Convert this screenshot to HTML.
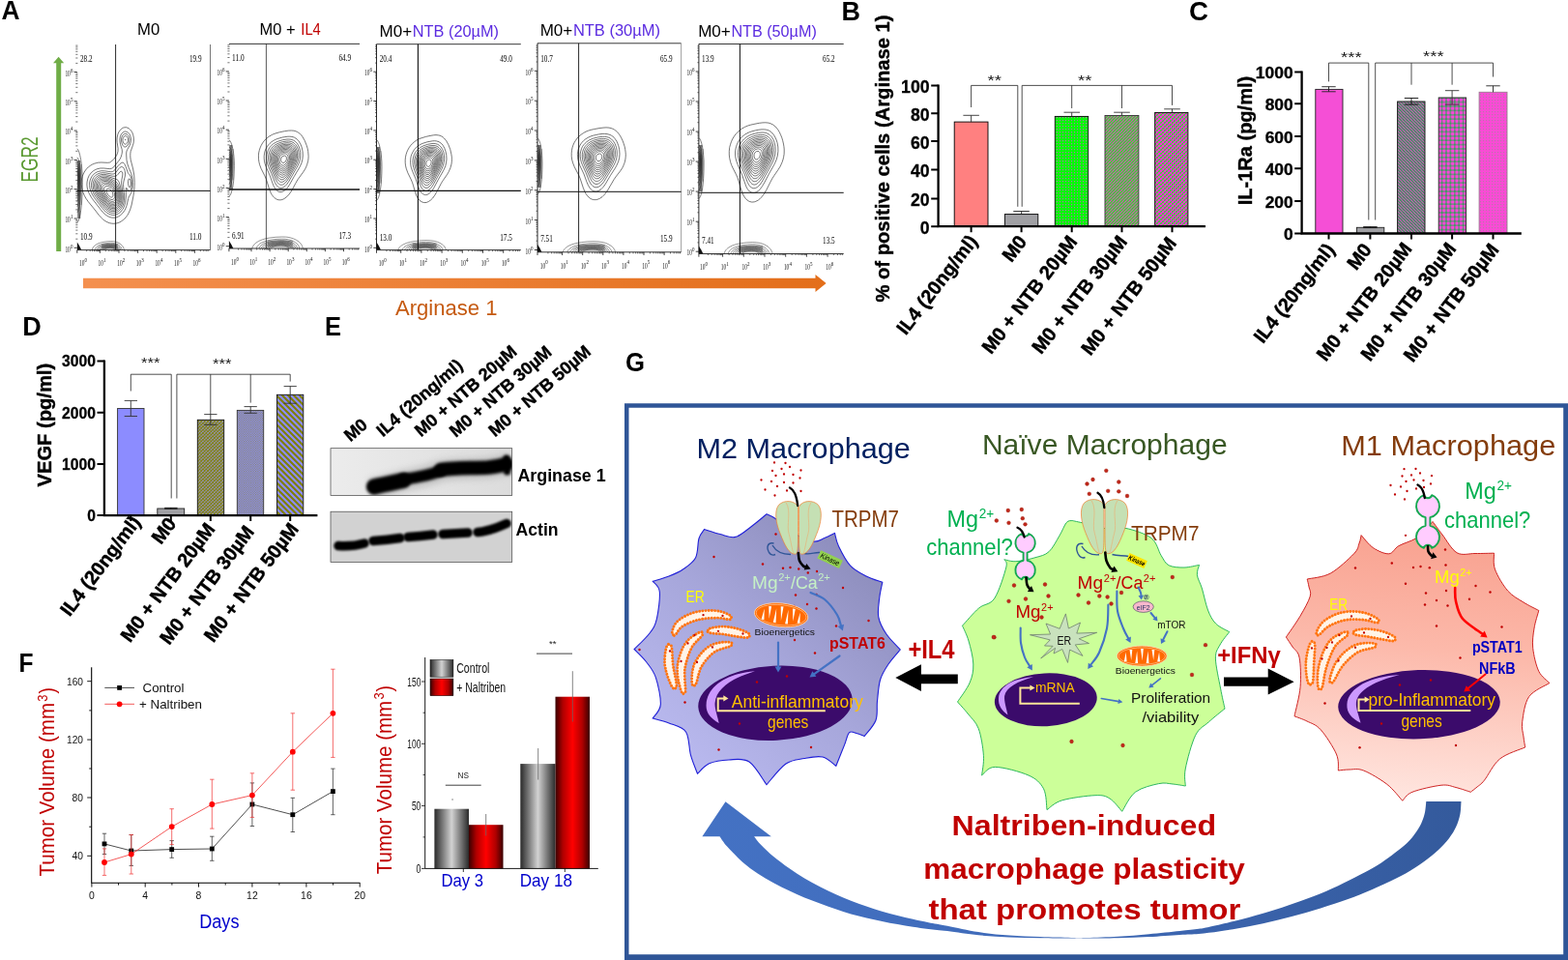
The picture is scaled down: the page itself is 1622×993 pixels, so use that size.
<!DOCTYPE html>
<html lang="en"><head><meta charset="utf-8"><title>Figure</title>
<style>
html,body{margin:0;padding:0;background:#fff;}
body{width:1622px;height:993px;overflow:hidden;font-family:"Liberation Sans",Arial,sans-serif;}
svg{display:block;}
text.s{font-family:"Liberation Sans",Arial,sans-serif;}
text.r{font-family:"Liberation Serif","Times New Roman",serif;}
</style></head><body>
<svg width="1622" height="993" viewBox="0 0 1622 993">
<defs><linearGradient id="gOr" x1="0" x2="1" y1="0" y2="0"><stop offset="0" stop-color="#F4904F"/><stop offset="1" stop-color="#E36E1A"/></linearGradient>
<pattern id="pB3" width="3" height="3" patternUnits="userSpaceOnUse"><rect width="3" height="3" fill="#00FF00"/><rect x="1" y="1" width="1.1" height="1.3" fill="#B06CB0"/></pattern><pattern id="pB4" width="3.2" height="3.2" patternUnits="userSpaceOnUse"><rect width="3.2" height="3.2" fill="#00FF00"/><path d="M-1 1L1 -1M-1 4.2L4.2 -1M2.2 4.2L4.2 2.2" stroke="#FF33DD" stroke-width="1.1"/></pattern><pattern id="pB5" width="4" height="4" patternUnits="userSpaceOnUse"><rect width="4" height="4" fill="#FF33DD"/><path d="M0.35 3.65L1.65 2.35M2.35 1.65L3.65 0.35" stroke="#00FF00" stroke-width="1.35"/></pattern><pattern id="pC3" width="3.2" height="3.2" patternUnits="userSpaceOnUse"><rect width="3.2" height="3.2" fill="#F050D0"/><path d="M-1 2.2L1 4.2M-1 -1L4.2 4.2M2.2 -1L4.2 1" stroke="#10A040" stroke-width="1.15"/></pattern><pattern id="pC4" width="4.4" height="4.4" patternUnits="userSpaceOnUse"><rect width="4.4" height="4.4" fill="#20A84C"/><rect x="0.5" y="0.5" width="3.4" height="3.4" rx="0.5" fill="#FF44DD"/></pattern><pattern id="pC5" width="3" height="3" patternUnits="userSpaceOnUse"><rect width="3" height="3" fill="#FA4BD6"/><rect x="1" y="1" width="1.1" height="1.2" fill="#B878A8"/></pattern><pattern id="pD3" width="3.4" height="3.4" patternUnits="userSpaceOnUse"><rect width="3.4" height="3.4" fill="#808000"/><path d="M0.3 3.1L1.4 2M2 1.4L3.1 0.3" stroke="#9A9AFF" stroke-width="1.2"/></pattern><pattern id="pD4" width="2.4" height="2.4" patternUnits="userSpaceOnUse"><rect width="2.4" height="2.4" fill="#8C8CFF"/><rect x="0" y="0" width="1.1" height="1.1" fill="#8A8A50"/><rect x="1.2" y="1.2" width="1.1" height="1.1" fill="#8A8A50"/></pattern><pattern id="pD5" width="6" height="6" patternUnits="userSpaceOnUse"><rect width="6" height="6" fill="#808000"/><path d="M-1 5L1 7M-1 -1L7 7M5 -1L7 1" stroke="#8C8CFF" stroke-width="2.1"/></pattern>

<filter id="bl1" filterUnits="userSpaceOnUse" x="330" y="450" width="220" height="150"><feGaussianBlur stdDeviation="1.6"/></filter>
<filter id="bl2" filterUnits="userSpaceOnUse" x="330" y="450" width="220" height="150"><feGaussianBlur stdDeviation="1.3"/></filter>
<filter id="bl3" filterUnits="userSpaceOnUse" x="330" y="450" width="220" height="150"><feGaussianBlur stdDeviation="3"/></filter>
<clipPath id="cE1"><rect x="342" y="463.7" width="187.7" height="48.9"/></clipPath>
<clipPath id="cE2"><rect x="342" y="529.2" width="187.7" height="52.2"/></clipPath>
<linearGradient id="gE1" x1="0" x2="1"><stop offset="0" stop-color="#ECECEC"/><stop offset="1" stop-color="#DCDCDC"/></linearGradient>
<linearGradient id="gGray" x1="0" x2="1"><stop offset="0" stop-color="#2a2a2a"/><stop offset="0.5" stop-color="#d2d2d2"/><stop offset="1" stop-color="#2a2a2a"/></linearGradient>
<linearGradient id="gRed" x1="0" x2="1"><stop offset="0" stop-color="#3a0000"/><stop offset="0.22" stop-color="#b00000"/><stop offset="0.5" stop-color="#ff0000"/><stop offset="0.78" stop-color="#b00000"/><stop offset="1" stop-color="#3a0000"/></linearGradient>


<linearGradient id="gM2" x1="0.1" y1="0.95" x2="0.9" y2="0.05"><stop offset="0" stop-color="#BCBCF2"/><stop offset="0.5" stop-color="#A6A6DA"/><stop offset="1" stop-color="#8888B6"/></linearGradient>
<linearGradient id="gM1" x1="0.55" y1="0" x2="0.45" y2="1"><stop offset="0" stop-color="#F89F8D"/><stop offset="0.45" stop-color="#FCB9AA"/><stop offset="1" stop-color="#FFE6E0"/></linearGradient>
<linearGradient id="gBig" gradientUnits="userSpaceOnUse" x1="726" y1="0" x2="1511" y2="0"><stop offset="0" stop-color="#4472C4"/><stop offset="0.45" stop-color="#3F6AB8"/><stop offset="1" stop-color="#345A9C"/></linearGradient>

</defs>
<rect width="1622" height="993" fill="#fff"/>
<g id="pa"><text x="1.5" y="20.3" class="s" font-size="27.5" font-weight="bold" fill="#000" textLength="19" lengthAdjust="spacingAndGlyphs" >A</text><path d="M58.2 260 L58.2 65.2 L55 65.2 L60.6 58.8 L66.2 65.2 L63.2 65.2 L63.2 260 Z" fill="#70AD47" stroke="none" stroke-width="1" /><text class="s" font-size="23.2" fill="#5B9A32" textLength="47" lengthAdjust="spacingAndGlyphs" transform="translate(39 188.5) rotate(-90)" >EGR2</text><path d="M86 287.8 L843.5 287.8 L843.5 284 L854.6 293 L843.5 302 L843.5 298.2 L86 298.2 Z" fill="url(#gOr)" stroke="none" stroke-width="1" /><text x="409" y="326.2" class="s" font-size="22.6" fill="#C55A11" textLength="105.5" lengthAdjust="spacingAndGlyphs" >Arginase 1</text><text x="142" y="36" class="s" font-size="16.6" fill="#000" textLength="23.2" lengthAdjust="spacingAndGlyphs" >M0</text><text x="268.6" y="35.9" class="s" font-size="16.6" fill="#000" textLength="37" lengthAdjust="spacingAndGlyphs" >M0 +</text><text x="311.3" y="35.9" class="s" font-size="16.6" fill="#C00000" textLength="20.5" lengthAdjust="spacingAndGlyphs" >IL4</text><text x="392.6" y="38" class="s" font-size="16.6" fill="#000" textLength="33.6" lengthAdjust="spacingAndGlyphs" >M0+</text><text x="426.8" y="38" class="s" font-size="16.6" fill="#5B2BE0" textLength="89.2" lengthAdjust="spacingAndGlyphs" >NTB (20µM)</text><text x="558.7" y="37" class="s" font-size="16.6" fill="#000" textLength="33.6" lengthAdjust="spacingAndGlyphs" >M0+</text><text x="592.9" y="37" class="s" font-size="16.6" fill="#5B2BE0" textLength="90.1" lengthAdjust="spacingAndGlyphs" >NTB (30µM)</text><text x="722.2" y="38" class="s" font-size="16.6" fill="#000" textLength="33.6" lengthAdjust="spacingAndGlyphs" >M0+</text><text x="756.4" y="38" class="s" font-size="16.6" fill="#5B2BE0" textLength="88.4" lengthAdjust="spacingAndGlyphs" >NTB (50µM)</text><path d="M120.3 231.0L117.8 231.3L115.3 231.1L113.3 230.7L110.8 229.7L108.3 228.3L106.3 226.7L104.3 224.8L102.3 222.5L97.3 216.0L91.2 208.5L89.1 205.5L87.4 202.5L85.7 198.5L84.7 194.5L84.2 190.5L84.3 187.0L84.6 185.0L85.2 182.5L86.2 180.0L87.2 178.0L88.5 176.0L89.8 174.4L91.3 172.9L93.3 171.4L95.3 170.2L97.3 169.3L99.3 168.7L101.3 168.2L104.8 168.0L111.3 168.3L113.3 168.1L114.3 167.7L115.3 167.0L117.8 164.5L119.7 162.0L120.8 160.3L121.5 158.5L122.0 156.5L122.1 153.5L121.2 147.5L121.0 145.0L121.2 142.0L122.0 138.5L122.7 137.0L123.5 135.5L125.3 133.5L126.3 132.7L127.8 132.0L128.8 131.8L130.3 131.7L131.8 132.1L133.3 132.9L134.3 133.7L135.5 135.0L136.5 136.5L137.2 138.0L137.7 139.5L138.2 142.0L138.4 145.0L138.1 148.0L137.4 150.5L135.2 156.5L134.9 158.5L134.8 160.5L134.9 163.0L135.3 165.7L137.7 175.0L138.7 181.0L139.0 185.0L139.2 188.5L139.1 192.5L138.9 196.0L138.0 202.5L136.1 212.0L134.6 217.0L133.0 220.5L131.9 222.5L130.4 224.5L128.8 226.3L127.3 227.6L125.8 228.7L123.8 229.9L121.8 230.6L120.3 231.0M119.3 225.1L117.8 225.2L115.8 225.1L113.8 224.7L111.8 223.8L109.8 222.6L108.3 221.4L106.3 219.4L104.3 217.0L95.4 205.5L93.8 203.0L92.4 200.5L91.1 197.5L90.2 194.0L89.9 191.0L90.1 188.0L90.9 184.5L92.2 181.5L94.3 178.7L96.8 176.6L98.3 175.7L100.3 174.8L103.8 174.0L107.3 174.0L113.3 174.6L115.3 174.3L116.8 173.5L117.8 172.6L122.7 166.5L124.1 164.5L125.1 162.5L126.0 159.5L126.4 157.0L126.2 154.5L124.6 149.5L124.1 147.0L123.9 144.0L124.3 141.5L125.3 139.0L126.8 137.2L128.3 136.3L129.3 136.0L130.3 136.1L131.3 136.4L132.3 136.9L133.8 138.5L134.8 140.5L135.4 143.0L135.4 145.5L135.0 148.0L134.1 150.5L131.8 154.5L131.1 156.0L130.7 158.0L130.7 160.0L131.0 165.5L131.7 169.0L133.2 173.5L135.8 179.6L136.7 183.0L137.1 185.5L137.3 188.5L137.3 191.5L137.1 194.0L136.6 196.5L136.1 198.5L135.3 200.3L133.1 204.0L132.7 205.5L131.1 212.5L130.2 215.0L129.0 217.5L126.9 220.5L124.8 222.5L122.3 224.1L120.8 224.7L119.3 225.1M129.8 152.0L128.8 152.0L128.3 151.8L127.5 151.0L126.8 150.0L125.8 147.5L125.5 145.0L125.7 142.5L126.3 141.0L126.8 140.1L127.3 139.5L128.3 138.7L129.8 138.4L131.3 138.8L132.1 139.5L132.8 140.4L133.6 142.5L133.9 144.5L133.6 147.0L132.8 149.0L131.3 151.1L129.8 152.0M119.8 222.1L118.3 222.4L116.3 222.4L114.8 222.1L112.8 221.4L110.8 220.2L109.3 219.0L107.7 217.5L106.0 215.5L97.6 204.5L96.0 202.0L94.9 200.0L93.6 197.0L92.9 194.5L92.6 191.5L92.6 189.0L93.3 186.0L94.7 183.0L96.6 180.5L98.8 178.8L100.3 177.9L101.8 177.4L104.8 176.7L108.3 176.8L114.3 177.7L115.8 177.6L116.8 177.3L117.8 176.7L118.8 175.8L121.8 171.9L123.8 169.8L125.3 168.6L126.8 168.1L127.8 168.4L128.8 169.6L130.2 172.5L132.3 178.6L132.9 179.5L134.3 181.1L135.3 183.0L135.9 185.0L136.3 187.5L136.3 190.0L136.2 192.5L135.8 194.6L135.3 196.0L134.8 196.9L134.3 197.4L133.8 197.6L133.3 197.6L132.4 197.0L130.8 194.3L130.3 194.8L130.3 203.0L130.1 206.0L129.6 209.5L128.6 213.0L127.8 215.0L126.9 216.5L124.9 219.0L123.8 220.0L122.3 221.0L119.8 222.1M130.3 149.0L129.3 149.2L128.3 148.6L127.8 148.0L127.3 147.0L127.0 145.5L127.0 144.0L127.3 142.5L128.3 141.1L129.3 140.6L130.3 140.6L131.3 141.3L132.0 142.5L132.4 144.0L132.4 145.5L132.0 147.0L131.3 148.2L130.3 149.0M119.3 220.1L117.8 220.3L116.3 220.3L114.3 219.9L112.8 219.2L111.3 218.3L109.7 217.0L108.2 215.5L106.3 213.3L99.0 203.5L97.4 201.0L96.4 199.0L95.4 196.5L94.7 194.0L94.5 191.5L94.7 189.0L95.5 186.0L96.8 183.6L98.7 181.5L100.8 180.1L103.3 179.1L106.3 178.7L109.3 178.9L115.3 180.0L116.8 180.0L117.8 179.8L118.8 179.3L119.8 178.5L122.8 174.5L123.8 173.5L125.3 172.6L126.3 172.6L127.3 173.1L128.4 174.5L129.1 176.5L129.5 179.0L129.4 182.0L127.9 188.0L127.6 190.5L127.7 193.5L128.6 202.0L128.6 205.0L128.4 207.5L127.9 210.0L127.3 212.0L126.4 214.0L125.3 215.7L123.8 217.5L122.6 218.5L120.8 219.6L119.3 220.1M134.3 193.7L133.8 193.7L133.2 193.0L132.8 191.5L132.5 189.5L132.5 187.5L132.8 186.0L133.3 185.0L133.8 184.9L134.3 185.2L134.8 186.1L135.3 189.0L135.3 190.6L135.1 192.0L134.8 193.0L134.3 193.7M129.8 145.1L129.6 145.0L129.5 144.5L129.8 144.3L129.9 144.5L129.8 145.1M118.3 218.5L116.8 218.6L115.3 218.4L113.8 217.9L112.3 217.1L110.8 216.0L109.3 214.7L105.8 210.5L100.4 203.0L98.8 200.5L97.8 198.5L97.0 196.5L96.4 194.0L96.1 191.5L96.3 189.5L97.0 187.0L98.4 184.5L100.3 182.6L102.3 181.4L104.8 180.6L107.8 180.4L110.3 180.8L116.3 182.2L118.8 182.3L119.8 182.1L120.9 181.5L121.9 180.5L123.8 178.1L124.8 177.3L125.3 177.2L125.8 177.3L126.4 178.0L126.8 179.0L126.9 180.0L126.7 182.0L125.8 186.5L125.6 189.0L125.9 192.0L127.2 201.5L127.3 205.0L127.0 208.0L126.5 210.0L125.8 212.0L124.8 213.9L123.8 215.2L122.6 216.5L121.3 217.4L119.8 218.1L118.3 218.5M117.8 217.0L115.8 217.0L113.8 216.3L111.8 215.1L109.8 213.4L106.9 210.0L102.5 204.0L100.6 201.0L99.0 198.0L98.1 195.5L97.7 193.5L97.6 191.0L98.0 189.0L98.7 187.0L99.8 185.3L101.3 183.8L103.3 182.7L105.3 182.1L107.3 181.9L109.3 182.1L111.8 182.6L120.8 185.6L122.1 186.5L123.0 188.0L124.5 193.0L125.9 199.5L126.2 203.5L125.9 207.5L125.4 209.5L124.9 211.0L124.1 212.5L123.1 214.0L122.1 215.0L120.8 216.0L119.3 216.7L117.8 217.0M117.8 215.6L115.8 215.5L114.1 215.0L112.3 214.0L110.3 212.3L107.8 209.4L104.2 204.5L101.9 201.0L100.3 198.0L99.4 195.5L99.1 193.5L99.0 191.5L99.3 189.5L99.9 188.0L100.8 186.5L102.3 185.0L103.8 184.1L105.8 183.5L108.3 183.4L111.3 183.9L114.3 184.9L117.7 186.5L119.8 187.8L121.3 189.4L122.5 191.5L123.9 195.5L124.9 200.0L125.2 204.0L124.8 207.5L123.8 210.5L122.3 213.0L121.3 214.0L120.3 214.7L119.3 215.2L117.8 215.6M118.3 214.1L116.8 214.3L114.8 213.9L112.8 212.9L111.1 211.5L108.8 209.0L106.2 205.5L103.5 201.5L101.8 198.5L101.0 196.5L100.5 194.5L100.3 192.5L100.4 191.0L101.0 189.0L101.8 187.6L102.8 186.5L104.3 185.5L106.3 184.9L108.8 184.8L111.3 185.2L113.8 186.1L116.5 187.5L118.8 189.1L120.3 190.8L121.7 193.0L123.0 196.5L123.9 200.0L124.2 203.5L123.9 206.5L123.3 209.0L121.9 211.5L120.3 213.1L119.3 213.7L118.3 214.1M118.3 212.6L116.8 212.9L115.3 212.7L113.6 212.0L111.8 210.7L110.1 209.0L108.1 206.5L105.4 202.5L103.6 199.5L102.6 197.5L101.9 195.5L101.6 193.5L101.7 192.0L102.0 190.5L102.6 189.0L103.4 188.0L104.8 186.9L106.8 186.2L108.8 186.1L110.8 186.4L113.3 187.3L115.8 188.6L117.8 190.1L119.6 192.0L120.8 194.0L122.1 197.0L122.9 200.0L123.2 203.0L123.1 205.5L122.5 208.0L121.5 210.0L120.3 211.5L119.3 212.2L118.3 212.6M116.8 211.5L115.8 211.4L114.3 211.0L112.8 210.1L111.3 208.7L109.8 207.0L107.6 204.0L105.6 201.0L104.3 198.5L103.5 196.5L103.1 195.0L102.9 193.5L103.1 192.0L103.5 190.5L104.2 189.5L105.2 188.5L106.1 188.0L107.8 187.5L109.8 187.5L111.8 188.0L114.3 189.1L116.3 190.5L118.0 192.0L119.3 193.7L120.6 196.0L121.5 198.5L122.1 201.5L122.2 204.0L121.8 206.5L121.0 208.5L119.8 210.2L118.3 211.2L116.8 211.5M116.8 210.0L115.8 210.0L114.3 209.5L113.3 209.0L111.8 207.7L110.3 206.0L108.8 204.0L107.1 201.5L105.8 199.0L104.6 196.0L104.4 194.5L104.4 193.0L104.6 192.0L105.1 191.0L105.8 190.2L106.8 189.5L108.3 189.0L109.8 189.0L111.8 189.4L113.8 190.3L115.6 191.5L117.2 193.0L118.4 194.5L119.6 196.5L120.4 198.5L121.0 201.0L121.2 203.5L120.9 205.5L120.3 207.3L119.3 208.8L118.3 209.6L116.8 210.0M117.8 208.0L116.8 208.4L115.8 208.5L114.3 208.0L113.3 207.4L112.2 206.5L110.8 204.9L108.1 201.0L106.5 197.5L105.9 195.0L106.0 193.5L106.4 192.5L107.1 191.5L107.8 191.0L108.8 190.7L110.3 190.6L111.8 190.9L113.3 191.5L114.8 192.5L116.0 193.5L117.3 194.9L118.3 196.5L119.6 199.5L120.0 201.5L120.1 203.0L119.9 204.5L119.5 206.0L118.8 207.1L117.8 208.0M116.3 206.6L114.8 206.4L113.8 205.9L112.8 205.2L110.8 202.9L109.0 200.0L108.0 197.5L107.7 195.5L107.8 194.5L108.3 193.5L109.3 192.7L110.3 192.5L111.3 192.6L112.7 193.0L113.8 193.6L115.0 194.5L116.0 195.5L116.8 196.5L117.7 198.0L118.3 199.5L118.6 201.0L118.7 203.5L118.3 204.8L117.8 205.6L117.3 206.1L116.3 206.6M115.3 204.1L114.3 203.9L113.1 203.0L111.8 201.5L110.9 200.0L110.3 198.5L110.1 197.0L110.3 196.0L110.8 195.4L111.3 195.2L112.3 195.2L113.8 195.9L115.3 197.3L116.3 198.9L116.8 200.5L116.9 202.5L116.3 203.6L115.8 204.0L115.3 204.1" fill="none" stroke="#1a1a1a" stroke-width="0.6" /><path d="M79.8 153.8L80.3 154.3L80.8 155.0L81.8 157.3L82.7 160.5L83.7 165.5L84.5 171.5L84.9 177.0L85.2 182.0L85.3 188.5L85.2 196.5L84.9 203.5L84.5 210.0L83.7 217.5L82.9 222.0L82.0 226.0L81.3 227.9L80.8 228.9L80.3 229.6L79.8 230.1M79.8 162.9L80.3 163.3L80.7 164.0L81.3 165.2L82.0 167.5L82.7 170.5L83.1 173.5L83.6 177.5L83.9 186.0L83.5 199.0L83.1 205.0L82.7 209.5L82.0 213.5L81.3 216.8L80.7 218.5L80.3 219.2L79.8 219.8M79.8 167.0L80.3 167.5L81.1 169.0L81.7 171.0L82.2 173.0L82.6 176.0L82.9 179.0L83.1 185.5L83.0 190.5L82.7 196.5L82.0 205.0L81.5 208.5L81.0 211.0L80.3 212.9L79.8 213.7M79.8 169.7L80.3 170.3L80.8 171.3L81.3 172.8L81.8 175.0L82.4 180.0L82.6 185.0L82.2 193.0L81.6 201.0L80.8 205.8L80.3 207.6L79.8 208.6M79.8 172.0L80.3 172.6L80.8 173.8L81.5 176.5L81.9 180.5L82.1 184.5L81.9 190.0L81.3 196.4L80.6 201.0L80.3 202.3L79.8 203.6M79.8 174.0L80.3 174.8L80.6 175.5L81.2 178.0L81.5 181.0L81.6 184.5L81.5 188.5L81.0 193.0L80.3 197.2L79.8 198.7M79.8 176.1L80.3 177.0L80.8 179.2L81.1 181.5L81.2 184.5L81.1 187.0L80.8 190.0L80.3 192.9L79.8 194.4M79.8 178.3L80.4 180.5L80.6 184.0L80.4 188.0L79.8 190.7" fill="none" stroke="#1c1c1c" stroke-width="0.55" /><rect x="80.2" y="166" width="3" height="60" fill="#222" stroke="none" stroke-width="0" opacity="0.62"/><rect x="83.2" y="170" width="1.6" height="42" fill="#444" stroke="none" stroke-width="0" opacity="0.35"/><path d="M95.1 259.0L95.3 258.0L95.7 257.0L96.2 256.0L97.0 255.0L98.7 253.5L101.0 252.1L103.5 251.2L107.0 250.3L111.0 249.8L114.5 249.6L117.5 249.7L120.0 250.2L122.0 250.9L124.0 252.0L125.9 253.5L127.1 255.0L128.1 257.0L128.5 259.0M97.9 259.0L98.3 257.5L99.3 256.0L101.0 254.5L103.0 253.4L105.5 252.5L108.5 251.8L112.0 251.4L114.5 251.2L117.0 251.4L119.0 251.8L121.0 252.4L122.5 253.2L124.1 254.5L125.3 256.0L126.0 257.5L126.3 259.0M99.7 259.0L100.2 257.5L100.9 256.5L102.0 255.5L104.0 254.3L106.5 253.4L109.0 252.8L112.0 252.4L114.5 252.3L116.5 252.4L118.5 252.8L120.0 253.3L121.5 254.0L122.8 255.0L123.7 256.0L124.5 257.5L124.9 259.0M101.1 259.0L101.7 257.5L102.5 256.6L103.5 255.8L105.0 254.9L107.0 254.2L109.5 253.6L112.0 253.2L114.5 253.1L116.5 253.3L118.0 253.5L119.5 254.0L121.0 254.8L122.0 255.7L122.7 256.5L123.3 257.5L123.8 259.0M102.4 259.0L102.8 258.0L103.6 257.0L104.5 256.2L106.0 255.4L108.0 254.7L110.0 254.3L112.5 253.9L114.5 253.8L116.0 253.9L117.5 254.2L119.0 254.7L120.0 255.2L121.1 256.0L122.0 257.0L122.5 258.0L122.8 259.0M103.6 259.0L104.1 258.0L104.5 257.5L105.7 256.5L107.0 255.8L108.5 255.3L110.5 254.8L114.0 254.5L115.5 254.5L117.0 254.8L118.5 255.2L119.5 255.7L120.5 256.5L121.0 257.0L121.6 258.0L121.9 259.0M104.8 259.0L105.3 258.0L105.8 257.5L107.5 256.4L109.0 255.9L110.5 255.5L112.5 255.2L114.0 255.1L116.5 255.3L118.5 256.0L119.5 256.6L120.4 257.5L120.7 258.0L121.0 259.0M106.0 259.0L106.7 258.0L107.3 257.5L108.5 256.8L111.0 256.0L114.0 255.7L116.0 255.9L117.0 256.1L118.0 256.5L119.3 257.5L119.7 258.0L120.2 259.0M107.4 259.0L107.7 258.5L108.2 258.0L108.9 257.5L110.0 257.0L112.0 256.5L114.0 256.3L116.0 256.5L117.4 257.0L118.2 257.5L118.7 258.0L119.2 259.0" fill="none" stroke="#2a2a2a" stroke-width="0.5" /><rect x="105.15" y="252.23" width="16.625" height="5.46" fill="#333" stroke="none" stroke-width="0" opacity="0.4"/><path d="M79.8 250.6 L82.0 254.1 L84.3 258.6 L79.8 258.6 Z" fill="#111" stroke="none" stroke-width="1" /><line x1="217.5" y1="46" x2="217.5" y2="258.6" stroke="#555" stroke-width="0.8" /><line x1="79.8" y1="258.6" x2="217.5" y2="258.6" stroke="#222" stroke-width="0.9" /><line x1="119.6" y1="46" x2="119.6" y2="258.6" stroke="#111" stroke-width="0.9" /><line x1="79.8" y1="197.4" x2="217.5" y2="197.4" stroke="#111" stroke-width="1" /><text x="67.4" y="260.5" class="r" font-size="8.8" fill="#111" textLength="5.4" lengthAdjust="spacingAndGlyphs" >10</text><text x="72.9" y="256.5" class="r" font-size="6" fill="#111" textLength="2.5" lengthAdjust="spacingAndGlyphs" >0</text><text x="67.4" y="230.2" class="r" font-size="8.8" fill="#111" textLength="5.4" lengthAdjust="spacingAndGlyphs" >10</text><text x="72.9" y="226.2" class="r" font-size="6" fill="#111" textLength="2.5" lengthAdjust="spacingAndGlyphs" >1</text><text x="67.4" y="199.9" class="r" font-size="8.8" fill="#111" textLength="5.4" lengthAdjust="spacingAndGlyphs" >10</text><text x="72.9" y="195.9" class="r" font-size="6" fill="#111" textLength="2.5" lengthAdjust="spacingAndGlyphs" >2</text><text x="67.4" y="169.6" class="r" font-size="8.8" fill="#111" textLength="5.4" lengthAdjust="spacingAndGlyphs" >10</text><text x="72.9" y="165.6" class="r" font-size="6" fill="#111" textLength="2.5" lengthAdjust="spacingAndGlyphs" >3</text><text x="67.4" y="139.3" class="r" font-size="8.8" fill="#111" textLength="5.4" lengthAdjust="spacingAndGlyphs" >10</text><text x="72.9" y="135.3" class="r" font-size="6" fill="#111" textLength="2.5" lengthAdjust="spacingAndGlyphs" >4</text><text x="67.4" y="109" class="r" font-size="8.8" fill="#111" textLength="5.4" lengthAdjust="spacingAndGlyphs" >10</text><text x="72.9" y="105" class="r" font-size="6" fill="#111" textLength="2.5" lengthAdjust="spacingAndGlyphs" >5</text><text x="67.4" y="78.7" class="r" font-size="8.8" fill="#111" textLength="5.4" lengthAdjust="spacingAndGlyphs" >10</text><text x="72.9" y="74.7" class="r" font-size="6" fill="#111" textLength="2.5" lengthAdjust="spacingAndGlyphs" >6</text><text x="82" y="275.4" class="r" font-size="8.8" fill="#111" textLength="5.4" lengthAdjust="spacingAndGlyphs" >10</text><text x="87.5" y="271.2" class="r" font-size="6" fill="#111" textLength="2.5" lengthAdjust="spacingAndGlyphs" >0</text><text x="101.6" y="275.4" class="r" font-size="8.8" fill="#111" textLength="5.4" lengthAdjust="spacingAndGlyphs" >10</text><text x="107.1" y="271.2" class="r" font-size="6" fill="#111" textLength="2.5" lengthAdjust="spacingAndGlyphs" >1</text><text x="121.2" y="275.4" class="r" font-size="8.8" fill="#111" textLength="5.4" lengthAdjust="spacingAndGlyphs" >10</text><text x="126.7" y="271.2" class="r" font-size="6" fill="#111" textLength="2.5" lengthAdjust="spacingAndGlyphs" >2</text><text x="140.8" y="275.4" class="r" font-size="8.8" fill="#111" textLength="5.4" lengthAdjust="spacingAndGlyphs" >10</text><text x="146.3" y="271.2" class="r" font-size="6" fill="#111" textLength="2.5" lengthAdjust="spacingAndGlyphs" >3</text><text x="160.4" y="275.4" class="r" font-size="8.8" fill="#111" textLength="5.4" lengthAdjust="spacingAndGlyphs" >10</text><text x="165.9" y="271.2" class="r" font-size="6" fill="#111" textLength="2.5" lengthAdjust="spacingAndGlyphs" >4</text><text x="180" y="275.4" class="r" font-size="8.8" fill="#111" textLength="5.4" lengthAdjust="spacingAndGlyphs" >10</text><text x="185.5" y="271.2" class="r" font-size="6" fill="#111" textLength="2.5" lengthAdjust="spacingAndGlyphs" >5</text><text x="199.6" y="275.4" class="r" font-size="8.8" fill="#111" textLength="5.4" lengthAdjust="spacingAndGlyphs" >10</text><text x="205.1" y="271.2" class="r" font-size="6" fill="#111" textLength="2.5" lengthAdjust="spacingAndGlyphs" >6</text><path d="M76.6 256.3H79.8M76.6 226.0H79.8M76.6 195.7H79.8M76.6 165.4H79.8M76.6 135.1H79.8M76.6 104.8H79.8M76.6 74.5H79.8M103.4 258.6V261.8M123.0 258.6V261.8M142.6 258.6V261.8M162.2 258.6V261.8M181.8 258.6V261.8M201.4 258.6V261.8M79.8 258.6V261.8" fill="none" stroke="#111" stroke-width="0.8" /><path d="M78.3 247.2H80.4M78.3 241.8H80.4M78.3 238.1H80.4M78.3 235.1H80.4M78.3 232.7H80.4M78.3 230.7H80.4M78.3 228.9H80.4M78.3 227.4H80.4M78.3 216.9H80.4M78.3 211.5H80.4M78.3 207.8H80.4M78.3 204.8H80.4M78.3 202.4H80.4M78.3 200.4H80.4M78.3 198.6H80.4M78.3 197.1H80.4M78.3 186.6H80.4M78.3 181.2H80.4M78.3 177.5H80.4M78.3 174.5H80.4M78.3 172.1H80.4M78.3 170.1H80.4M78.3 168.3H80.4M78.3 166.8H80.4M78.3 156.3H80.4M78.3 150.9H80.4M78.3 147.2H80.4M78.3 144.2H80.4M78.3 141.8H80.4M78.3 139.8H80.4M78.3 138.0H80.4M78.3 136.5H80.4M78.3 126.0H80.4M78.3 120.6H80.4M78.3 116.9H80.4M78.3 113.9H80.4M78.3 111.5H80.4M78.3 109.5H80.4M78.3 107.7H80.4M78.3 106.2H80.4M78.3 95.7H80.4M78.3 90.3H80.4M78.3 86.6H80.4M78.3 83.6H80.4M78.3 81.2H80.4M78.3 79.2H80.4M78.3 77.4H80.4M78.3 75.9H80.4M78.3 65.4H80.4M78.3 60.0H80.4M78.3 56.3H80.4M78.3 53.3H80.4M78.3 50.9H80.4M78.3 48.9H80.4M78.3 47.1H80.4M89.7 258.6V260.2M93.2 258.6V260.2M95.6 258.6V260.2M97.5 258.6V260.2M99.1 258.6V260.2M100.4 258.6V260.2M101.5 258.6V260.2M102.5 258.6V260.2M109.3 258.6V260.2M112.8 258.6V260.2M115.2 258.6V260.2M117.1 258.6V260.2M118.7 258.6V260.2M120.0 258.6V260.2M121.1 258.6V260.2M122.1 258.6V260.2M128.9 258.6V260.2M132.4 258.6V260.2M134.8 258.6V260.2M136.7 258.6V260.2M138.3 258.6V260.2M139.6 258.6V260.2M140.7 258.6V260.2M141.7 258.6V260.2M148.5 258.6V260.2M152.0 258.6V260.2M154.4 258.6V260.2M156.3 258.6V260.2M157.9 258.6V260.2M159.2 258.6V260.2M160.3 258.6V260.2M161.3 258.6V260.2M168.1 258.6V260.2M171.6 258.6V260.2M174.0 258.6V260.2M175.9 258.6V260.2M177.5 258.6V260.2M178.8 258.6V260.2M179.9 258.6V260.2M180.9 258.6V260.2M187.7 258.6V260.2M191.2 258.6V260.2M193.6 258.6V260.2M195.5 258.6V260.2M197.1 258.6V260.2M198.4 258.6V260.2M199.5 258.6V260.2M200.5 258.6V260.2M207.3 258.6V260.2M210.8 258.6V260.2M213.2 258.6V260.2M215.1 258.6V260.2" fill="none" stroke="#111" stroke-width="0.6" /><text x="83" y="64.2" class="r" font-size="10.8" fill="#000" textLength="12.6" lengthAdjust="spacingAndGlyphs" >28.2</text><text x="195.9" y="64.2" class="r" font-size="10.8" fill="#000" textLength="12.6" lengthAdjust="spacingAndGlyphs" >19.9</text><text x="83" y="248.2" class="r" font-size="10.8" fill="#000" textLength="12.6" lengthAdjust="spacingAndGlyphs" >10.9</text><text x="195.9" y="248.2" class="r" font-size="10.8" fill="#000" textLength="12.6" lengthAdjust="spacingAndGlyphs" >11.0</text><path d="M291.9 206.5L290.4 206.8L288.4 206.8L286.9 206.4L285.4 205.7L283.9 204.6L282.4 203.0L281.2 201.4L280.1 199.4L278.5 195.4L275.4 185.3L273.9 181.9L270.1 174.4L268.6 170.4L267.9 167.4L267.5 164.4L267.4 160.9L267.7 157.9L268.3 155.4L269.1 152.9L270.2 150.4L271.6 147.9L273.1 145.9L274.9 143.9L276.9 142.2L278.9 140.8L281.4 139.4L283.9 138.3L289.4 136.7L294.4 135.7L298.4 135.1L301.4 135.0L303.9 135.2L305.9 135.7L307.4 136.4L308.9 137.3L310.4 138.5L311.8 139.9L312.9 141.4L315.2 145.4L317.2 150.4L318.1 153.4L318.7 156.4L319.1 161.4L319.0 163.9L318.7 166.4L317.6 170.4L316.6 172.9L315.6 174.9L313.7 177.9L307.9 185.9L305.9 189.4L302.7 195.4L300.6 198.9L298.4 201.8L296.4 203.8L293.9 205.6L291.9 206.5M291.4 198.5L289.9 198.6L288.9 198.4L287.9 198.1L286.9 197.5L285.9 196.6L284.9 195.5L283.1 192.4L282.1 189.9L279.4 182.1L275.6 173.4L274.1 169.4L273.5 166.9L273.2 163.9L273.2 161.4L273.5 158.9L273.9 156.9L274.6 154.9L276.5 151.4L277.6 149.9L279.0 148.4L280.4 147.1L282.4 145.7L284.4 144.6L286.4 143.7L291.9 142.1L294.9 141.6L297.9 141.2L299.9 141.2L301.9 141.4L304.4 142.1L306.9 143.7L309.0 145.9L310.8 148.9L312.2 152.4L313.1 156.9L313.3 160.9L312.9 164.9L312.0 168.4L310.3 172.4L304.4 182.3L299.0 191.9L297.2 194.4L295.4 196.3L293.4 197.7L291.4 198.5M291.4 194.4L290.4 194.5L289.4 194.3L288.4 193.9L287.4 193.2L285.9 191.4L284.2 188.4L280.9 179.7L277.7 172.4L276.5 168.9L276.0 166.4L275.7 163.9L275.8 161.4L276.1 159.4L277.1 155.9L278.7 152.9L280.9 150.3L282.4 149.0L283.9 148.0L285.9 146.9L287.9 146.1L292.4 144.7L296.9 144.0L298.9 144.0L300.9 144.2L303.4 145.0L305.4 146.2L307.4 148.3L308.9 150.9L310.0 153.9L310.7 157.4L310.8 160.9L310.5 164.4L309.6 167.9L307.8 171.9L298.4 188.3L296.5 190.9L294.9 192.6L293.4 193.7L291.4 194.4M292.4 191.0L291.4 191.2L290.4 191.2L289.4 190.9L288.6 190.4L286.9 188.7L285.4 186.1L279.8 172.9L278.5 169.4L278.0 167.4L277.7 164.9L277.6 162.4L277.8 160.4L278.6 157.4L280.1 154.4L282.2 151.9L284.9 149.7L288.4 148.0L292.4 146.7L296.4 146.1L298.4 146.0L299.9 146.2L301.9 146.7L304.1 147.9L305.9 149.7L307.3 151.9L308.3 154.4L308.9 157.4L309.1 160.4L308.8 163.9L307.7 167.9L306.2 171.4L298.9 184.1L296.9 187.1L295.4 188.9L293.9 190.2L292.4 191.0M291.4 188.4L290.4 188.3L289.4 187.9L288.4 187.1L287.4 185.9L285.4 182.2L281.7 173.9L280.2 169.9L279.4 166.4L279.1 163.4L279.4 160.4L280.4 157.4L281.8 154.9L283.9 152.5L286.1 150.9L289.4 149.3L293.4 148.2L296.9 147.7L299.9 148.0L301.9 148.7L303.7 149.9L305.1 151.4L306.2 153.4L307.1 155.9L307.5 158.4L307.6 161.4L307.2 164.4L306.2 167.9L304.7 171.4L302.2 175.9L297.9 182.9L295.9 185.6L294.4 187.1L292.9 188.0L291.4 188.4M292.9 185.5L291.9 185.8L290.9 185.8L289.4 185.1L287.8 183.4L285.9 180.0L282.9 173.4L281.2 168.9L280.8 166.9L280.5 164.9L280.7 161.4L281.3 158.9L282.5 156.4L284.4 154.1L286.4 152.4L289.4 150.8L292.9 149.7L295.9 149.3L298.9 149.4L300.9 150.0L302.4 150.9L303.9 152.4L304.9 153.9L305.7 155.9L306.2 158.4L306.4 160.9L306.1 163.4L305.6 165.9L304.5 168.9L303.1 171.9L301.1 175.4L298.4 179.7L296.4 182.5L294.4 184.6L292.9 185.5M291.9 183.4L290.9 183.3L289.9 182.8L288.4 181.4L286.8 178.9L284.6 174.4L282.9 170.4L282.1 167.4L281.7 164.4L282.0 161.4L282.7 158.9L283.8 156.9L285.4 154.9L287.4 153.3L289.9 152.0L292.9 151.0L295.9 150.6L298.4 150.8L300.4 151.4L301.9 152.4L303.3 153.9L304.1 155.4L304.8 157.4L305.1 159.4L305.2 161.9L304.8 164.4L303.9 167.4L302.6 170.4L300.7 173.9L298.4 177.6L296.4 180.3L294.9 181.9L293.4 183.0L291.9 183.4M292.9 181.0L291.4 181.1L289.9 180.4L288.9 179.5L288.1 178.4L286.3 175.4L284.5 171.4L283.3 167.9L282.9 164.9L283.1 161.9L283.8 159.4L284.9 157.5L286.4 155.7L288.1 154.4L290.4 153.1L292.9 152.3L295.4 151.9L297.9 152.1L299.4 152.5L300.9 153.4L302.0 154.4L303.0 155.9L303.6 157.4L304.0 159.4L304.1 161.4L303.8 163.9L303.2 166.4L302.2 168.9L301.0 171.4L299.4 174.1L297.4 177.0L295.9 178.8L294.4 180.2L292.9 181.0M292.9 179.0L291.4 179.0L289.9 178.2L288.4 176.5L286.8 173.9L285.4 170.9L284.5 167.9L284.0 164.9L284.2 162.4L284.7 160.4L285.7 158.4L286.9 156.9L288.7 155.4L290.9 154.2L292.9 153.6L295.4 153.2L297.4 153.3L298.9 153.8L300.0 154.4L301.1 155.4L302.1 156.9L302.6 158.4L302.9 159.9L303.0 161.9L302.8 163.9L302.3 165.9L301.4 168.4L300.4 170.4L298.9 172.9L297.4 175.1L295.9 176.9L294.4 178.2L292.9 179.0M292.9 177.0L291.4 176.9L289.9 176.0L288.5 174.4L287.4 172.6L286.2 169.9L285.4 167.4L285.1 164.9L285.3 162.9L285.8 160.9L286.5 159.4L287.6 157.9L289.4 156.4L290.9 155.5L292.9 154.8L294.9 154.5L296.9 154.6L298.4 155.1L299.4 155.7L300.2 156.4L300.9 157.4L301.5 158.9L301.8 160.4L301.9 161.9L301.7 163.9L301.2 165.9L300.5 167.9L299.4 170.2L298.0 172.4L296.9 173.9L295.4 175.5L293.9 176.6L292.9 177.0M293.4 175.0L291.9 175.1L290.9 174.7L289.4 173.4L288.4 172.0L287.4 169.9L286.6 167.4L286.3 165.4L286.4 163.4L286.7 161.9L287.3 160.4L288.4 158.9L289.4 157.9L290.9 156.9L292.4 156.3L294.4 155.8L295.9 155.8L297.4 156.2L298.4 156.7L299.2 157.4L299.9 158.4L300.4 159.5L300.7 160.9L300.7 163.4L300.4 165.1L299.8 166.9L298.9 168.9L297.9 170.7L296.6 172.4L295.4 173.7L294.4 174.5L293.4 175.0M293.4 173.1L292.4 173.2L291.4 172.9L290.4 172.2L289.3 170.9L288.4 169.2L287.8 167.4L287.5 165.4L287.6 163.9L287.9 162.4L288.4 161.2L289.2 159.9L290.3 158.9L291.4 158.1L292.9 157.5L294.4 157.2L295.4 157.2L296.4 157.4L297.4 157.9L298.1 158.4L298.8 159.4L299.5 161.4L299.5 163.9L298.9 166.4L297.4 169.4L296.4 170.8L295.4 171.8L294.4 172.6L293.4 173.1M293.4 171.0L292.4 171.1L291.8 170.9L290.9 170.3L290.2 169.4L289.4 168.0L289.1 166.9L288.9 165.9L288.9 164.4L289.4 162.4L289.9 161.4L290.9 160.3L291.9 159.6L292.9 159.1L293.9 158.9L294.9 158.8L296.4 159.3L297.5 160.4L298.1 161.9L298.2 163.9L297.5 166.4L296.4 168.5L294.9 170.2L293.4 171.0M293.4 168.5L292.4 168.4L291.4 167.6L290.8 166.4L290.6 165.4L290.7 164.4L291.2 162.9L291.9 161.9L292.9 161.3L294.4 161.0L295.4 161.4L295.9 161.9L296.3 162.9L296.4 164.4L296.0 165.9L295.4 167.0L294.4 168.1L293.4 168.5" fill="none" stroke="#1a1a1a" stroke-width="0.6" /><path d="M236.9 144.8L237.4 145.1L237.9 145.7L238.9 147.4L239.8 149.9L240.7 153.4L241.6 158.4L242.0 162.4L242.3 166.4L242.4 171.4L242.2 177.9L242.0 182.9L241.6 187.9L240.8 193.4L240.0 196.9L239.1 199.9L238.4 201.5L237.9 202.2L237.4 202.8L236.9 203.1M236.9 151.7L237.7 152.4L238.4 153.5L239.2 155.4L239.7 157.4L240.3 159.9L240.7 162.9L241.0 169.4L240.6 179.4L240.2 183.9L239.7 187.4L239.2 190.4L238.4 192.9L237.7 194.4L236.9 195.3M236.9 154.8L237.4 155.2L238.2 156.4L238.8 157.9L239.2 159.4L239.7 161.4L240.0 163.9L240.2 168.9L240.1 172.9L239.8 177.4L239.1 183.9L238.7 186.4L238.1 188.4L237.4 190.0L236.9 190.6M236.9 157.0L237.4 157.4L237.9 158.2L238.4 159.3L238.9 160.9L239.4 164.4L239.7 168.4L239.4 174.4L238.7 180.9L237.9 184.6L237.4 185.9L236.9 186.7M236.9 158.7L237.4 159.2L237.9 160.1L238.5 161.9L239.0 164.9L239.2 168.4L239.0 172.4L238.4 177.4L237.7 180.9L237.4 181.9L236.9 182.9M236.9 160.3L237.4 160.9L237.7 161.4L238.3 163.4L238.6 165.9L238.7 168.4L238.6 171.4L238.1 174.9L237.4 178.0L236.9 179.1M236.9 161.8L237.4 162.6L237.9 164.2L238.1 165.9L238.3 167.9L238.2 169.9L237.9 172.5L237.4 174.7L236.9 175.9M236.9 163.5L237.4 164.9L237.7 166.4L237.7 167.9L237.5 170.9L236.9 173.0" fill="none" stroke="#1c1c1c" stroke-width="0.55" /><rect x="237.3" y="150" width="3" height="46" fill="#222" stroke="none" stroke-width="0" opacity="0.62"/><rect x="240.3" y="154" width="1.6" height="32.2" fill="#444" stroke="none" stroke-width="0" opacity="0.35"/><path d="M260.8 257.2L261.2 255.7L261.7 254.7L262.6 253.3L263.6 252.2L264.8 251.2L266.1 250.3L267.6 249.4L269.6 248.5L271.6 247.8L274.1 247.0L279.1 246.0L285.1 245.3L291.6 245.0L295.6 245.1L298.1 245.4L300.1 245.8L303.6 246.9L306.6 248.3L309.1 250.0L310.4 251.2L311.2 252.2L311.9 253.2L312.7 254.7L313.0 255.7L313.3 257.2M265.1 257.2L265.4 256.2L265.9 255.2L266.5 254.2L267.5 253.2L268.7 252.2L270.1 251.3L273.1 250.0L276.6 248.9L281.1 248.0L286.1 247.4L291.1 247.2L295.1 247.3L298.6 247.9L301.6 248.7L304.1 249.9L305.4 250.7L306.6 251.6L308.1 253.2L308.8 254.2L309.3 255.2L309.8 257.2M268.0 257.2L268.3 256.2L268.8 255.2L270.2 253.7L272.4 252.2L275.1 251.0L278.6 250.0L282.1 249.3L286.6 248.7L291.1 248.5L294.6 248.7L297.6 249.2L300.1 249.8L302.6 250.9L304.5 252.2L306.0 253.7L307.0 255.2L307.4 256.2L307.6 257.2M270.2 257.2L270.9 255.7L272.2 254.2L274.1 252.9L276.6 251.8L279.6 251.0L283.1 250.3L287.1 249.8L291.1 249.6L294.1 249.7L296.6 250.1L299.1 250.8L301.1 251.6L302.9 252.7L304.5 254.2L305.4 255.7L305.9 257.2M272.3 257.2L272.6 256.3L273.0 255.7L274.0 254.7L275.6 253.6L278.1 252.5L280.6 251.8L284.1 251.1L287.6 250.7L291.1 250.5L293.6 250.6L296.1 251.0L298.1 251.5L300.1 252.3L301.6 253.2L303.1 254.6L303.8 255.7L304.3 257.2M274.2 257.2L274.7 256.2L275.6 255.2L277.1 254.2L279.3 253.2L281.6 252.5L284.6 251.9L287.6 251.5L290.6 251.4L293.1 251.5L295.1 251.7L297.1 252.2L299.1 253.0L300.4 253.7L301.6 254.8L302.3 255.7L302.9 257.2M276.1 257.2L276.6 256.2L277.7 255.2L279.1 254.4L280.9 253.7L283.1 253.1L285.6 252.6L288.1 252.3L290.6 252.2L292.6 252.2L294.6 252.5L296.6 253.0L298.1 253.5L299.3 254.2L300.4 255.2L301.2 256.2L301.6 257.2M278.0 257.2L278.6 256.3L279.3 255.7L280.6 254.9L282.4 254.2L284.2 253.7L286.6 253.3L290.6 252.9L292.6 253.0L294.1 253.2L295.6 253.6L297.1 254.1L298.2 254.7L299.1 255.5L299.7 256.2L300.2 257.2M280.1 257.2L280.9 256.2L281.7 255.7L284.1 254.7L287.1 254.0L290.6 253.7L293.6 254.0L296.0 254.7L297.7 255.7L298.2 256.2L298.7 257.2" fill="none" stroke="#2a2a2a" stroke-width="0.5" /><rect x="276.579" y="248.74" width="26.1725" height="7.08" fill="#333" stroke="none" stroke-width="0" opacity="0.4"/><path d="M236.9 249.0 L239.1 252.5 L241.4 257.0 L236.9 257.0 Z" fill="#111" stroke="none" stroke-width="1" /><line x1="236.9" y1="45.4" x2="372" y2="45.4" stroke="#222" stroke-width="0.9" /><line x1="236.9" y1="257" x2="372" y2="257" stroke="#222" stroke-width="0.9" /><line x1="275.4" y1="45.4" x2="275.4" y2="257" stroke="#111" stroke-width="0.7" /><line x1="236.9" y1="196" x2="372" y2="196" stroke="#111" stroke-width="1.5" /><text x="224.5" y="258.9" class="r" font-size="8.8" fill="#111" textLength="5.4" lengthAdjust="spacingAndGlyphs" >10</text><text x="230" y="254.9" class="r" font-size="6" fill="#111" textLength="2.5" lengthAdjust="spacingAndGlyphs" >0</text><text x="224.5" y="228.767" class="r" font-size="8.8" fill="#111" textLength="5.4" lengthAdjust="spacingAndGlyphs" >10</text><text x="230" y="224.767" class="r" font-size="6" fill="#111" textLength="2.5" lengthAdjust="spacingAndGlyphs" >1</text><text x="224.5" y="198.633" class="r" font-size="8.8" fill="#111" textLength="5.4" lengthAdjust="spacingAndGlyphs" >10</text><text x="230" y="194.633" class="r" font-size="6" fill="#111" textLength="2.5" lengthAdjust="spacingAndGlyphs" >2</text><text x="224.5" y="168.5" class="r" font-size="8.8" fill="#111" textLength="5.4" lengthAdjust="spacingAndGlyphs" >10</text><text x="230" y="164.5" class="r" font-size="6" fill="#111" textLength="2.5" lengthAdjust="spacingAndGlyphs" >3</text><text x="224.5" y="138.367" class="r" font-size="8.8" fill="#111" textLength="5.4" lengthAdjust="spacingAndGlyphs" >10</text><text x="230" y="134.367" class="r" font-size="6" fill="#111" textLength="2.5" lengthAdjust="spacingAndGlyphs" >4</text><text x="224.5" y="108.233" class="r" font-size="8.8" fill="#111" textLength="5.4" lengthAdjust="spacingAndGlyphs" >10</text><text x="230" y="104.233" class="r" font-size="6" fill="#111" textLength="2.5" lengthAdjust="spacingAndGlyphs" >5</text><text x="224.5" y="78.1" class="r" font-size="8.8" fill="#111" textLength="5.4" lengthAdjust="spacingAndGlyphs" >10</text><text x="230" y="74.1" class="r" font-size="6" fill="#111" textLength="2.5" lengthAdjust="spacingAndGlyphs" >6</text><text x="239.1" y="273.8" class="r" font-size="8.8" fill="#111" textLength="5.4" lengthAdjust="spacingAndGlyphs" >10</text><text x="244.6" y="269.6" class="r" font-size="6" fill="#111" textLength="2.5" lengthAdjust="spacingAndGlyphs" >0</text><text x="258.2" y="273.8" class="r" font-size="8.8" fill="#111" textLength="5.4" lengthAdjust="spacingAndGlyphs" >10</text><text x="263.7" y="269.6" class="r" font-size="6" fill="#111" textLength="2.5" lengthAdjust="spacingAndGlyphs" >1</text><text x="277.3" y="273.8" class="r" font-size="8.8" fill="#111" textLength="5.4" lengthAdjust="spacingAndGlyphs" >10</text><text x="282.8" y="269.6" class="r" font-size="6" fill="#111" textLength="2.5" lengthAdjust="spacingAndGlyphs" >2</text><text x="296.4" y="273.8" class="r" font-size="8.8" fill="#111" textLength="5.4" lengthAdjust="spacingAndGlyphs" >10</text><text x="301.9" y="269.6" class="r" font-size="6" fill="#111" textLength="2.5" lengthAdjust="spacingAndGlyphs" >3</text><text x="315.5" y="273.8" class="r" font-size="8.8" fill="#111" textLength="5.4" lengthAdjust="spacingAndGlyphs" >10</text><text x="321" y="269.6" class="r" font-size="6" fill="#111" textLength="2.5" lengthAdjust="spacingAndGlyphs" >4</text><text x="334.6" y="273.8" class="r" font-size="8.8" fill="#111" textLength="5.4" lengthAdjust="spacingAndGlyphs" >10</text><text x="340.1" y="269.6" class="r" font-size="6" fill="#111" textLength="2.5" lengthAdjust="spacingAndGlyphs" >5</text><text x="353.7" y="273.8" class="r" font-size="8.8" fill="#111" textLength="5.4" lengthAdjust="spacingAndGlyphs" >10</text><text x="359.2" y="269.6" class="r" font-size="6" fill="#111" textLength="2.5" lengthAdjust="spacingAndGlyphs" >6</text><path d="M233.7 254.7H236.9M233.7 224.6H236.9M233.7 194.4H236.9M233.7 164.3H236.9M233.7 134.2H236.9M233.7 104.0H236.9M233.7 73.9H236.9M260.0 257.0V260.2M279.1 257.0V260.2M298.2 257.0V260.2M317.3 257.0V260.2M336.4 257.0V260.2M355.5 257.0V260.2M236.9 257.0V260.2" fill="none" stroke="#111" stroke-width="0.8" /><path d="M235.4 245.6H237.5M235.4 240.3H237.5M235.4 236.6H237.5M235.4 233.6H237.5M235.4 231.3H237.5M235.4 229.2H237.5M235.4 227.5H237.5M235.4 225.9H237.5M235.4 215.5H237.5M235.4 210.2H237.5M235.4 206.4H237.5M235.4 203.5H237.5M235.4 201.1H237.5M235.4 199.1H237.5M235.4 197.4H237.5M235.4 195.8H237.5M235.4 185.4H237.5M235.4 180.1H237.5M235.4 176.3H237.5M235.4 173.4H237.5M235.4 171.0H237.5M235.4 169.0H237.5M235.4 167.2H237.5M235.4 165.7H237.5M235.4 155.2H237.5M235.4 149.9H237.5M235.4 146.2H237.5M235.4 143.2H237.5M235.4 140.9H237.5M235.4 138.8H237.5M235.4 137.1H237.5M235.4 135.5H237.5M235.4 125.1H237.5M235.4 119.8H237.5M235.4 116.0H237.5M235.4 113.1H237.5M235.4 110.7H237.5M235.4 108.7H237.5M235.4 107.0H237.5M235.4 105.4H237.5M235.4 95.0H237.5M235.4 89.7H237.5M235.4 85.9H237.5M235.4 83.0H237.5M235.4 80.6H237.5M235.4 78.6H237.5M235.4 76.8H237.5M235.4 75.3H237.5M235.4 64.8H237.5M235.4 59.5H237.5M235.4 55.8H237.5M235.4 52.8H237.5M235.4 50.5H237.5M235.4 48.4H237.5M235.4 46.7H237.5M246.6 257.0V258.6M250.0 257.0V258.6M252.4 257.0V258.6M254.3 257.0V258.6M255.8 257.0V258.6M257.0 257.0V258.6M258.1 257.0V258.6M259.1 257.0V258.6M265.7 257.0V258.6M269.1 257.0V258.6M271.5 257.0V258.6M273.4 257.0V258.6M274.9 257.0V258.6M276.1 257.0V258.6M277.2 257.0V258.6M278.2 257.0V258.6M284.8 257.0V258.6M288.2 257.0V258.6M290.6 257.0V258.6M292.5 257.0V258.6M294.0 257.0V258.6M295.2 257.0V258.6M296.3 257.0V258.6M297.3 257.0V258.6M303.9 257.0V258.6M307.3 257.0V258.6M309.7 257.0V258.6M311.6 257.0V258.6M313.1 257.0V258.6M314.3 257.0V258.6M315.4 257.0V258.6M316.4 257.0V258.6M323.0 257.0V258.6M326.4 257.0V258.6M328.8 257.0V258.6M330.7 257.0V258.6M332.2 257.0V258.6M333.4 257.0V258.6M334.5 257.0V258.6M335.5 257.0V258.6M342.1 257.0V258.6M345.5 257.0V258.6M347.9 257.0V258.6M349.8 257.0V258.6M351.3 257.0V258.6M352.5 257.0V258.6M353.6 257.0V258.6M354.6 257.0V258.6M361.2 257.0V258.6M364.6 257.0V258.6M367.0 257.0V258.6M368.9 257.0V258.6M370.4 257.0V258.6" fill="none" stroke="#111" stroke-width="0.6" /><text x="240.1" y="63.4" class="r" font-size="10.8" fill="#000" textLength="12.6" lengthAdjust="spacingAndGlyphs" >11.0</text><text x="350.4" y="63.4" class="r" font-size="10.8" fill="#000" textLength="12.6" lengthAdjust="spacingAndGlyphs" >64.9</text><text x="240.1" y="246.6" class="r" font-size="10.8" fill="#000" textLength="12.6" lengthAdjust="spacingAndGlyphs" >6.91</text><text x="350.4" y="246.6" class="r" font-size="10.8" fill="#000" textLength="12.6" lengthAdjust="spacingAndGlyphs" >17.3</text><path d="M441.5 209.3L440.0 209.6L438.5 209.5L437.0 209.1L435.5 208.4L434.0 207.2L433.0 206.0L431.8 204.2L430.7 202.2L429.3 198.2L427.5 191.8L426.5 188.7L425.0 185.2L421.8 178.7L420.2 174.2L419.5 171.2L419.2 168.2L419.2 165.2L419.5 162.2L420.1 159.7L420.9 157.2L421.8 155.2L423.2 152.7L424.6 150.7L426.5 148.6L428.5 146.8L430.5 145.3L433.0 143.9L435.0 143.1L440.5 141.4L445.0 140.4L448.5 139.8L451.0 139.6L453.5 139.9L455.0 140.2L456.5 140.8L458.0 141.7L459.5 143.0L461.7 145.7L463.9 149.7L465.8 154.7L466.9 159.7L467.3 162.2L467.4 164.7L467.3 167.2L467.0 169.7L465.9 173.7L464.2 177.7L462.4 180.7L458.5 186.3L456.5 189.4L451.7 198.7L449.6 202.2L447.5 205.1L445.5 207.0L443.5 208.4L441.5 209.3M442.0 201.3L440.5 201.6L439.5 201.5L438.5 201.2L437.5 200.7L436.5 200.0L435.5 198.8L433.9 196.2L432.7 193.2L430.0 184.9L426.7 177.2L425.3 173.2L424.8 170.7L424.6 168.2L424.6 165.7L424.8 163.7L425.2 161.7L425.8 159.7L427.6 156.2L428.6 154.7L430.0 153.1L431.5 151.7L433.0 150.5L435.0 149.4L437.0 148.4L442.0 146.8L447.5 145.8L449.5 145.7L451.5 145.9L454.0 146.7L456.3 148.2L458.1 150.2L459.8 153.2L461.0 156.7L461.8 160.7L462.0 164.7L461.6 168.2L460.8 171.7L459.1 175.7L453.5 185.5L448.6 194.7L447.0 197.1L445.5 198.9L443.5 200.5L442.0 201.3M442.0 197.4L441.0 197.6L440.0 197.5L439.0 197.2L438.0 196.6L436.5 195.0L435.0 192.3L431.6 183.2L428.7 176.2L427.8 173.2L427.2 170.7L427.0 168.7L426.9 166.7L427.2 164.2L428.1 160.7L429.6 157.7L430.7 156.2L432.0 154.7L434.5 152.7L438.0 150.8L442.5 149.3L447.0 148.5L449.0 148.4L450.5 148.6L452.5 149.2L454.5 150.3L456.3 152.2L457.8 154.7L458.9 157.7L459.5 160.7L459.7 164.2L459.3 167.7L458.3 171.7L456.8 175.2L448.4 190.7L446.5 193.6L445.0 195.4L443.5 196.6L442.0 197.4M442.0 194.3L441.0 194.4L440.0 194.3L438.5 193.4L437.0 191.7L435.5 188.7L430.7 176.7L429.4 172.7L428.9 170.2L428.7 168.2L428.7 166.2L429.0 164.2L429.9 161.2L431.5 158.2L433.5 155.9L436.0 154.0L439.5 152.2L443.5 151.0L447.0 150.5L450.0 150.6L452.0 151.3L454.0 152.6L455.4 154.2L456.5 156.2L457.4 158.7L457.9 161.7L458.0 164.7L457.7 167.7L456.8 171.2L455.3 174.7L448.0 188.0L446.5 190.4L445.0 192.2L443.5 193.5L442.0 194.3M442.5 191.4L441.5 191.7L440.5 191.6L439.0 190.8L437.5 189.0L436.3 186.7L432.3 177.2L430.9 173.2L430.2 169.2L430.1 167.2L430.3 165.2L431.1 162.2L432.3 159.7L434.0 157.6L436.2 155.7L439.0 154.1L442.5 152.8L446.0 152.2L449.0 152.2L451.0 152.8L452.6 153.7L454.1 155.2L455.3 157.2L456.0 159.2L456.5 161.7L456.7 164.2L456.4 167.2L455.7 170.2L454.4 173.7L452.6 177.2L449.8 182.2L447.5 186.1L445.5 189.0L444.0 190.5L442.5 191.4M443.0 188.8L442.0 189.1L441.0 189.1L439.5 188.4L438.0 186.7L436.5 184.0L433.7 177.7L432.1 173.2L431.7 171.2L431.4 169.2L431.5 165.7L432.1 163.2L433.3 160.7L435.0 158.5L437.0 156.8L439.5 155.4L442.5 154.2L445.5 153.6L448.5 153.7L450.5 154.3L452.0 155.2L453.4 156.7L454.3 158.2L455.0 160.2L455.3 162.2L455.5 164.7L455.2 167.2L454.7 169.7L453.8 172.2L452.4 175.2L450.5 178.7L448.0 183.0L446.0 186.0L444.5 187.7L443.0 188.8M442.5 186.7L441.0 186.7L439.5 185.8L438.0 183.9L436.0 180.1L434.1 175.7L433.0 172.2L432.5 168.7L432.7 165.7L433.4 163.2L434.5 161.2L436.0 159.3L437.9 157.7L440.5 156.3L443.0 155.4L445.5 155.0L448.0 155.0L449.5 155.4L451.0 156.2L452.1 157.2L453.1 158.7L453.9 160.7L454.3 162.7L454.4 164.7L454.1 167.2L453.6 169.7L452.5 172.7L451.1 175.7L449.1 179.2L447.0 182.4L445.5 184.4L444.0 185.9L442.5 186.7M443.0 184.4L441.5 184.6L440.0 183.9L438.5 182.2L437.0 179.7L435.2 175.7L434.1 172.2L433.6 169.2L433.8 166.2L434.5 163.7L435.5 161.7L436.7 160.2L438.5 158.7L440.5 157.6L443.0 156.6L445.5 156.2L447.5 156.3L449.0 156.7L450.0 157.2L451.2 158.2L452.2 159.7L452.8 161.2L453.2 163.2L453.3 165.2L453.1 167.2L452.7 169.2L451.9 171.7L450.8 174.2L449.1 177.2L447.0 180.5L445.5 182.4L444.0 183.8L443.0 184.4M443.5 182.2L442.0 182.6L440.5 182.1L439.0 180.6L437.7 178.7L436.1 175.2L435.1 172.2L434.7 169.2L434.8 166.7L435.3 164.7L436.2 162.7L437.5 161.1L439.0 159.7L441.0 158.6L443.0 157.8L445.0 157.5L447.0 157.5L448.5 157.9L449.5 158.5L450.5 159.4L451.4 160.7L451.9 162.2L452.2 163.7L452.3 165.2L452.2 167.2L451.7 169.2L451.1 171.2L449.0 175.6L447.5 178.0L446.0 180.0L444.5 181.5L443.5 182.2M443.5 180.3L442.0 180.6L441.0 180.3L439.5 179.1L438.2 177.2L437.0 174.8L436.1 172.2L435.7 169.7L435.8 167.2L436.3 165.2L436.9 163.7L438.0 162.2L439.5 160.8L441.0 159.8L443.0 159.0L445.0 158.7L446.5 158.7L447.5 159.0L448.5 159.4L449.5 160.2L450.2 161.2L450.7 162.2L451.1 163.7L451.3 165.2L451.2 167.2L450.3 170.7L448.4 174.7L446.0 178.2L444.5 179.7L443.5 180.3M442.5 178.8L441.5 178.6L441.0 178.4L440.0 177.6L439.0 176.3L438.0 174.4L437.2 172.2L436.8 170.2L436.8 168.2L437.0 166.7L437.5 165.2L438.3 163.7L439.1 162.7L440.5 161.5L442.0 160.7L443.5 160.2L445.0 160.0L446.5 160.1L447.5 160.5L448.5 161.2L449.6 162.7L450.0 163.9L450.2 165.2L450.2 166.7L450.0 168.2L448.9 171.7L447.0 175.2L445.5 177.0L444.5 177.9L443.5 178.5L442.5 178.8M443.0 176.8L442.0 176.8L441.0 176.3L440.0 175.4L439.2 174.2L438.5 172.6L438.0 170.7L437.9 169.2L438.0 167.7L438.3 166.2L438.8 165.2L439.5 164.1L440.5 163.0L441.7 162.2L443.0 161.6L444.5 161.4L445.5 161.4L446.5 161.6L447.4 162.2L448.5 163.5L448.9 164.7L449.1 165.7L449.0 167.9L448.6 169.7L448.0 171.2L446.5 173.9L445.5 175.2L444.5 176.1L443.0 176.8M443.5 174.7L442.5 174.8L441.9 174.7L441.0 174.1L440.3 173.2L439.8 172.2L439.3 170.7L439.2 168.2L439.5 166.9L440.0 165.7L441.3 164.2L443.0 163.2L444.0 163.0L445.0 163.0L445.8 163.2L446.5 163.6L447.4 164.7L447.8 166.2L447.8 167.7L447.2 170.2L446.2 172.2L445.0 173.7L443.5 174.7M443.5 172.3L442.5 172.3L441.5 171.5L440.9 170.2L440.8 169.2L440.9 168.2L441.4 166.7L442.3 165.7L443.5 165.1L444.5 165.1L445.5 165.6L445.9 166.2L446.1 167.2L446.1 168.2L445.9 169.2L445.3 170.7L444.5 171.7L443.5 172.3" fill="none" stroke="#1a1a1a" stroke-width="0.6" /><path d="M389.5 144.6L390.0 144.9L390.5 145.5L391.5 147.4L392.3 149.7L393.3 153.7L394.2 159.2L394.6 163.2L394.9 167.2L395.0 172.7L394.9 179.2L394.6 185.2L394.2 190.7L393.4 196.7L392.6 200.7L391.6 204.2L390.5 206.4L390.0 207.0L389.5 207.4M389.5 152.0L390.3 152.7L391.0 153.9L391.7 155.7L392.4 158.2L392.8 160.7L393.3 164.2L393.6 171.2L393.2 181.7L392.8 186.7L392.4 190.2L391.7 193.7L391.1 196.2L390.5 197.6L390.0 198.4L389.5 198.9M389.5 155.4L390.0 155.8L390.8 157.2L391.4 158.7L391.9 160.7L392.3 162.7L392.6 165.7L392.8 170.7L392.7 174.7L392.4 179.7L391.7 186.7L391.2 189.7L390.7 191.7L390.0 193.2L389.5 193.9M389.5 157.7L390.0 158.1L390.5 158.9L391.0 160.2L391.5 162.2L392.1 166.2L392.3 170.2L392.0 176.7L391.3 183.2L390.5 187.4L390.0 188.8L389.5 189.6M389.5 159.5L390.0 160.1L390.5 161.0L391.1 163.2L391.6 166.2L391.8 169.7L391.6 174.2L391.0 179.6L390.3 183.2L390.0 184.5L389.5 185.5M389.5 161.2L390.2 162.2L390.8 164.2L391.2 166.7L391.3 169.7L391.2 173.2L390.7 176.7L390.0 180.3L389.5 181.5M389.5 162.9L390.0 163.7L390.5 165.4L390.8 167.7L390.9 169.7L390.7 172.2L390.5 174.3L390.0 176.7L389.5 178.0M389.5 164.7L390.0 166.0L390.1 166.7L390.3 169.7L390.0 173.2L389.5 175.0" fill="none" stroke="#1c1c1c" stroke-width="0.55" /><rect x="389.9" y="152" width="3" height="48" fill="#222" stroke="none" stroke-width="0" opacity="0.62"/><rect x="392.9" y="156" width="1.6" height="33.6" fill="#444" stroke="none" stroke-width="0" opacity="0.35"/><path d="M411.8 259.1L412.2 257.6L412.7 256.6L413.5 255.6L414.5 254.6L415.6 253.8L417.1 252.9L420.6 251.4L424.6 250.3L429.6 249.4L435.6 248.8L441.1 248.6L445.6 248.8L449.1 249.3L452.6 250.3L455.1 251.4L457.6 252.9L458.6 253.8L459.6 254.8L460.5 256.1L461.0 257.1L461.3 258.1L461.4 259.1M415.9 259.1L416.1 258.1L416.7 257.1L418.0 255.6L420.3 254.1L423.1 252.9L426.6 251.9L430.6 251.2L435.6 250.6L440.6 250.4L444.1 250.5L447.1 250.9L450.1 251.7L452.6 252.7L455.0 254.1L456.6 255.6L457.6 257.1L458.0 258.1L458.2 259.1M418.5 259.1L418.8 258.1L419.1 257.6L420.5 256.1L422.6 254.8L425.1 253.7L428.1 252.9L432.1 252.2L436.6 251.7L440.6 251.6L443.6 251.7L446.6 252.1L449.1 252.7L451.3 253.6L453.1 254.7L454.7 256.1L455.7 257.6L456.1 259.1M420.7 259.1L421.0 258.1L421.3 257.6L422.3 256.6L424.1 255.5L426.6 254.4L429.6 253.6L433.1 253.0L436.6 252.6L440.6 252.5L443.1 252.6L445.6 252.9L448.1 253.5L450.1 254.3L452.1 255.5L453.3 256.6L454.0 257.6L454.4 259.1M422.6 259.1L423.0 258.1L424.1 256.9L425.6 256.0L427.7 255.1L430.6 254.3L433.6 253.8L437.1 253.4L440.1 253.3L442.6 253.3L445.1 253.7L447.1 254.1L449.1 254.9L450.4 255.6L451.6 256.6L452.4 257.6L453.0 259.1M424.4 259.1L424.9 258.1L425.9 257.1L427.6 256.2L429.1 255.6L431.6 254.9L434.1 254.5L437.1 254.1L440.1 254.0L442.6 254.1L444.6 254.3L446.6 254.8L448.1 255.4L449.4 256.1L450.6 257.1L451.3 258.1L451.7 259.1M426.2 259.1L426.6 258.3L427.3 257.6L428.6 256.8L430.3 256.1L432.6 255.5L435.1 255.0L437.6 254.8L440.1 254.7L442.1 254.7L444.1 255.0L445.6 255.3L447.1 255.8L448.1 256.4L449.1 257.1L450.0 258.1L450.4 259.1M428.0 259.1L428.6 258.2L429.3 257.6L431.6 256.6L433.3 256.1L435.6 255.7L438.1 255.4L440.1 255.3L443.6 255.6L446.1 256.3L447.1 256.8L448.2 257.6L448.6 258.1L449.1 259.1M429.9 259.1L430.2 258.6L430.8 258.1L431.6 257.6L433.1 257.0L434.6 256.6L436.6 256.2L440.1 256.0L442.6 256.2L445.1 256.8L446.6 257.6L447.1 258.1L447.7 259.1" fill="none" stroke="#2a2a2a" stroke-width="0.5" /><rect x="426.709" y="251.6" width="24.7475" height="6" fill="#333" stroke="none" stroke-width="0" opacity="0.4"/><path d="M389.5 250.6 L391.7 254.1 L394.0 258.6 L389.5 258.6 Z" fill="#111" stroke="none" stroke-width="1" /><line x1="389.5" y1="45.7" x2="538.8" y2="45.7" stroke="#222" stroke-width="0.9" /><line x1="389.5" y1="45.7" x2="389.5" y2="258.6" stroke="#111" stroke-width="0.9" /><line x1="389.5" y1="258.6" x2="538.8" y2="258.6" stroke="#222" stroke-width="0.9" /><line x1="432.4" y1="45.7" x2="432.4" y2="258.6" stroke="#111" stroke-width="1.1" /><line x1="389.5" y1="197.4" x2="538.8" y2="197.4" stroke="#111" stroke-width="1.1" /><text x="377.1" y="260.5" class="r" font-size="8.8" fill="#111" textLength="5.4" lengthAdjust="spacingAndGlyphs" >10</text><text x="382.6" y="256.5" class="r" font-size="6" fill="#111" textLength="2.5" lengthAdjust="spacingAndGlyphs" >0</text><text x="377.1" y="230.15" class="r" font-size="8.8" fill="#111" textLength="5.4" lengthAdjust="spacingAndGlyphs" >10</text><text x="382.6" y="226.15" class="r" font-size="6" fill="#111" textLength="2.5" lengthAdjust="spacingAndGlyphs" >1</text><text x="377.1" y="199.8" class="r" font-size="8.8" fill="#111" textLength="5.4" lengthAdjust="spacingAndGlyphs" >10</text><text x="382.6" y="195.8" class="r" font-size="6" fill="#111" textLength="2.5" lengthAdjust="spacingAndGlyphs" >2</text><text x="377.1" y="169.45" class="r" font-size="8.8" fill="#111" textLength="5.4" lengthAdjust="spacingAndGlyphs" >10</text><text x="382.6" y="165.45" class="r" font-size="6" fill="#111" textLength="2.5" lengthAdjust="spacingAndGlyphs" >3</text><text x="377.1" y="139.1" class="r" font-size="8.8" fill="#111" textLength="5.4" lengthAdjust="spacingAndGlyphs" >10</text><text x="382.6" y="135.1" class="r" font-size="6" fill="#111" textLength="2.5" lengthAdjust="spacingAndGlyphs" >4</text><text x="377.1" y="108.75" class="r" font-size="8.8" fill="#111" textLength="5.4" lengthAdjust="spacingAndGlyphs" >10</text><text x="382.6" y="104.75" class="r" font-size="6" fill="#111" textLength="2.5" lengthAdjust="spacingAndGlyphs" >5</text><text x="377.1" y="78.4" class="r" font-size="8.8" fill="#111" textLength="5.4" lengthAdjust="spacingAndGlyphs" >10</text><text x="382.6" y="74.4" class="r" font-size="6" fill="#111" textLength="2.5" lengthAdjust="spacingAndGlyphs" >6</text><text x="391.7" y="275.4" class="r" font-size="8.8" fill="#111" textLength="5.4" lengthAdjust="spacingAndGlyphs" >10</text><text x="397.2" y="271.2" class="r" font-size="6" fill="#111" textLength="2.5" lengthAdjust="spacingAndGlyphs" >0</text><text x="412.9" y="275.4" class="r" font-size="8.8" fill="#111" textLength="5.4" lengthAdjust="spacingAndGlyphs" >10</text><text x="418.4" y="271.2" class="r" font-size="6" fill="#111" textLength="2.5" lengthAdjust="spacingAndGlyphs" >1</text><text x="434.1" y="275.4" class="r" font-size="8.8" fill="#111" textLength="5.4" lengthAdjust="spacingAndGlyphs" >10</text><text x="439.6" y="271.2" class="r" font-size="6" fill="#111" textLength="2.5" lengthAdjust="spacingAndGlyphs" >2</text><text x="455.3" y="275.4" class="r" font-size="8.8" fill="#111" textLength="5.4" lengthAdjust="spacingAndGlyphs" >10</text><text x="460.8" y="271.2" class="r" font-size="6" fill="#111" textLength="2.5" lengthAdjust="spacingAndGlyphs" >3</text><text x="476.5" y="275.4" class="r" font-size="8.8" fill="#111" textLength="5.4" lengthAdjust="spacingAndGlyphs" >10</text><text x="482" y="271.2" class="r" font-size="6" fill="#111" textLength="2.5" lengthAdjust="spacingAndGlyphs" >4</text><text x="497.7" y="275.4" class="r" font-size="8.8" fill="#111" textLength="5.4" lengthAdjust="spacingAndGlyphs" >10</text><text x="503.2" y="271.2" class="r" font-size="6" fill="#111" textLength="2.5" lengthAdjust="spacingAndGlyphs" >5</text><text x="518.9" y="275.4" class="r" font-size="8.8" fill="#111" textLength="5.4" lengthAdjust="spacingAndGlyphs" >10</text><text x="524.4" y="271.2" class="r" font-size="6" fill="#111" textLength="2.5" lengthAdjust="spacingAndGlyphs" >6</text><path d="M386.3 256.3H389.5M386.3 226.0H389.5M386.3 195.6H389.5M386.3 165.2H389.5M386.3 134.9H389.5M386.3 104.5H389.5M386.3 74.2H389.5M414.7 258.6V261.8M435.9 258.6V261.8M457.1 258.6V261.8M478.3 258.6V261.8M499.5 258.6V261.8M520.7 258.6V261.8M389.5 258.6V261.8" fill="none" stroke="#111" stroke-width="0.8" /><path d="M388.0 247.2H389.5M388.0 241.8H389.5M388.0 238.0H389.5M388.0 235.1H389.5M388.0 232.7H389.5M388.0 230.7H389.5M388.0 228.9H389.5M388.0 227.3H389.5M388.0 216.8H389.5M388.0 211.5H389.5M388.0 207.7H389.5M388.0 204.7H389.5M388.0 202.3H389.5M388.0 200.3H389.5M388.0 198.5H389.5M388.0 197.0H389.5M388.0 186.5H389.5M388.0 181.1H389.5M388.0 177.3H389.5M388.0 174.4H389.5M388.0 172.0H389.5M388.0 170.0H389.5M388.0 168.2H389.5M388.0 166.6H389.5M388.0 156.1H389.5M388.0 150.8H389.5M388.0 147.0H389.5M388.0 144.0H389.5M388.0 141.6H389.5M388.0 139.6H389.5M388.0 137.8H389.5M388.0 136.3H389.5M388.0 125.8H389.5M388.0 120.4H389.5M388.0 116.6H389.5M388.0 113.7H389.5M388.0 111.3H389.5M388.0 109.3H389.5M388.0 107.5H389.5M388.0 105.9H389.5M388.0 95.4H389.5M388.0 90.1H389.5M388.0 86.3H389.5M388.0 83.3H389.5M388.0 80.9H389.5M388.0 78.9H389.5M388.0 77.1H389.5M388.0 75.6H389.5M388.0 65.1H389.5M388.0 59.7H389.5M388.0 55.9H389.5M388.0 53.0H389.5M388.0 50.6H389.5M388.0 48.6H389.5M388.0 46.8H389.5M399.9 258.6V260.2M403.6 258.6V260.2M406.3 258.6V260.2M408.3 258.6V260.2M410.0 258.6V260.2M411.4 258.6V260.2M412.6 258.6V260.2M413.7 258.6V260.2M421.1 258.6V260.2M424.8 258.6V260.2M427.5 258.6V260.2M429.5 258.6V260.2M431.2 258.6V260.2M432.6 258.6V260.2M433.8 258.6V260.2M434.9 258.6V260.2M442.3 258.6V260.2M446.0 258.6V260.2M448.7 258.6V260.2M450.7 258.6V260.2M452.4 258.6V260.2M453.8 258.6V260.2M455.0 258.6V260.2M456.1 258.6V260.2M463.5 258.6V260.2M467.2 258.6V260.2M469.9 258.6V260.2M471.9 258.6V260.2M473.6 258.6V260.2M475.0 258.6V260.2M476.2 258.6V260.2M477.3 258.6V260.2M484.7 258.6V260.2M488.4 258.6V260.2M491.1 258.6V260.2M493.1 258.6V260.2M494.8 258.6V260.2M496.2 258.6V260.2M497.4 258.6V260.2M498.5 258.6V260.2M505.9 258.6V260.2M509.6 258.6V260.2M512.3 258.6V260.2M514.3 258.6V260.2M516.0 258.6V260.2M517.4 258.6V260.2M518.6 258.6V260.2M519.7 258.6V260.2M527.1 258.6V260.2M530.8 258.6V260.2M533.5 258.6V260.2M535.5 258.6V260.2M537.2 258.6V260.2" fill="none" stroke="#111" stroke-width="0.6" /><text x="392.7" y="64" class="r" font-size="10.8" fill="#000" textLength="12.6" lengthAdjust="spacingAndGlyphs" >20.4</text><text x="517.2" y="64" class="r" font-size="10.8" fill="#000" textLength="12.6" lengthAdjust="spacingAndGlyphs" >49.0</text><text x="392.7" y="249" class="r" font-size="10.8" fill="#000" textLength="12.6" lengthAdjust="spacingAndGlyphs" >13.0</text><text x="517.2" y="249" class="r" font-size="10.8" fill="#000" textLength="12.6" lengthAdjust="spacingAndGlyphs" >17.5</text><path d="M618.0 206.3L616.5 206.6L614.5 206.6L612.5 206.2L611.0 205.5L609.5 204.5L607.8 202.8L606.3 200.8L605.2 198.8L603.3 194.3L600.0 184.2L598.5 180.9L594.3 172.8L592.7 168.8L591.7 165.3L591.2 161.8L591.2 158.3L591.5 155.3L592.0 152.8L592.8 150.3L593.9 147.8L595.4 145.3L597.0 143.1L599.0 141.0L601.0 139.3L603.5 137.6L606.0 136.2L608.5 135.2L611.0 134.4L614.5 133.6L620.0 132.6L624.0 132.1L627.0 131.9L630.0 132.1L632.0 132.6L633.5 133.1L635.5 134.1L637.1 135.3L638.5 136.6L640.0 138.3L641.4 140.3L642.8 142.8L644.2 145.8L645.1 148.3L646.2 151.8L646.7 154.3L647.1 157.3L647.3 159.8L647.2 162.3L646.9 164.8L646.4 167.3L645.7 169.3L644.7 171.8L643.7 173.8L641.7 176.8L637.0 182.9L635.0 185.8L629.2 195.8L627.5 198.5L625.3 201.3L623.0 203.6L620.5 205.3L618.0 206.3M618.0 197.9L616.5 198.1L615.0 198.0L613.5 197.5L612.5 196.9L611.5 196.1L610.4 194.8L608.5 191.8L607.2 188.8L604.0 180.0L600.1 171.8L598.6 167.8L597.8 164.8L597.5 162.3L597.4 159.3L597.7 156.8L598.1 154.8L598.8 152.8L599.7 150.8L600.9 148.8L602.0 147.3L603.5 145.7L605.1 144.3L607.0 143.0L609.0 141.9L611.0 141.0L613.5 140.2L616.5 139.5L619.5 138.9L623.0 138.4L625.5 138.4L628.0 138.6L631.0 139.4L632.5 140.2L634.0 141.2L635.2 142.3L636.4 143.8L638.3 146.8L639.8 150.8L640.7 154.8L641.0 159.3L640.7 163.3L639.6 167.3L637.8 171.3L636.4 173.8L631.5 181.4L626.0 190.8L624.0 193.5L622.0 195.6L620.0 197.0L618.0 197.9M617.0 193.8L616.0 193.8L615.0 193.5L614.0 193.1L612.9 192.3L612.0 191.3L611.0 190.0L609.3 186.8L606.0 178.5L602.3 170.3L601.2 167.3L600.6 164.8L600.2 161.8L600.2 159.3L600.6 156.8L601.7 153.3L602.7 151.3L603.8 149.8L605.1 148.3L606.5 147.0L609.5 144.9L613.5 143.2L618.5 141.9L623.5 141.3L625.5 141.3L627.5 141.6L630.0 142.3L632.5 143.9L634.5 146.0L636.2 148.8L637.5 152.3L638.2 155.8L638.3 159.8L637.9 163.3L636.7 167.3L635.1 170.8L624.8 187.8L623.0 190.2L621.0 192.1L619.0 193.3L617.0 193.8M618.0 190.3L617.0 190.5L616.0 190.3L615.0 190.0L614.0 189.3L613.0 188.4L612.2 187.3L610.5 184.3L604.7 171.3L603.2 167.3L602.6 164.8L602.3 162.3L602.3 159.8L602.5 157.8L603.4 154.8L605.0 151.8L607.1 149.3L610.0 147.1L613.5 145.4L618.0 144.1L622.5 143.4L624.5 143.4L626.5 143.6L629.0 144.4L631.0 145.6L633.0 147.5L634.5 149.8L635.6 152.8L636.3 155.8L636.4 159.3L636.1 162.3L635.2 165.8L633.5 169.8L631.3 173.8L625.5 183.2L623.5 186.1L621.5 188.3L619.5 189.8L618.0 190.3M618.5 187.3L617.5 187.5L616.5 187.4L615.5 187.1L614.5 186.4L613.0 184.8L611.2 181.8L606.6 171.8L604.9 167.3L604.3 164.8L604.0 162.8L603.9 160.8L604.1 158.8L604.9 155.8L605.5 154.3L606.4 152.8L608.5 150.4L611.0 148.5L614.0 147.0L618.0 145.8L622.0 145.2L625.5 145.3L628.0 146.0L630.0 147.2L631.7 148.8L633.0 150.7L634.1 153.3L634.7 155.8L634.9 158.8L634.6 161.8L633.8 165.3L632.3 168.8L630.5 172.3L627.0 177.9L624.0 182.4L622.1 184.8L620.5 186.3L619.5 186.9L618.5 187.3M617.5 184.8L616.5 184.7L615.5 184.2L614.5 183.4L613.5 182.2L611.5 178.9L608.1 171.8L606.5 167.8L605.6 164.3L605.4 161.3L605.7 158.3L606.6 155.8L608.0 153.3L610.0 151.2L612.5 149.4L615.5 148.1L619.0 147.1L622.5 146.7L625.5 147.0L627.5 147.6L629.4 148.8L630.9 150.3L632.1 152.3L633.0 154.8L633.4 157.3L633.5 159.8L633.1 162.8L632.0 166.3L630.4 169.8L627.8 174.3L624.5 179.2L622.5 181.8L621.0 183.3L619.0 184.5L617.5 184.8M618.0 182.3L617.0 182.2L616.0 181.8L615.0 181.1L614.0 180.0L612.0 176.9L609.6 172.3L608.0 168.3L607.0 164.8L606.7 161.8L607.0 158.8L607.9 156.3L609.1 154.3L610.9 152.3L613.0 150.8L616.0 149.3L619.0 148.5L622.0 148.2L625.0 148.4L627.0 149.1L628.5 150.0L630.0 151.6L631.0 153.3L631.8 155.3L632.2 157.8L632.2 160.3L631.8 162.8L630.9 165.8L629.6 168.8L627.6 172.3L625.0 176.3L623.0 178.9L621.0 180.9L619.5 181.9L618.0 182.3M619.0 179.8L618.0 180.0L617.0 179.8L615.5 179.0L614.5 178.0L613.5 176.7L611.7 173.8L609.8 169.8L608.6 166.3L608.0 162.8L608.2 159.8L608.9 157.3L610.0 155.3L611.5 153.6L613.5 152.0L616.0 150.7L618.5 149.9L621.5 149.5L624.0 149.7L626.0 150.2L627.5 151.1L628.8 152.3L629.8 153.8L630.4 155.3L630.9 157.3L631.0 159.3L630.8 161.8L630.2 164.3L629.3 166.8L627.8 169.8L626.0 172.7L624.0 175.5L622.0 177.8L620.5 179.1L619.0 179.8M619.5 177.5L618.0 177.8L616.5 177.3L615.0 176.2L613.0 173.5L611.3 170.3L609.9 166.8L609.3 163.8L609.3 160.8L609.7 158.8L610.6 156.8L612.0 154.9L613.5 153.6L615.5 152.3L618.0 151.4L620.5 150.9L623.0 150.9L624.5 151.2L626.0 151.8L627.5 153.0L628.5 154.3L629.2 155.8L629.6 157.3L629.9 159.3L629.8 161.3L629.4 163.3L628.6 165.8L627.4 168.3L626.0 170.7L624.2 173.3L622.5 175.3L621.0 176.7L619.5 177.5M619.5 175.5L618.0 175.7L616.5 175.1L615.0 173.9L613.5 171.9L612.0 169.0L611.0 166.3L610.5 163.8L610.5 161.3L610.9 159.3L611.8 157.3L613.0 155.8L614.5 154.4L616.5 153.3L618.5 152.6L620.5 152.2L622.5 152.2L624.0 152.5L625.5 153.2L626.5 154.0L627.5 155.3L628.2 156.8L628.6 158.3L628.7 159.8L628.5 161.8L628.1 163.8L627.4 165.8L626.5 167.8L625.0 170.3L623.5 172.3L622.0 173.9L620.5 175.0L619.5 175.5M620.0 173.3L618.5 173.7L617.0 173.3L615.6 172.3L614.5 171.0L613.2 168.8L612.3 166.3L611.8 163.8L611.7 161.8L612.1 159.8L612.8 158.3L613.8 156.8L615.0 155.7L616.5 154.7L618.5 153.9L620.5 153.5L622.0 153.6L623.2 153.8L624.4 154.3L625.5 155.1L626.1 155.8L626.7 156.8L627.2 158.3L627.5 159.8L627.4 161.3L627.2 162.8L626.6 164.8L624.9 168.3L623.9 169.8L622.5 171.5L621.0 172.8L620.0 173.3M620.0 171.4L618.5 171.6L617.5 171.4L616.5 170.8L615.5 169.8L614.5 168.3L613.6 166.3L613.1 164.3L613.0 162.3L613.3 160.8L613.8 159.3L614.5 158.2L615.5 157.1L617.0 156.0L618.5 155.4L620.0 155.1L621.5 155.0L622.7 155.3L623.8 155.8L624.5 156.3L625.3 157.3L626.0 159.3L626.1 161.8L625.4 164.8L624.0 167.5L622.0 170.0L621.0 170.8L620.0 171.4M619.5 169.4L618.5 169.4L617.5 169.1L616.5 168.3L616.0 167.7L615.4 166.8L614.8 165.3L614.6 163.8L614.6 162.3L615.1 160.3L615.7 159.3L616.5 158.3L617.5 157.6L618.5 157.1L619.5 156.8L621.0 156.7L622.0 156.9L622.8 157.3L623.5 157.9L624.0 158.6L624.6 160.3L624.6 162.3L624.0 164.6L622.8 166.8L622.0 167.8L621.0 168.7L619.5 169.4M619.0 166.8L618.0 166.5L617.0 165.3L616.5 163.8L616.5 162.3L617.1 160.8L618.0 159.7L619.0 159.2L620.5 159.0L621.5 159.3L622.4 160.3L622.7 161.3L622.7 162.8L622.0 164.7L621.2 165.8L620.0 166.6L619.0 166.8" fill="none" stroke="#1a1a1a" stroke-width="0.6" /><path d="M556.0 142.8L556.5 143.2L557.0 143.8L558.0 145.9L558.8 148.3L559.7 152.3L560.3 156.3L560.7 160.8L560.9 164.8L561.0 169.3L560.9 175.3L560.7 180.3L560.3 185.8L559.7 190.3L558.9 194.8L558.0 197.8L557.0 200.1L556.5 200.7L556.0 201.1M556.0 149.7L556.5 150.1L557.0 150.8L557.5 151.9L558.2 153.8L558.7 155.8L559.4 160.8L559.6 163.8L559.7 167.3L559.4 177.3L558.7 184.8L558.2 187.8L557.5 190.5L556.7 192.3L556.0 193.2M556.0 152.9L556.5 153.3L557.1 154.3L557.7 155.8L558.2 157.8L558.8 161.8L559.0 166.8L558.7 174.3L558.0 181.8L557.5 184.8L557.0 186.7L556.5 187.9L556.0 188.6M556.0 155.0L556.5 155.5L557.0 156.4L557.5 157.8L557.9 159.3L558.4 162.8L558.5 166.8L558.3 172.3L557.6 178.8L557.0 182.1L556.5 183.7L556.0 184.6M556.0 156.7L556.5 157.3L557.0 158.3L557.5 160.2L557.9 162.8L558.0 166.3L557.9 170.8L557.4 175.3L556.7 178.8L556.5 179.6L556.0 180.8M556.0 158.3L556.6 159.3L557.2 161.3L557.5 163.8L557.6 166.3L557.5 169.4L557.1 172.8L556.5 175.7L556.0 177.1M556.0 159.8L556.5 160.8L556.9 162.3L557.1 164.3L557.2 166.3L556.9 170.3L556.5 172.4L556.0 173.8M556.0 161.6L556.5 163.1L556.7 165.8L556.5 169.1L556.0 171.0" fill="none" stroke="#1c1c1c" stroke-width="0.55" /><rect x="556.4" y="150" width="3" height="44" fill="#222" stroke="none" stroke-width="0" opacity="0.62"/><rect x="559.4" y="154" width="1.6" height="30.8" fill="#444" stroke="none" stroke-width="0" opacity="0.35"/><path d="M582.3 260.8L582.8 259.3L583.4 258.3L584.2 257.3L585.2 256.3L586.6 255.3L588.0 254.4L590.0 253.5L592.0 252.7L596.0 251.6L601.5 250.6L607.5 249.9L614.0 249.7L619.0 249.9L623.0 250.5L626.5 251.4L629.5 252.7L632.1 254.3L633.3 255.3L634.3 256.3L635.7 258.3L636.3 259.8L636.5 260.8M586.8 260.8L587.1 259.8L587.7 258.8L589.2 257.3L591.5 255.8L593.0 255.0L595.0 254.3L599.0 253.2L603.0 252.5L608.5 251.9L614.0 251.7L618.0 251.9L621.5 252.4L624.5 253.2L627.0 254.2L629.5 255.8L631.2 257.3L632.2 258.8L632.6 259.8L632.9 260.8M589.7 260.8L590.4 259.3L591.9 257.8L594.0 256.5L597.0 255.3L600.0 254.4L604.5 253.6L609.5 253.1L613.5 253.0L617.0 253.1L620.0 253.5L622.5 254.1L625.0 255.0L627.3 256.3L629.0 257.8L630.1 259.3L630.6 260.8M592.0 260.8L592.5 259.8L592.9 259.3L594.0 258.3L596.0 257.1L598.5 256.1L602.0 255.2L605.5 254.6L609.5 254.1L613.5 254.0L616.5 254.1L619.0 254.4L621.5 255.0L623.8 255.8L625.6 256.8L627.0 257.9L628.2 259.3L628.8 260.8M594.1 260.8L594.5 260.1L595.2 259.3L596.5 258.3L598.4 257.3L600.5 256.6L603.0 255.9L606.5 255.3L610.0 255.0L613.5 254.8L616.0 254.9L618.5 255.2L620.5 255.7L622.5 256.4L624.3 257.3L625.6 258.3L626.5 259.3L627.2 260.8M596.1 260.8L596.8 259.8L598.0 258.8L600.0 257.8L602.0 257.1L604.5 256.5L607.5 256.0L610.5 255.7L613.5 255.6L616.0 255.7L618.0 256.0L620.0 256.4L621.5 257.0L623.1 257.8L624.4 258.8L625.3 259.8L625.7 260.8M598.1 260.8L598.9 259.8L599.6 259.3L601.0 258.5L603.0 257.8L605.5 257.2L608.0 256.7L610.5 256.5L613.0 256.4L615.0 256.4L617.0 256.6L619.0 257.0L620.5 257.5L622.0 258.3L623.0 259.0L623.8 259.8L624.3 260.8M600.1 260.8L601.0 259.9L601.9 259.3L604.5 258.3L608.5 257.4L611.0 257.2L613.0 257.1L616.5 257.3L618.0 257.6L619.5 258.1L621.0 258.8L621.7 259.3L622.2 259.8L622.9 260.8M602.3 260.8L602.8 260.3L603.6 259.8L604.6 259.3L606.0 258.8L609.5 258.1L613.0 257.8L616.0 258.0L618.5 258.7L619.8 259.3L620.5 259.8L621.3 260.8" fill="none" stroke="#2a2a2a" stroke-width="0.5" /><rect x="598.53" y="253.1" width="27.075" height="6.6" fill="#333" stroke="none" stroke-width="0" opacity="0.4"/><path d="M556.0 252.8 L558.2 256.3 L560.5 260.8 L556.0 260.8 Z" fill="#111" stroke="none" stroke-width="1" /><line x1="556" y1="44.8" x2="704.6" y2="44.8" stroke="#222" stroke-width="0.9" /><line x1="704.6" y1="44.8" x2="704.6" y2="260.8" stroke="#888" stroke-width="0.8" /><line x1="556" y1="44.8" x2="556" y2="260.8" stroke="#111" stroke-width="0.9" /><line x1="556" y1="260.8" x2="704.6" y2="260.8" stroke="#222" stroke-width="0.9" /><line x1="598.6" y1="44.8" x2="598.6" y2="260.8" stroke="#111" stroke-width="0.9" /><line x1="556" y1="198.3" x2="704.6" y2="198.3" stroke="#111" stroke-width="1" /><text x="543.6" y="262.7" class="r" font-size="8.8" fill="#111" textLength="5.4" lengthAdjust="spacingAndGlyphs" >10</text><text x="549.1" y="258.7" class="r" font-size="6" fill="#111" textLength="2.5" lengthAdjust="spacingAndGlyphs" >0</text><text x="543.6" y="231.833" class="r" font-size="8.8" fill="#111" textLength="5.4" lengthAdjust="spacingAndGlyphs" >10</text><text x="549.1" y="227.833" class="r" font-size="6" fill="#111" textLength="2.5" lengthAdjust="spacingAndGlyphs" >1</text><text x="543.6" y="200.967" class="r" font-size="8.8" fill="#111" textLength="5.4" lengthAdjust="spacingAndGlyphs" >10</text><text x="549.1" y="196.967" class="r" font-size="6" fill="#111" textLength="2.5" lengthAdjust="spacingAndGlyphs" >2</text><text x="543.6" y="170.1" class="r" font-size="8.8" fill="#111" textLength="5.4" lengthAdjust="spacingAndGlyphs" >10</text><text x="549.1" y="166.1" class="r" font-size="6" fill="#111" textLength="2.5" lengthAdjust="spacingAndGlyphs" >3</text><text x="543.6" y="139.233" class="r" font-size="8.8" fill="#111" textLength="5.4" lengthAdjust="spacingAndGlyphs" >10</text><text x="549.1" y="135.233" class="r" font-size="6" fill="#111" textLength="2.5" lengthAdjust="spacingAndGlyphs" >4</text><text x="543.6" y="108.367" class="r" font-size="8.8" fill="#111" textLength="5.4" lengthAdjust="spacingAndGlyphs" >10</text><text x="549.1" y="104.367" class="r" font-size="6" fill="#111" textLength="2.5" lengthAdjust="spacingAndGlyphs" >5</text><text x="543.6" y="77.5" class="r" font-size="8.8" fill="#111" textLength="5.4" lengthAdjust="spacingAndGlyphs" >10</text><text x="549.1" y="73.5" class="r" font-size="6" fill="#111" textLength="2.5" lengthAdjust="spacingAndGlyphs" >6</text><text x="558.7" y="277.6" class="r" font-size="8.8" fill="#111" textLength="5.4" lengthAdjust="spacingAndGlyphs" >10</text><text x="564.2" y="273.4" class="r" font-size="6" fill="#111" textLength="2.5" lengthAdjust="spacingAndGlyphs" >0</text><text x="579.8" y="277.6" class="r" font-size="8.8" fill="#111" textLength="5.4" lengthAdjust="spacingAndGlyphs" >10</text><text x="585.3" y="273.4" class="r" font-size="6" fill="#111" textLength="2.5" lengthAdjust="spacingAndGlyphs" >1</text><text x="600.9" y="277.6" class="r" font-size="8.8" fill="#111" textLength="5.4" lengthAdjust="spacingAndGlyphs" >10</text><text x="606.4" y="273.4" class="r" font-size="6" fill="#111" textLength="2.5" lengthAdjust="spacingAndGlyphs" >2</text><text x="622" y="277.6" class="r" font-size="8.8" fill="#111" textLength="5.4" lengthAdjust="spacingAndGlyphs" >10</text><text x="627.5" y="273.4" class="r" font-size="6" fill="#111" textLength="2.5" lengthAdjust="spacingAndGlyphs" >3</text><text x="643.1" y="277.6" class="r" font-size="8.8" fill="#111" textLength="5.4" lengthAdjust="spacingAndGlyphs" >10</text><text x="648.6" y="273.4" class="r" font-size="6" fill="#111" textLength="2.5" lengthAdjust="spacingAndGlyphs" >4</text><text x="664.2" y="277.6" class="r" font-size="8.8" fill="#111" textLength="5.4" lengthAdjust="spacingAndGlyphs" >10</text><text x="669.7" y="273.4" class="r" font-size="6" fill="#111" textLength="2.5" lengthAdjust="spacingAndGlyphs" >5</text><text x="685.3" y="277.6" class="r" font-size="8.8" fill="#111" textLength="5.4" lengthAdjust="spacingAndGlyphs" >10</text><text x="690.8" y="273.4" class="r" font-size="6" fill="#111" textLength="2.5" lengthAdjust="spacingAndGlyphs" >6</text><path d="M552.8 258.5H556.0M552.8 227.6H556.0M552.8 196.8H556.0M552.8 165.9H556.0M552.8 135.0H556.0M552.8 104.2H556.0M552.8 73.3H556.0M581.6 260.8V264.0M602.7 260.8V264.0M623.8 260.8V264.0M644.9 260.8V264.0M666.0 260.8V264.0M687.1 260.8V264.0M556.0 260.8V264.0" fill="none" stroke="#111" stroke-width="0.8" /><path d="M554.5 249.2H556.0M554.5 243.8H556.0M554.5 239.9H556.0M554.5 236.9H556.0M554.5 234.5H556.0M554.5 232.4H556.0M554.5 230.6H556.0M554.5 229.0H556.0M554.5 218.3H556.0M554.5 212.9H556.0M554.5 209.0H556.0M554.5 206.1H556.0M554.5 203.6H556.0M554.5 201.5H556.0M554.5 199.8H556.0M554.5 198.2H556.0M554.5 187.5H556.0M554.5 182.0H556.0M554.5 178.2H556.0M554.5 175.2H556.0M554.5 172.7H556.0M554.5 170.7H556.0M554.5 168.9H556.0M554.5 167.3H556.0M554.5 156.6H556.0M554.5 151.2H556.0M554.5 147.3H556.0M554.5 144.3H556.0M554.5 141.9H556.0M554.5 139.8H556.0M554.5 138.0H556.0M554.5 136.4H556.0M554.5 125.7H556.0M554.5 120.3H556.0M554.5 116.4H556.0M554.5 113.5H556.0M554.5 111.0H556.0M554.5 108.9H556.0M554.5 107.2H556.0M554.5 105.6H556.0M554.5 94.9H556.0M554.5 89.4H556.0M554.5 85.6H556.0M554.5 82.6H556.0M554.5 80.1H556.0M554.5 78.1H556.0M554.5 76.3H556.0M554.5 74.7H556.0M554.5 64.0H556.0M554.5 58.6H556.0M554.5 54.7H556.0M554.5 51.7H556.0M554.5 49.3H556.0M554.5 47.2H556.0M566.9 260.8V262.4M570.6 260.8V262.4M573.2 260.8V262.4M575.2 260.8V262.4M576.9 260.8V262.4M578.3 260.8V262.4M579.6 260.8V262.4M580.6 260.8V262.4M588.0 260.8V262.4M591.7 260.8V262.4M594.3 260.8V262.4M596.3 260.8V262.4M598.0 260.8V262.4M599.4 260.8V262.4M600.7 260.8V262.4M601.7 260.8V262.4M609.1 260.8V262.4M612.8 260.8V262.4M615.4 260.8V262.4M617.4 260.8V262.4M619.1 260.8V262.4M620.5 260.8V262.4M621.8 260.8V262.4M622.8 260.8V262.4M630.2 260.8V262.4M633.9 260.8V262.4M636.5 260.8V262.4M638.5 260.8V262.4M640.2 260.8V262.4M641.6 260.8V262.4M642.9 260.8V262.4M643.9 260.8V262.4M651.3 260.8V262.4M655.0 260.8V262.4M657.6 260.8V262.4M659.6 260.8V262.4M661.3 260.8V262.4M662.7 260.8V262.4M664.0 260.8V262.4M665.0 260.8V262.4M672.4 260.8V262.4M676.1 260.8V262.4M678.7 260.8V262.4M680.7 260.8V262.4M682.4 260.8V262.4M683.8 260.8V262.4M685.1 260.8V262.4M686.1 260.8V262.4M693.5 260.8V262.4M697.2 260.8V262.4M699.8 260.8V262.4M701.8 260.8V262.4M703.5 260.8V262.4" fill="none" stroke="#111" stroke-width="0.6" /><text x="559.2" y="64" class="r" font-size="10.8" fill="#000" textLength="12.6" lengthAdjust="spacingAndGlyphs" >10.7</text><text x="683" y="64" class="r" font-size="10.8" fill="#000" textLength="12.6" lengthAdjust="spacingAndGlyphs" >65.9</text><text x="559.2" y="250" class="r" font-size="10.8" fill="#000" textLength="12.6" lengthAdjust="spacingAndGlyphs" >7.51</text><text x="683" y="250" class="r" font-size="10.8" fill="#000" textLength="12.6" lengthAdjust="spacingAndGlyphs" >15.9</text><path d="M778.9 209.0L777.4 209.0L775.9 208.6L774.4 208.0L772.9 206.9L771.4 205.5L770.3 204.0L769.0 202.0L768.1 200.0L766.6 196.0L764.4 188.1L762.9 183.7L761.4 180.3L757.7 173.0L756.6 170.5L755.6 167.5L754.7 163.5L754.3 160.0L754.3 156.5L754.7 152.5L755.5 149.5L756.5 146.5L757.6 144.0L759.4 141.0L761.3 138.5L763.2 136.5L765.4 134.6L767.9 132.8L770.4 131.4L773.4 130.1L776.4 129.2L779.9 128.4L785.4 127.3L788.9 126.9L791.9 126.8L794.9 127.1L796.9 127.7L798.9 128.6L800.4 129.5L802.2 131.0L803.5 132.5L805.0 134.5L806.2 136.5L807.6 139.5L808.8 142.5L809.7 145.5L810.5 149.0L810.9 151.5L811.2 154.0L811.2 157.0L811.1 159.5L810.6 162.5L810.0 165.0L809.2 167.5L807.2 172.0L805.0 175.5L800.9 181.5L798.9 184.6L796.9 188.3L792.8 196.5L790.1 201.0L787.4 204.3L785.9 205.8L784.4 207.0L781.9 208.3L780.4 208.8L778.9 209.0M779.9 199.5L778.4 199.4L777.4 199.2L775.4 198.0L774.4 197.0L773.4 195.7L772.4 194.0L771.5 192.0L767.4 180.1L763.2 170.5L761.6 166.0L760.9 163.0L760.6 160.0L760.6 157.0L761.0 154.0L761.6 151.5L762.3 149.5L763.2 147.5L764.4 145.4L765.8 143.5L767.4 141.7L768.9 140.4L770.9 138.9L772.9 137.8L775.4 136.6L777.9 135.8L781.4 134.9L784.9 134.2L787.9 133.9L790.4 133.9L792.4 134.1L793.9 134.5L795.4 135.0L796.9 135.9L798.3 137.0L800.5 139.5L802.4 143.0L803.2 145.0L804.0 147.5L804.8 152.0L804.9 156.5L804.3 161.0L803.2 165.0L801.3 169.5L795.4 179.9L790.7 189.0L788.6 192.5L786.4 195.5L784.4 197.5L782.4 198.8L780.9 199.4L779.9 199.5M781.4 194.6L779.9 194.8L778.9 194.7L777.9 194.3L776.9 193.7L775.9 192.8L774.9 191.6L773.2 188.5L769.5 178.5L765.7 169.5L764.5 166.0L763.8 163.0L763.5 160.5L763.5 157.5L763.8 155.0L764.2 153.0L764.9 151.0L766.6 147.5L767.9 145.7L769.4 144.0L772.4 141.6L774.4 140.5L776.4 139.5L778.9 138.7L781.4 138.0L784.4 137.4L786.9 137.1L788.9 137.0L790.9 137.2L792.4 137.5L793.9 138.1L796.2 139.5L798.2 141.5L799.9 144.3L801.1 147.5L802.0 151.5L802.2 155.5L801.8 159.5L800.7 164.0L799.1 168.0L788.9 186.9L786.9 190.0L785.2 192.0L783.4 193.6L781.4 194.6M780.9 191.0L779.9 191.0L778.9 190.8L777.9 190.3L776.9 189.4L775.4 187.4L773.7 184.0L767.8 169.5L766.4 165.5L765.8 163.0L765.5 160.5L765.5 158.0L765.8 155.5L766.8 152.0L767.7 150.0L768.6 148.5L770.9 145.7L772.4 144.4L773.9 143.3L777.4 141.5L781.9 140.1L786.4 139.4L788.4 139.4L790.4 139.6L792.9 140.4L794.9 141.6L796.9 143.6L798.4 146.2L799.4 149.0L800.1 152.5L800.2 156.0L799.8 160.0L798.7 164.0L797.0 168.0L794.7 172.5L788.3 184.0L786.4 186.8L784.4 189.1L782.4 190.5L780.9 191.0M781.9 187.6L780.9 187.8L779.9 187.7L778.9 187.3L777.9 186.6L776.4 184.9L774.6 181.5L769.9 170.5L768.2 166.0L767.6 163.5L767.3 161.0L767.2 158.5L767.4 156.5L768.3 153.0L769.8 150.0L771.9 147.3L774.4 145.2L777.9 143.3L781.9 142.0L785.9 141.3L787.9 141.3L789.4 141.5L791.9 142.2L793.9 143.4L795.5 145.0L796.8 147.0L797.8 149.5L798.5 152.5L798.6 155.5L798.4 159.0L797.6 162.5L796.1 166.5L794.1 170.5L790.2 177.5L787.4 182.2L785.4 184.9L783.4 186.8L781.9 187.6M781.9 184.6L780.9 184.8L779.9 184.6L778.9 184.1L777.9 183.2L776.0 180.5L773.9 176.3L770.8 169.0L769.3 164.5L768.7 160.5L768.7 158.5L769.0 156.5L769.8 153.5L771.1 151.0L773.0 148.5L775.4 146.5L778.4 144.9L781.9 143.7L785.4 143.1L787.4 143.0L788.9 143.2L790.9 143.7L792.9 144.9L794.5 146.5L795.8 148.5L796.7 151.0L797.1 153.5L797.2 156.5L796.9 159.5L796.0 163.0L794.7 166.5L792.7 170.5L789.9 175.4L787.4 179.4L785.4 182.0L783.4 183.9L781.9 184.6M782.9 181.5L781.9 181.9L780.9 182.0L779.9 181.7L778.9 181.1L777.4 179.5L775.4 176.1L772.5 170.0L770.9 165.5L770.2 161.5L770.1 159.5L770.2 157.5L771.0 154.5L772.2 152.0L773.9 149.7L775.9 148.0L778.9 146.3L781.9 145.2L784.9 144.6L787.9 144.7L789.9 145.1L791.6 146.0L793.3 147.5L794.3 149.0L795.2 151.0L795.8 153.5L796.0 156.0L795.8 158.5L795.3 161.0L794.4 164.0L793.1 167.0L791.3 170.5L788.9 174.6L786.4 178.2L784.4 180.5L782.9 181.5M782.9 179.0L781.9 179.4L780.9 179.4L779.4 178.7L777.9 177.2L775.9 174.2L773.7 169.5L772.1 165.0L771.4 161.5L771.5 158.0L772.1 155.5L773.2 153.0L774.7 151.0L776.4 149.4L778.9 147.8L781.9 146.6L784.9 146.1L787.4 146.1L789.4 146.6L790.9 147.4L792.1 148.5L793.2 150.0L794.1 152.0L794.6 154.0L794.7 156.5L794.5 159.0L794.0 161.5L793.0 164.5L791.7 167.5L790.0 170.5L787.9 173.9L785.9 176.5L784.4 178.0L782.9 179.0M782.9 176.7L781.4 177.0L779.9 176.5L778.4 175.2L776.4 172.3L774.5 168.5L773.3 165.0L772.7 161.5L772.7 158.5L773.3 156.0L774.2 154.0L775.6 152.0L777.4 150.3L779.4 149.1L781.9 148.1L784.4 147.6L786.9 147.6L788.4 147.9L789.9 148.6L791.0 149.5L792.2 151.0L792.9 152.5L793.4 154.5L793.5 156.5L793.4 159.0L792.9 161.5L792.0 164.0L790.9 166.6L789.4 169.4L787.4 172.5L785.9 174.3L784.4 175.8L782.9 176.7M782.4 174.6L780.9 174.6L779.4 173.7L777.9 172.1L776.4 169.6L775.2 167.0L774.3 164.0L773.9 161.0L774.0 158.5L774.5 156.5L775.4 154.5L776.5 153.0L778.1 151.5L779.9 150.3L781.9 149.5L784.4 149.0L786.4 149.0L787.9 149.4L789.4 150.2L790.4 151.1L791.4 152.5L791.9 154.0L792.2 155.5L792.3 157.5L792.2 159.5L791.7 161.5L790.9 164.0L789.8 166.5L788.3 169.0L786.9 171.0L785.4 172.8L783.9 174.0L782.4 174.6M783.4 172.1L781.9 172.5L780.4 172.1L779.1 171.0L777.9 169.5L776.6 167.0L775.7 164.5L775.2 162.0L775.2 159.5L775.6 157.5L776.2 156.0L777.1 154.5L778.4 153.0L779.9 151.9L781.9 151.0L783.9 150.5L785.9 150.5L787.4 150.9L788.4 151.4L789.1 152.0L789.9 153.0L790.4 154.0L790.9 155.5L791.1 157.0L791.0 159.0L790.3 162.5L789.5 164.5L788.4 166.6L787.2 168.5L785.9 170.2L784.4 171.6L783.4 172.1M782.9 170.2L781.4 170.2L780.4 169.7L779.4 168.8L778.4 167.5L777.4 165.5L776.8 163.5L776.5 161.5L776.6 159.5L776.9 158.0L777.5 156.5L778.4 155.2L779.5 154.0L780.9 153.1L782.4 152.4L783.9 152.1L785.4 152.1L786.4 152.4L787.4 152.8L788.2 153.5L788.9 154.4L789.7 156.5L789.8 158.0L789.7 159.5L788.9 162.8L787.4 166.0L786.3 167.5L784.9 169.0L783.9 169.7L782.9 170.2M783.4 167.7L782.4 167.9L781.4 167.7L780.4 167.1L779.8 166.5L778.9 165.0L778.4 163.7L778.1 162.0L778.0 160.5L778.3 159.0L778.6 158.0L779.1 157.0L779.9 155.9L780.9 155.0L781.9 154.5L783.3 154.0L784.4 153.9L785.9 154.3L786.9 154.9L787.4 155.5L787.9 156.5L788.2 157.5L788.3 159.5L787.7 162.0L786.6 164.5L784.9 166.7L783.4 167.7M783.9 164.6L782.9 165.0L782.4 165.0L781.3 164.5L780.9 164.0L780.3 163.0L780.0 161.0L780.2 159.5L780.9 158.0L781.4 157.4L782.4 156.7L783.9 156.4L784.9 156.6L785.8 157.5L786.2 158.5L786.4 159.5L786.2 161.0L785.6 162.5L784.9 163.6L783.9 164.6" fill="none" stroke="#1a1a1a" stroke-width="0.6" /><path d="M722.9 142.6L723.4 143.0L723.9 143.6L724.9 145.6L725.8 148.5L726.7 152.5L727.2 156.0L727.7 160.5L728.1 166.0L728.1 171.0L728.0 177.5L727.7 184.5L727.2 190.5L726.7 194.5L725.8 199.0L725.0 202.0L723.9 204.3L723.4 205.0L722.9 205.3M722.9 150.0L723.4 150.4L723.8 151.0L724.4 152.1L725.1 154.0L725.7 156.5L726.2 159.5L726.5 162.5L726.8 169.0L726.5 179.0L726.1 184.0L725.7 188.0L725.1 191.5L724.4 194.2L723.6 196.0L722.9 196.9M722.9 153.4L723.4 153.8L724.1 155.0L724.7 156.5L725.2 158.5L725.8 163.0L726.1 168.5L725.7 177.0L725.0 184.5L724.5 187.5L724.1 189.5L723.4 191.2L722.9 191.8M722.9 155.7L723.4 156.2L723.9 157.1L724.4 158.4L724.8 160.0L725.3 163.5L725.5 168.0L725.3 174.5L724.6 181.5L723.9 185.2L723.4 186.7L722.9 187.6M722.9 157.5L723.4 158.1L723.8 159.0L724.4 161.0L724.9 164.0L725.1 168.0L724.9 172.5L724.4 177.1L723.7 181.0L723.4 182.4L722.9 183.5M722.9 159.2L723.4 159.9L723.6 160.5L724.2 162.5L724.5 165.0L724.6 168.0L724.5 171.5L724.0 175.0L723.4 178.2L722.9 179.5M722.9 160.9L723.4 161.8L723.9 163.5L724.1 165.5L724.2 167.5L723.9 172.0L723.4 174.6L722.9 176.0M722.9 162.8L723.5 164.5L723.7 167.5L723.4 171.0L722.9 172.9" fill="none" stroke="#1c1c1c" stroke-width="0.55" /><rect x="723.3" y="150" width="3" height="48" fill="#222" stroke="none" stroke-width="0" opacity="0.62"/><rect x="726.3" y="154" width="1.6" height="33.6" fill="#444" stroke="none" stroke-width="0" opacity="0.35"/><path d="M749.0 262.8L749.4 261.3L749.8 260.3L750.7 258.8L751.6 257.8L752.7 256.8L754.1 255.8L757.3 254.1L759.8 253.2L761.8 252.6L766.3 251.7L772.3 250.9L778.3 250.6L782.3 250.8L786.3 251.4L789.8 252.5L792.8 254.0L795.3 255.8L797.1 257.8L798.0 259.3L798.5 260.3L798.9 261.8L799.0 262.8M753.1 262.8L753.3 261.8L753.8 260.8L754.4 259.8L755.3 258.8L757.3 257.2L758.8 256.4L760.3 255.7L763.8 254.5L768.3 253.6L773.3 253.0L778.3 252.8L781.8 252.9L784.8 253.4L787.8 254.3L790.3 255.5L792.3 256.9L793.3 257.8L794.1 258.8L795.2 260.8L795.7 262.8M755.8 262.8L756.1 261.8L756.6 260.8L757.9 259.3L759.8 257.9L762.3 256.7L765.3 255.7L768.8 255.0L773.3 254.4L777.8 254.1L780.8 254.2L783.8 254.7L786.3 255.4L788.8 256.5L790.7 257.8L792.1 259.3L793.1 260.8L793.4 261.8L793.6 262.8M758.0 262.8L758.5 261.3L759.8 259.8L761.8 258.4L763.8 257.5L766.8 256.5L769.8 255.9L773.8 255.4L777.8 255.2L780.3 255.3L782.8 255.6L785.3 256.3L787.3 257.1L789.2 258.3L790.7 259.8L791.5 261.3L791.9 262.8M759.9 262.8L760.3 261.8L760.6 261.3L761.5 260.3L763.3 259.0L765.3 258.1L768.3 257.2L771.3 256.6L774.8 256.2L777.8 256.1L780.3 256.2L782.3 256.5L784.3 257.0L786.3 257.8L787.9 258.8L789.3 260.2L790.0 261.3L790.5 262.8M761.7 262.8L762.1 261.8L763.3 260.5L764.8 259.5L766.8 258.7L769.3 257.9L771.8 257.4L774.8 257.0L777.8 256.9L779.8 257.0L781.8 257.3L783.8 257.8L785.3 258.4L786.8 259.3L787.9 260.3L788.6 261.3L789.2 262.8M763.5 262.8L764.0 261.8L765.0 260.8L766.3 260.0L767.9 259.3L769.8 258.7L772.3 258.2L774.8 257.8L777.3 257.7L779.3 257.8L781.3 258.0L782.8 258.4L784.3 259.0L785.7 259.8L786.8 260.8L787.5 261.8L787.9 262.8M765.3 262.8L765.8 262.0L766.5 261.3L767.8 260.5L769.4 259.8L771.3 259.2L773.3 258.8L775.3 258.6L777.3 258.5L779.3 258.6L780.8 258.8L783.3 259.5L784.3 260.0L785.3 260.8L786.1 261.8L786.5 262.8M767.3 262.8L767.8 262.1L768.8 261.3L771.0 260.3L773.8 259.6L777.3 259.3L780.3 259.5L781.4 259.8L782.7 260.3L784.2 261.3L784.8 262.0L785.2 262.8" fill="none" stroke="#2a2a2a" stroke-width="0.5" /><rect x="764.025" y="254.31" width="24.9375" height="7.02" fill="#333" stroke="none" stroke-width="0" opacity="0.4"/><path d="M722.9 254.5 L725.1 258.0 L727.4 262.5 L722.9 262.5 Z" fill="#111" stroke="none" stroke-width="1" /><line x1="722.9" y1="45.5" x2="872.7" y2="45.5" stroke="#222" stroke-width="0.9" /><line x1="722.9" y1="45.5" x2="722.9" y2="262.5" stroke="#111" stroke-width="0.9" /><line x1="722.9" y1="262.5" x2="872.7" y2="262.5" stroke="#222" stroke-width="0.9" /><line x1="765.4" y1="45.5" x2="765.4" y2="262.5" stroke="#111" stroke-width="1" /><line x1="722.9" y1="199.3" x2="872.7" y2="199.3" stroke="#111" stroke-width="1" /><text x="710.5" y="264.4" class="r" font-size="8.8" fill="#111" textLength="5.4" lengthAdjust="spacingAndGlyphs" >10</text><text x="716" y="260.4" class="r" font-size="6" fill="#111" textLength="2.5" lengthAdjust="spacingAndGlyphs" >0</text><text x="710.5" y="233.367" class="r" font-size="8.8" fill="#111" textLength="5.4" lengthAdjust="spacingAndGlyphs" >10</text><text x="716" y="229.367" class="r" font-size="6" fill="#111" textLength="2.5" lengthAdjust="spacingAndGlyphs" >1</text><text x="710.5" y="202.333" class="r" font-size="8.8" fill="#111" textLength="5.4" lengthAdjust="spacingAndGlyphs" >10</text><text x="716" y="198.333" class="r" font-size="6" fill="#111" textLength="2.5" lengthAdjust="spacingAndGlyphs" >2</text><text x="710.5" y="171.3" class="r" font-size="8.8" fill="#111" textLength="5.4" lengthAdjust="spacingAndGlyphs" >10</text><text x="716" y="167.3" class="r" font-size="6" fill="#111" textLength="2.5" lengthAdjust="spacingAndGlyphs" >3</text><text x="710.5" y="140.267" class="r" font-size="8.8" fill="#111" textLength="5.4" lengthAdjust="spacingAndGlyphs" >10</text><text x="716" y="136.267" class="r" font-size="6" fill="#111" textLength="2.5" lengthAdjust="spacingAndGlyphs" >4</text><text x="710.5" y="109.233" class="r" font-size="8.8" fill="#111" textLength="5.4" lengthAdjust="spacingAndGlyphs" >10</text><text x="716" y="105.233" class="r" font-size="6" fill="#111" textLength="2.5" lengthAdjust="spacingAndGlyphs" >5</text><text x="710.5" y="78.2" class="r" font-size="8.8" fill="#111" textLength="5.4" lengthAdjust="spacingAndGlyphs" >10</text><text x="716" y="74.2" class="r" font-size="6" fill="#111" textLength="2.5" lengthAdjust="spacingAndGlyphs" >6</text><text x="724.1" y="279.3" class="r" font-size="8.8" fill="#111" textLength="5.4" lengthAdjust="spacingAndGlyphs" >10</text><text x="729.6" y="275.1" class="r" font-size="6" fill="#111" textLength="2.5" lengthAdjust="spacingAndGlyphs" >0</text><text x="745.8" y="279.3" class="r" font-size="8.8" fill="#111" textLength="5.4" lengthAdjust="spacingAndGlyphs" >10</text><text x="751.3" y="275.1" class="r" font-size="6" fill="#111" textLength="2.5" lengthAdjust="spacingAndGlyphs" >1</text><text x="767.5" y="279.3" class="r" font-size="8.8" fill="#111" textLength="5.4" lengthAdjust="spacingAndGlyphs" >10</text><text x="773" y="275.1" class="r" font-size="6" fill="#111" textLength="2.5" lengthAdjust="spacingAndGlyphs" >2</text><text x="789.2" y="279.3" class="r" font-size="8.8" fill="#111" textLength="5.4" lengthAdjust="spacingAndGlyphs" >10</text><text x="794.7" y="275.1" class="r" font-size="6" fill="#111" textLength="2.5" lengthAdjust="spacingAndGlyphs" >3</text><text x="810.9" y="279.3" class="r" font-size="8.8" fill="#111" textLength="5.4" lengthAdjust="spacingAndGlyphs" >10</text><text x="816.4" y="275.1" class="r" font-size="6" fill="#111" textLength="2.5" lengthAdjust="spacingAndGlyphs" >4</text><text x="832.6" y="279.3" class="r" font-size="8.8" fill="#111" textLength="5.4" lengthAdjust="spacingAndGlyphs" >10</text><text x="838.1" y="275.1" class="r" font-size="6" fill="#111" textLength="2.5" lengthAdjust="spacingAndGlyphs" >5</text><text x="854.3" y="279.3" class="r" font-size="8.8" fill="#111" textLength="5.4" lengthAdjust="spacingAndGlyphs" >10</text><text x="859.8" y="275.1" class="r" font-size="6" fill="#111" textLength="2.5" lengthAdjust="spacingAndGlyphs" >6</text><path d="M719.7 260.2H722.9M719.7 229.2H722.9M719.7 198.1H722.9M719.7 167.1H722.9M719.7 136.1H722.9M719.7 105.0H722.9M719.7 74.0H722.9M747.6 262.5V265.7M769.3 262.5V265.7M791.0 262.5V265.7M812.7 262.5V265.7M834.4 262.5V265.7M856.1 262.5V265.7M722.9 262.5V265.7" fill="none" stroke="#111" stroke-width="0.8" /><path d="M721.4 250.9H722.9M721.4 245.4H722.9M721.4 241.5H722.9M721.4 238.5H722.9M721.4 236.1H722.9M721.4 234.0H722.9M721.4 232.2H722.9M721.4 230.6H722.9M721.4 219.8H722.9M721.4 214.4H722.9M721.4 210.5H722.9M721.4 207.5H722.9M721.4 205.0H722.9M721.4 202.9H722.9M721.4 201.1H722.9M721.4 199.6H722.9M721.4 188.8H722.9M721.4 183.3H722.9M721.4 179.4H722.9M721.4 176.4H722.9M721.4 174.0H722.9M721.4 171.9H722.9M721.4 170.1H722.9M721.4 168.5H722.9M721.4 157.8H722.9M721.4 152.3H722.9M721.4 148.4H722.9M721.4 145.4H722.9M721.4 143.0H722.9M721.4 140.9H722.9M721.4 139.1H722.9M721.4 137.5H722.9M721.4 126.7H722.9M721.4 121.3H722.9M721.4 117.4H722.9M721.4 114.4H722.9M721.4 111.9H722.9M721.4 109.8H722.9M721.4 108.0H722.9M721.4 106.5H722.9M721.4 95.7H722.9M721.4 90.2H722.9M721.4 86.3H722.9M721.4 83.3H722.9M721.4 80.9H722.9M721.4 78.8H722.9M721.4 77.0H722.9M721.4 75.4H722.9M721.4 64.7H722.9M721.4 59.2H722.9M721.4 55.3H722.9M721.4 52.3H722.9M721.4 49.9H722.9M721.4 47.8H722.9M732.4 262.5V264.1M736.3 262.5V264.1M739.0 262.5V264.1M741.1 262.5V264.1M742.8 262.5V264.1M744.2 262.5V264.1M745.5 262.5V264.1M746.6 262.5V264.1M754.1 262.5V264.1M758.0 262.5V264.1M760.7 262.5V264.1M762.8 262.5V264.1M764.5 262.5V264.1M765.9 262.5V264.1M767.2 262.5V264.1M768.3 262.5V264.1M775.8 262.5V264.1M779.7 262.5V264.1M782.4 262.5V264.1M784.5 262.5V264.1M786.2 262.5V264.1M787.6 262.5V264.1M788.9 262.5V264.1M790.0 262.5V264.1M797.5 262.5V264.1M801.4 262.5V264.1M804.1 262.5V264.1M806.2 262.5V264.1M807.9 262.5V264.1M809.3 262.5V264.1M810.6 262.5V264.1M811.7 262.5V264.1M819.2 262.5V264.1M823.1 262.5V264.1M825.8 262.5V264.1M827.9 262.5V264.1M829.6 262.5V264.1M831.0 262.5V264.1M832.3 262.5V264.1M833.4 262.5V264.1M840.9 262.5V264.1M844.8 262.5V264.1M847.5 262.5V264.1M849.6 262.5V264.1M851.3 262.5V264.1M852.7 262.5V264.1M854.0 262.5V264.1M855.1 262.5V264.1M862.6 262.5V264.1M866.5 262.5V264.1M869.2 262.5V264.1M871.3 262.5V264.1" fill="none" stroke="#111" stroke-width="0.6" /><text x="726.1" y="64" class="r" font-size="10.8" fill="#000" textLength="12.6" lengthAdjust="spacingAndGlyphs" >13.9</text><text x="851.1" y="64" class="r" font-size="10.8" fill="#000" textLength="12.6" lengthAdjust="spacingAndGlyphs" >65.2</text><text x="726.1" y="252" class="r" font-size="10.8" fill="#000" textLength="12.6" lengthAdjust="spacingAndGlyphs" >7.41</text><text x="851.1" y="252" class="r" font-size="10.8" fill="#000" textLength="12.6" lengthAdjust="spacingAndGlyphs" >13.5</text></g>
<g id="pbcd"><text x="870.5" y="21" class="s" font-size="27.5" font-weight="bold" fill="#000" textLength="19.5" lengthAdjust="spacingAndGlyphs" >B</text><rect x="987.2" y="126.1" width="34.8" height="108.1" fill="#FF8080" stroke="#000" stroke-width="0.9" /><rect x="1039.4" y="221.6" width="34.4" height="12.6" fill="#A0A0A4" stroke="#000" stroke-width="0.9" /><rect x="1091.3" y="120.4" width="34.4" height="113.8" fill="url(#pB3)" stroke="#000" stroke-width="0.9" /><rect x="1143" y="119.5" width="34.9" height="114.7" fill="url(#pB4)" stroke="#333" stroke-width="0.9" /><rect x="1194.7" y="116.4" width="34.2" height="117.8" fill="url(#pB5)" stroke="#000" stroke-width="0.9" /><path d="M996.4 119.3H1012.9M1004.6 119.3V126.1" fill="none" stroke="#333" stroke-width="0.9" /><path d="M1048.3 218.5H1064.8M1056.6 218.5V221.6" fill="none" stroke="#222" stroke-width="0.9" /><path d="M1100.5 116.2H1117.0M1108.7 116.2V120.4" fill="none" stroke="#333" stroke-width="0.9" /><path d="M1152.2 116.2H1168.8M1160.5 116.2V119.5" fill="none" stroke="#333" stroke-width="0.9" /><path d="M1204.2 112.8H1220.8M1212.5 112.8V116.4" fill="none" stroke="#333" stroke-width="0.9" /><path d="M1004.6 111V88.4H1052.8V213.8M1057.2 213.8V88.4H1212.5V108.9M1108.7 88.4V112M1160.5 88.4V112" fill="none" stroke="#222" stroke-width="0.8" /><text x="1021.55" y="87.6" class="s" font-size="15" fill="#111" textLength="14.5" lengthAdjust="spacingAndGlyphs" >**</text><text x="1115.05" y="87.6" class="s" font-size="15" fill="#111" textLength="14.5" lengthAdjust="spacingAndGlyphs" >**</text><path d="M970.6 87.4V234.2H1247.0" fill="none" stroke="#000" stroke-width="2.3" /><text x="932.05" y="95.9016" class="s" font-size="18.9" font-weight="bold" fill="#000" textLength="29.6" lengthAdjust="spacingAndGlyphs" stroke="#000" stroke-width="0.3">100</text><text x="942.05" y="124.802" class="s" font-size="18.9" font-weight="bold" fill="#000" textLength="19.6" lengthAdjust="spacingAndGlyphs" stroke="#000" stroke-width="0.3">80</text><text x="942.05" y="153.602" class="s" font-size="18.9" font-weight="bold" fill="#000" textLength="19.6" lengthAdjust="spacingAndGlyphs" stroke="#000" stroke-width="0.3">60</text><text x="942.05" y="182.902" class="s" font-size="18.9" font-weight="bold" fill="#000" textLength="19.6" lengthAdjust="spacingAndGlyphs" stroke="#000" stroke-width="0.3">40</text><text x="942.05" y="212.902" class="s" font-size="18.9" font-weight="bold" fill="#000" textLength="19.6" lengthAdjust="spacingAndGlyphs" stroke="#000" stroke-width="0.3">20</text><text x="951.85" y="241.702" class="s" font-size="18.9" font-weight="bold" fill="#000" textLength="9.8" lengthAdjust="spacingAndGlyphs" stroke="#000" stroke-width="0.3">0</text><path d="M963.2 88.4H970.6M963.2 117.3H970.6M963.2 146.1H970.6M963.2 175.4H970.6M963.2 205.4H970.6M963.2 234.2H970.6M1004.6 234.2V240.2M1056.6 234.2V240.2M1108.7 234.2V240.2M1160.5 234.2V240.2M1212.5 234.2V240.2" fill="none" stroke="#000" stroke-width="2" /><text class="s" font-size="20" font-weight="bold" fill="#000" text-anchor="end" transform="translate(1012.1 249.7) rotate(-52.5)" stroke="#000" stroke-width="0.45">IL4 (20ng/ml)</text><text class="s" font-size="20" font-weight="bold" fill="#000" text-anchor="end" transform="translate(1063.1 250.2) rotate(-52.5)" stroke="#000" stroke-width="0.45">M0</text><text class="s" font-size="20" font-weight="bold" fill="#000" text-anchor="end" transform="translate(1115.2 250.2) rotate(-52.5)" stroke="#000" stroke-width="0.45">M0 + NTB 20µM</text><text class="s" font-size="20" font-weight="bold" fill="#000" text-anchor="end" transform="translate(1167 250.2) rotate(-52.5)" stroke="#000" stroke-width="0.45">M0 + NTB 30µM</text><text class="s" font-size="20" font-weight="bold" fill="#000" text-anchor="end" transform="translate(1218 251.7) rotate(-52.5)" stroke="#000" stroke-width="0.45">M0 + NTB 50µM</text><text class="s" font-size="20.3" font-weight="bold" fill="#000" textLength="297" lengthAdjust="spacingAndGlyphs" transform="translate(920.2 312.5) rotate(-90)" stroke="#000" stroke-width="0.4">% of positive cells (Arginase 1)</text><text x="1230" y="21" class="s" font-size="27.5" font-weight="bold" fill="#000" textLength="20" lengthAdjust="spacingAndGlyphs" >C</text><rect x="1360.8" y="92.4" width="28.2" height="149.1" fill="#F54FD6" stroke="#222" stroke-width="0.9" /><rect x="1403.4" y="235.3" width="28.4" height="6.2" fill="#A0A0A4" stroke="#222" stroke-width="0.9" /><rect x="1445.6" y="105" width="28.4" height="136.5" fill="url(#pC3)" stroke="#111" stroke-width="0.9" /><rect x="1488.2" y="101" width="28.4" height="140.5" fill="url(#pC4)" stroke="#222" stroke-width="0.9" /><rect x="1530.1" y="95.3" width="28.9" height="146.2" fill="url(#pC5)" stroke="#9a7a90" stroke-width="0.9" /><path d="M1367.3 89.7H1381.7M1374.5 89.7V94.8M1367.3 94.8H1381.7" fill="none" stroke="#222" stroke-width="0.9" /><path d="M1410.2 234.6H1424.6M1417.4 234.6V235.6M1410.2 235.6H1424.6" fill="none" stroke="#111" stroke-width="0.9" /><path d="M1452.8 101.5H1467.2M1460.0 101.5V108.1M1452.8 108.1H1467.2" fill="none" stroke="#111" stroke-width="0.9" /><path d="M1494.9 93.7H1509.3M1502.1 93.7V108.1M1494.9 108.1H1509.3" fill="none" stroke="#333" stroke-width="0.9" /><path d="M1537.3 88.8H1551.7M1544.5 88.8V95.3" fill="none" stroke="#222" stroke-width="0.9" /><path d="M1374.5 84.4V65.1H1415.8V227.5M1422.7 227.5V65.1H1544.5V79.5M1460 65.1V87.7M1502.1 65.1V87.7" fill="none" stroke="#222" stroke-width="0.8" /><text x="1387.05" y="64.2" class="s" font-size="15" fill="#111" textLength="21.5" lengthAdjust="spacingAndGlyphs" >***</text><text x="1472.05" y="63.2" class="s" font-size="15" fill="#111" textLength="21.5" lengthAdjust="spacingAndGlyphs" >***</text><path d="M1346.6 73.4V241.5H1573.8" fill="none" stroke="#000" stroke-width="2.3" /><text x="1298.85" y="81.0416" class="s" font-size="16.4" font-weight="bold" fill="#000" textLength="38.8" lengthAdjust="spacingAndGlyphs" stroke="#000" stroke-width="0.3">1000</text><text x="1308.65" y="113.942" class="s" font-size="16.4" font-weight="bold" fill="#000" textLength="29" lengthAdjust="spacingAndGlyphs" stroke="#000" stroke-width="0.3">800</text><text x="1308.65" y="147.642" class="s" font-size="16.4" font-weight="bold" fill="#000" textLength="29" lengthAdjust="spacingAndGlyphs" stroke="#000" stroke-width="0.3">600</text><text x="1308.65" y="180.942" class="s" font-size="16.4" font-weight="bold" fill="#000" textLength="29" lengthAdjust="spacingAndGlyphs" stroke="#000" stroke-width="0.3">400</text><text x="1308.65" y="214.642" class="s" font-size="16.4" font-weight="bold" fill="#000" textLength="29" lengthAdjust="spacingAndGlyphs" stroke="#000" stroke-width="0.3">200</text><text x="1327.95" y="248.142" class="s" font-size="16.4" font-weight="bold" fill="#000" textLength="9.7" lengthAdjust="spacingAndGlyphs" stroke="#000" stroke-width="0.3">0</text><path d="M1339.2 74.4H1346.6M1339.2 107.3H1346.6M1339.2 141.0H1346.6M1339.2 174.3H1346.6M1339.2 208.0H1346.6M1339.2 241.5H1346.6M1374.5 241.5V247.5M1417.4 241.5V247.5M1460.0 241.5V247.5M1502.1 241.5V247.5M1544.5 241.5V247.5" fill="none" stroke="#000" stroke-width="2" /><text class="s" font-size="20" font-weight="bold" fill="#000" text-anchor="end" transform="translate(1381.5 258.5) rotate(-52.5)" stroke="#000" stroke-width="0.45">IL4 (20ng/ml)</text><text class="s" font-size="20" font-weight="bold" fill="#000" text-anchor="end" transform="translate(1419.8 258.5) rotate(-52.5)" stroke="#000" stroke-width="0.45">M0</text><text class="s" font-size="20" font-weight="bold" fill="#000" text-anchor="end" transform="translate(1461.5 257.5) rotate(-52.5)" stroke="#000" stroke-width="0.45">M0 + NTB 20µM</text><text class="s" font-size="20" font-weight="bold" fill="#000" text-anchor="end" transform="translate(1507.1 257.5) rotate(-52.5)" stroke="#000" stroke-width="0.45">M0 + NTB 30µM</text><text class="s" font-size="20" font-weight="bold" fill="#000" text-anchor="end" transform="translate(1551.5 258.5) rotate(-52.5)" stroke="#000" stroke-width="0.45">M0 + NTB 50µM</text><text class="s" font-size="19.6" font-weight="bold" fill="#000" textLength="133.5" lengthAdjust="spacingAndGlyphs" transform="translate(1295 212.3) rotate(-90)" stroke="#000" stroke-width="0.4">IL-1Ra (pg/ml)</text><text x="23.3" y="347" class="s" font-size="27.5" font-weight="bold" fill="#000" textLength="19.5" lengthAdjust="spacingAndGlyphs" >D</text><rect x="121.6" y="422.5" width="27.4" height="110.6" fill="#8C8CFF" stroke="#333" stroke-width="0.9" /><rect x="162.8" y="526" width="27.9" height="7.1" fill="#A0A0A4" stroke="#222" stroke-width="0.9" /><rect x="204.3" y="434.3" width="27.4" height="98.8" fill="url(#pD3)" stroke="#111" stroke-width="0.9" /><rect x="245.3" y="424.4" width="27.4" height="108.7" fill="url(#pD4)" stroke="#333" stroke-width="0.9" /><rect x="286.5" y="408.3" width="27.3" height="124.8" fill="url(#pD5)" stroke="#111" stroke-width="0.9" /><path d="M128.7 414.4H142.0M135.3 414.4V430.5M128.7 430.5H142.0" fill="none" stroke="#333" stroke-width="0.9" /><path d="M170.2 525.3H183.5M176.8 525.3V526.3M170.2 526.3H183.5" fill="none" stroke="#111" stroke-width="0.9" /><path d="M211.2 428.6H224.5M217.8 428.6V439.4M211.2 439.4H224.5" fill="none" stroke="#333" stroke-width="0.9" /><path d="M252.5 420.6H265.8M259.2 420.6V427.3M252.5 427.3H265.8" fill="none" stroke="#333" stroke-width="0.9" /><path d="M293.6 399.6H306.8M300.2 399.6V417.2M293.6 417.2H306.8" fill="none" stroke="#333" stroke-width="0.9" /><path d="M135.3 404.5V387.2H177.2V515.5M182.9 515.5V387.2H300.2V394.6M217.8 387.2V428.6M259.2 387.2V416.6" fill="none" stroke="#222" stroke-width="0.8" /><text x="146.05" y="379.8" class="s" font-size="15" fill="#111" textLength="19.5" lengthAdjust="spacingAndGlyphs" >***</text><text x="220.05" y="381.2" class="s" font-size="15" fill="#111" textLength="19.5" lengthAdjust="spacingAndGlyphs" >***</text><path d="M107.9 372.4V533.1H328.4" fill="none" stroke="#000" stroke-width="2.3" /><text x="64.05" y="379.242" class="s" font-size="16.4" font-weight="bold" fill="#000" textLength="34.9" lengthAdjust="spacingAndGlyphs" stroke="#000" stroke-width="0.3">3000</text><text x="64.05" y="432.542" class="s" font-size="16.4" font-weight="bold" fill="#000" textLength="34.9" lengthAdjust="spacingAndGlyphs" stroke="#000" stroke-width="0.3">2000</text><text x="64.05" y="485.842" class="s" font-size="16.4" font-weight="bold" fill="#000" textLength="34.9" lengthAdjust="spacingAndGlyphs" stroke="#000" stroke-width="0.3">1000</text><text x="90.25" y="538.942" class="s" font-size="16.4" font-weight="bold" fill="#000" textLength="8.7" lengthAdjust="spacingAndGlyphs" stroke="#000" stroke-width="0.3">0</text><path d="M100.5 373.4H107.9M100.5 426.7H107.9M100.5 480.0H107.9M100.5 533.1H107.9M135.3 533.1V539.1M176.8 533.1V539.1M217.8 533.1V539.1M259.2 533.1V539.1M300.2 533.1V539.1" fill="none" stroke="#000" stroke-width="2" /><text class="s" font-size="20" font-weight="bold" fill="#000" text-anchor="end" transform="translate(146.3 540.1) rotate(-53)" stroke="#000" stroke-width="0.45">IL4 (20ng/ml)</text><text class="s" font-size="20" font-weight="bold" fill="#000" text-anchor="end" transform="translate(183.2 541.9) rotate(-53)" stroke="#000" stroke-width="0.45">M0</text><text class="s" font-size="20" font-weight="bold" fill="#000" text-anchor="end" transform="translate(223.3 547.5) rotate(-53)" stroke="#000" stroke-width="0.45">M0 + NTB 20µM</text><text class="s" font-size="20" font-weight="bold" fill="#000" text-anchor="end" transform="translate(263.8 550.1) rotate(-53)" stroke="#000" stroke-width="0.45">M0 + NTB 30µM</text><text class="s" font-size="20" font-weight="bold" fill="#000" text-anchor="end" transform="translate(309.7 547.5) rotate(-53)" stroke="#000" stroke-width="0.45">M0 + NTB 50µM</text><text class="s" font-size="19.6" font-weight="bold" fill="#000" textLength="127.5" lengthAdjust="spacingAndGlyphs" transform="translate(52.9 503.4) rotate(-90)" stroke="#000" stroke-width="0.4">VEGF (pg/ml)</text></g>
<g id="pef"><text x="336" y="347.4" class="s" font-size="27.5" font-weight="bold" fill="#000" textLength="17" lengthAdjust="spacingAndGlyphs" >E</text><text class="s" font-size="18" font-weight="bold" fill="#000" transform="translate(362.5 457.5) rotate(-41)" stroke="#000" stroke-width="0.4">M0</text><text class="s" font-size="18" font-weight="bold" fill="#000" transform="translate(396 452.5) rotate(-41)" stroke="#000" stroke-width="0.4">IL4 (20ng/ml)</text><text class="s" font-size="18" font-weight="bold" fill="#000" transform="translate(435.5 452.5) rotate(-41)" stroke="#000" stroke-width="0.4">M0 + NTB 20µM</text><text class="s" font-size="18" font-weight="bold" fill="#000" transform="translate(471.5 453) rotate(-41)" stroke="#000" stroke-width="0.4">M0 + NTB 30µM</text><text class="s" font-size="18" font-weight="bold" fill="#000" transform="translate(512 452.5) rotate(-41)" stroke="#000" stroke-width="0.4">M0 + NTB 50µM</text><rect x="342" y="463.7" width="187.7" height="48.9" fill="url(#gE1)" stroke="none" stroke-width="1" /><g clip-path="url(#cE1)"><path d="M384 506 C395 503 405 501 418 497 C432 494.5 445 492 456 487 C470 484.5 490 485.5 505 484 C515 482.5 522 481 528 479" fill="none" stroke="#bbb" stroke-width="22" filter="url(#bl3)" opacity="0.8"/><path d="M387 503.5 C395 501.5 405 499.5 417 497" fill="none" stroke="#050505" stroke-width="16.5" filter="url(#bl1)" stroke-linecap="round"/><path d="M417 496 C430 494 445 491.5 456 487" fill="none" stroke="#050505" stroke-width="12" filter="url(#bl1)" stroke-linecap="round"/><path d="M456 486 C470 483.5 490 484.5 505 483.5 C513 482.5 519 481.5 524 480" fill="none" stroke="#050505" stroke-width="14.5" filter="url(#bl1)" stroke-linecap="round"/><path d="M524 474 L524.5 488" fill="none" stroke="#050505" stroke-width="7" filter="url(#bl1)" stroke-linecap="round"/></g><rect x="342" y="463.7" width="187.7" height="48.9" fill="none" stroke="#444" stroke-width="0.7" /><rect x="342" y="529.2" width="187.7" height="52.2" fill="#D2D2D2" stroke="none" stroke-width="1" /><g clip-path="url(#cE2)"><path d="M350 564.5 C358 565 370 564 377 562" fill="none" stroke="#050505" stroke-width="9.5" filter="url(#bl2)" stroke-linecap="round"/><path d="M386 559.5 C395 559 405 558 414 556.5" fill="none" stroke="#050505" stroke-width="9.5" filter="url(#bl2)" stroke-linecap="round"/><path d="M422 555.5 C430 555 440 554 448 553" fill="none" stroke="#050505" stroke-width="9.5" filter="url(#bl2)" stroke-linecap="round"/><path d="M458 552.5 C466 552 476 551.5 484 551" fill="none" stroke="#050505" stroke-width="9.5" filter="url(#bl2)" stroke-linecap="round"/><path d="M494 550.5 C502 550 512 547 524 541.5" fill="none" stroke="#050505" stroke-width="9.5" filter="url(#bl2)" stroke-linecap="round"/></g><rect x="342" y="529.2" width="187.7" height="52.2" fill="none" stroke="#444" stroke-width="0.7" /><text x="535.4" y="498.2" class="s" font-size="19" font-weight="bold" fill="#000" textLength="91.3" lengthAdjust="spacingAndGlyphs" >Arginase 1</text><text x="533.6" y="553.8" class="s" font-size="19" font-weight="bold" fill="#000" textLength="44" lengthAdjust="spacingAndGlyphs" >Actin</text><text x="19.6" y="695" class="s" font-size="27.5" font-weight="bold" fill="#000" textLength="15" lengthAdjust="spacingAndGlyphs" >F</text><path d="M94.7 690.2V913.2H372.4" fill="none" stroke="#000" stroke-width="1.1" /><text x="69" y="708.5" class="s" font-size="10.6" fill="#111" textLength="17" lengthAdjust="spacingAndGlyphs" >160</text><text x="69" y="768.9" class="s" font-size="10.6" fill="#111" textLength="17" lengthAdjust="spacingAndGlyphs" >120</text><text x="74.6" y="828.8" class="s" font-size="10.6" fill="#111" textLength="11.4" lengthAdjust="spacingAndGlyphs" >80</text><text x="74.6" y="889.1" class="s" font-size="10.6" fill="#111" textLength="11.4" lengthAdjust="spacingAndGlyphs" >40</text><text x="92" y="930.2" class="s" font-size="10.6" fill="#111" textLength="5.8" lengthAdjust="spacingAndGlyphs" >0</text><text x="147.3" y="930.2" class="s" font-size="10.6" fill="#111" textLength="5.8" lengthAdjust="spacingAndGlyphs" >4</text><text x="202.6" y="930.2" class="s" font-size="10.6" fill="#111" textLength="5.8" lengthAdjust="spacingAndGlyphs" >8</text><text x="255.1" y="930.2" class="s" font-size="10.6" fill="#111" textLength="11.6" lengthAdjust="spacingAndGlyphs" >12</text><text x="311.1" y="930.2" class="s" font-size="10.6" fill="#111" textLength="11.6" lengthAdjust="spacingAndGlyphs" >16</text><text x="366.4" y="930.2" class="s" font-size="10.6" fill="#111" textLength="11.6" lengthAdjust="spacingAndGlyphs" >20</text><path d="M90.2 704.7H94.7M90.2 765.1H94.7M90.2 825.0H94.7M90.2 885.3H94.7M92.2 734.9H94.7M92.2 795.0H94.7M92.2 855.2H94.7M94.9 913.2V917.6M150.2 913.2V917.6M205.5 913.2V917.6M260.9 913.2V917.6M316.9 913.2V917.6M372.2 913.2V917.6M122.5 913.2V915.6M177.9 913.2V915.6M233.2 913.2V915.6M288.9 913.2V915.6M344.5 913.2V915.6" fill="none" stroke="#000" stroke-width="0.9" /><path d="M108.0 862.2V883.6M105.8 862.2H110.2M105.8 883.6H110.2M135.8 863.5V895.4M133.6 863.5H138.0M133.6 895.4H138.0M177.7 869.6V887.3M175.5 869.6H179.9M175.5 887.3H179.9M219.3 865.2V890.3M217.1 865.2H221.5M217.1 890.3H221.5M260.9 809.9V854.5M258.7 809.9H263.1M258.7 854.5H263.1M302.8 825.3V860.5M300.6 825.3H305.0M300.6 860.5H305.0M344.4 795.1V842.7M342.2 795.1H346.6M342.2 842.7H346.6" fill="none" stroke="#222" stroke-width="0.7" /><path d="M108.0 872.9L135.8 880.0L177.7 878.6L219.3 878.0L260.9 832.0L302.8 842.7L344.4 818.6" fill="none" stroke="#222" stroke-width="0.8" /><rect x="105.6" y="870.5" width="4.8" height="4.8" fill="#000" stroke="none" stroke-width="1" /><rect x="133.4" y="877.6" width="4.8" height="4.8" fill="#000" stroke="none" stroke-width="1" /><rect x="175.3" y="876.2" width="4.8" height="4.8" fill="#000" stroke="none" stroke-width="1" /><rect x="216.9" y="875.6" width="4.8" height="4.8" fill="#000" stroke="none" stroke-width="1" /><rect x="258.5" y="829.6" width="4.8" height="4.8" fill="#000" stroke="none" stroke-width="1" /><rect x="300.4" y="840.3" width="4.8" height="4.8" fill="#000" stroke="none" stroke-width="1" /><rect x="342" y="816.2" width="4.8" height="4.8" fill="#000" stroke="none" stroke-width="1" /><path d="M108.0 877.9V905.4M105.8 877.9H110.2M105.8 905.4H110.2M135.8 863.5V904.0M133.6 863.5H138.0M133.6 904.0H138.0M177.7 836.7V873.6M175.5 836.7H179.9M175.5 873.6H179.9M219.3 806.2V857.1M217.1 806.2H221.5M217.1 857.1H221.5M260.9 799.8V845.4M258.7 799.8H263.1M258.7 845.4H263.1M302.8 737.8V817.2M300.6 737.8H305.0M300.6 817.2H305.0M344.4 692.2V783.4M342.2 692.2H346.6M342.2 783.4H346.6" fill="none" stroke="#F03030" stroke-width="0.7" /><path d="M108.0 892.0L135.8 883.6L177.7 855.1L219.3 832.0L260.9 822.6L302.8 777.7L344.4 737.8" fill="none" stroke="#F03030" stroke-width="0.8" /><circle cx="108" cy="892" r="2.9" fill="#FF0000" stroke="none" stroke-width="1" /><circle cx="135.8" cy="883.6" r="2.9" fill="#FF0000" stroke="none" stroke-width="1" /><circle cx="177.7" cy="855.1" r="2.9" fill="#FF0000" stroke="none" stroke-width="1" /><circle cx="219.3" cy="832" r="2.9" fill="#FF0000" stroke="none" stroke-width="1" /><circle cx="260.9" cy="822.6" r="2.9" fill="#FF0000" stroke="none" stroke-width="1" /><circle cx="302.8" cy="777.7" r="2.9" fill="#FF0000" stroke="none" stroke-width="1" /><circle cx="344.4" cy="737.8" r="2.9" fill="#FF0000" stroke="none" stroke-width="1" /><line x1="108.3" y1="711.4" x2="139" y2="711.4" stroke="#222" stroke-width="0.8" /><rect x="121.2" y="709" width="4.8" height="4.8" fill="#000" stroke="none" stroke-width="1" /><line x1="108.3" y1="728.3" x2="139" y2="728.3" stroke="#F03030" stroke-width="0.8" /><circle cx="123.6" cy="728.3" r="2.9" fill="#FF0000" stroke="none" stroke-width="1" /><text x="147.5" y="716" class="s" font-size="13.2" fill="#111" textLength="43" lengthAdjust="spacingAndGlyphs" >Control</text><text x="144" y="733" class="s" font-size="13.2" fill="#111" textLength="65" lengthAdjust="spacingAndGlyphs" >+ Naltriben</text><text x="206.2" y="960" class="s" font-size="19.4" fill="#0000CC" textLength="41.3" lengthAdjust="spacingAndGlyphs" >Days</text><text class="s" font-size="22.3" fill="#C00000" textLength="179.5" lengthAdjust="spacingAndGlyphs" transform="translate(56.2 906.5) rotate(-90)" >Tumor Volume (mm</text><text class="s" font-size="14.5" fill="#C00000" textLength="7.2" lengthAdjust="spacingAndGlyphs" transform="translate(48.6 725.8) rotate(-90)" >3</text><text class="s" font-size="22.3" fill="#C00000" textLength="6.4" lengthAdjust="spacingAndGlyphs" transform="translate(56.2 717.6) rotate(-90)" >)</text><text class="s" font-size="22.3" fill="#C00000" textLength="179.5" lengthAdjust="spacingAndGlyphs" transform="translate(404.6 904.3) rotate(-90)" >Tumor Volume (mm</text><text class="s" font-size="14.5" fill="#C00000" textLength="7.2" lengthAdjust="spacingAndGlyphs" transform="translate(397 723.6) rotate(-90)" >3</text><text class="s" font-size="22.3" fill="#C00000" textLength="6.4" lengthAdjust="spacingAndGlyphs" transform="translate(404.6 715.4) rotate(-90)" >)</text><rect x="449.4" y="836.7" width="35.6" height="61.7" fill="url(#gGray)" stroke="none" stroke-width="1" /><rect x="485" y="853.2" width="35.5" height="45.2" fill="url(#gRed)" stroke="none" stroke-width="1" /><rect x="538.3" y="790.1" width="36.2" height="108.3" fill="url(#gGray)" stroke="none" stroke-width="1" /><rect x="574.5" y="720.7" width="35.5" height="177.7" fill="url(#gRed)" stroke="none" stroke-width="1" /><path d="M467.2 827H469M502.7 842V864.5M556.7 774V806.5M592.3 694.2V746.5" fill="none" stroke="#666" stroke-width="0.8" /><path d="M439.7 680V898.4H618.8" fill="none" stroke="#000" stroke-width="0.9" /><text x="421.3" y="709.5" class="s" font-size="12.6" fill="#111" textLength="14" lengthAdjust="spacingAndGlyphs" >150</text><text x="421.3" y="773.8" class="s" font-size="12.6" fill="#111" textLength="14" lengthAdjust="spacingAndGlyphs" >100</text><text x="425.9" y="837.9" class="s" font-size="12.6" fill="#111" textLength="9.4" lengthAdjust="spacingAndGlyphs" >50</text><text x="430.5" y="902.9" class="s" font-size="12.6" fill="#111" textLength="4.8" lengthAdjust="spacingAndGlyphs" >0</text><path d="M436 705.0H439.7M436 769.3H439.7M436 833.4H439.7M436 898.4H439.7M437.6 737.2H439.7M437.6 801.4H439.7M437.6 865.9H439.7M479.3 898.4V902M584.3 898.4V902" fill="none" stroke="#000" stroke-width="0.8" /><rect x="445" y="682.5" width="23.9" height="17.7" fill="url(#gGray)" stroke="#000" stroke-width="0.5" /><rect x="445" y="702" width="23.9" height="17.7" fill="url(#gRed)" stroke="#000" stroke-width="0.5" /><text x="472.2" y="695.6" class="s" font-size="15" fill="#111" textLength="34.2" lengthAdjust="spacingAndGlyphs" >Control</text><text x="472.2" y="715.6" class="s" font-size="15" fill="#111" textLength="51" lengthAdjust="spacingAndGlyphs" >+ Naltriben</text><line x1="460.8" y1="812.2" x2="497.7" y2="812.2" stroke="#111" stroke-width="0.8" /><text x="473.5" y="805" class="s" font-size="8.2" fill="#222" textLength="11.5" lengthAdjust="spacingAndGlyphs" >NS</text><line x1="555" y1="676.1" x2="592" y2="676.1" stroke="#111" stroke-width="0.8" /><text x="568" y="669" class="s" font-size="8.5" fill="#222" textLength="7.6" lengthAdjust="spacingAndGlyphs" >**</text><text x="456.5" y="916.6" class="s" font-size="18.6" fill="#0000CC" textLength="43.5" lengthAdjust="spacingAndGlyphs" >Day 3</text><text x="537.7" y="916.6" class="s" font-size="18.6" fill="#0000CC" textLength="54.3" lengthAdjust="spacingAndGlyphs" >Day 18</text></g>
<g id="pg"><text x="647" y="384.4" class="s" font-size="27.5" font-weight="bold" fill="#000" textLength="20" lengthAdjust="spacingAndGlyphs" >G</text><path d="M646 417.3H1622V993H646Z M650.5 421.8V987.2H1617.2V421.8Z" fill="#2F5597" stroke="none" stroke-width="0" fill-rule="evenodd"/><text x="720.5" y="474" class="s" font-size="30.2" fill="#002060" textLength="221.3" lengthAdjust="spacingAndGlyphs" >M2 Macrophage</text><text x="1015.9" y="470.1" class="s" font-size="30.2" fill="#385723" textLength="253.7" lengthAdjust="spacingAndGlyphs" >Naïve Macrophage</text><text x="1387.2" y="471" class="s" font-size="30.2" fill="#843C0C" textLength="222.1" lengthAdjust="spacingAndGlyphs" >M1 Macrophage</text><path d="M728.6 547.5C731.3 548.3 739.6 551.2 745.0 552.5C750.4 553.8 755.3 556.8 760.8 555.4C766.3 554.0 772.6 547.9 778.0 544.0C783.4 540.1 790.5 533.8 793.0 531.8L793.0 531.8C794.7 532.7 798.2 533.6 803.0 537.0C807.8 540.4 815.6 548.2 822.0 552.0C828.4 555.8 836.1 559.2 841.3 560.0C846.5 560.8 849.3 557.9 853.0 556.5C856.7 555.1 861.8 552.3 863.5 551.5L863.5 551.5C864.2 553.8 864.8 559.4 867.5 565.0C870.2 570.6 874.9 580.0 879.6 585.2C884.4 590.4 890.5 593.1 896.0 596.0C901.5 598.9 910.0 601.2 912.8 602.3L912.8 602.3C912.3 604.9 910.5 612.0 909.8 618.0C909.1 624.0 907.6 632.0 908.8 638.3C910.0 644.6 913.2 650.4 917.0 656.0C920.8 661.6 928.9 669.3 931.3 672.0L931.3 672.0C929.2 674.5 922.5 681.8 919.0 687.0C915.5 692.2 912.5 696.7 910.6 703.0C908.7 709.3 908.3 718.0 907.5 725.0C906.7 732.0 908.2 738.9 906.0 745.0C903.8 751.1 896.2 758.8 894.2 761.5L894.2 761.5C892.8 761.0 888.6 759.1 886.0 758.5C883.4 757.9 880.7 755.6 878.6 757.7C876.5 759.8 875.7 765.1 873.4 770.9C871.1 776.7 866.2 788.7 864.8 792.3L864.8 792.3C862.5 790.8 856.5 784.3 851.0 783.0C845.5 781.7 838.3 783.3 832.0 784.5C825.7 785.7 819.5 785.5 813.0 790.0C806.5 794.5 796.3 808.0 793.0 811.6L793.0 811.6C790.0 807.7 781.5 792.3 775.0 788.0C768.5 783.7 760.9 785.7 754.0 786.0C747.1 786.3 739.0 787.4 733.6 789.8C728.2 792.2 723.5 798.5 721.5 800.2L721.5 800.2C720.3 797.0 716.5 788.4 714.5 781.2C712.5 774.0 713.2 762.5 709.5 757.0C705.8 751.5 697.7 750.3 692.0 748.0C686.3 745.7 678.0 743.8 675.2 743.0L675.2 743.0C676.6 740.6 682.8 735.9 683.3 728.9C683.8 721.9 680.8 708.2 678.3 700.7C675.8 693.2 671.7 688.9 668.0 684.0C664.3 679.1 658.1 673.6 656.1 671.5L656.1 671.5C658.8 668.8 668.1 660.2 672.0 655.0C675.9 649.8 677.6 647.5 679.3 640.3C681.0 633.1 683.0 618.5 682.3 612.0C681.6 605.5 676.4 603.1 675.2 601.3L675.2 601.3C678.0 600.4 686.8 598.0 692.0 596.0C697.2 594.0 701.8 592.2 706.4 589.0C711.0 585.8 716.7 582.3 719.5 577.0C722.3 571.7 721.5 561.9 723.0 557.0C724.5 552.1 727.7 549.1 728.6 547.5Z" fill="url(#gM2)" stroke="#2020D8" stroke-width="1.1" stroke-linejoin="miter"/><path d="M1038.8 578.7C1040.8 579.0 1045.5 581.0 1050.9 580.7C1056.3 580.4 1065.3 578.4 1071.0 576.7C1076.7 575.0 1080.8 574.5 1085.0 570.7C1089.2 566.9 1093.0 559.0 1096.0 554.0C1099.0 549.0 1101.0 543.1 1103.2 540.5C1105.4 537.9 1108.2 538.8 1109.2 538.5L1109.2 538.5C1111.8 539.1 1118.2 540.4 1125.0 542.0C1131.8 543.6 1143.3 547.2 1150.0 548.0C1156.7 548.8 1158.2 545.1 1165.0 546.5C1171.8 547.9 1185.0 551.9 1191.0 556.6C1197.0 561.3 1198.2 570.0 1201.2 574.7C1204.2 579.4 1205.2 582.8 1209.2 584.8C1213.2 586.8 1219.8 587.1 1225.0 587.0C1230.2 586.9 1237.9 584.8 1240.5 584.4L1240.5 584.4C1240.2 586.1 1237.9 590.7 1238.4 594.8C1238.9 598.9 1241.7 603.0 1243.5 609.0C1245.3 615.0 1247.2 625.0 1249.5 631.0C1251.8 637.0 1253.9 641.2 1257.6 645.0C1261.3 648.8 1269.3 652.2 1271.7 653.6L1271.7 653.6C1270.1 655.8 1264.4 662.4 1262.0 667.0C1259.6 671.6 1257.3 673.5 1257.4 681.0C1257.5 688.5 1261.0 703.5 1262.6 712.2C1264.2 720.9 1266.3 729.5 1267.0 733.0L1267.0 733.0C1264.2 735.3 1255.5 742.1 1250.5 746.7C1245.5 751.3 1240.7 752.5 1236.7 760.5C1232.7 768.5 1228.0 786.2 1226.3 795.0C1224.6 803.8 1226.3 810.0 1226.3 813.0L1226.3 813.0C1224.1 812.7 1217.6 811.4 1213.0 811.0C1208.4 810.6 1205.1 809.2 1198.7 810.6C1192.3 812.0 1180.8 814.5 1174.5 819.3C1168.2 824.1 1163.0 836.0 1160.7 839.3L1160.7 839.3C1158.6 837.1 1152.6 828.8 1148.0 826.0C1143.4 823.2 1141.2 822.4 1133.0 822.7C1124.8 823.0 1106.8 825.4 1098.5 827.9C1090.2 830.4 1085.6 836.0 1083.0 837.6L1083.0 837.6C1082.4 834.0 1082.7 821.7 1079.5 815.8C1076.3 809.9 1072.3 805.7 1064.0 802.0C1055.7 798.3 1037.5 793.4 1029.4 793.4C1021.3 793.4 1017.9 800.6 1015.6 802.0L1015.6 802.0C1015.9 798.5 1018.0 789.4 1017.4 781.3C1016.8 773.2 1014.9 760.8 1012.2 753.6C1009.5 746.4 1004.6 742.6 1001.0 738.0C997.4 733.4 992.2 728.0 990.5 726.0L990.5 726.0C992.6 722.7 1000.5 712.5 1003.2 706.0C1005.9 699.5 1007.0 694.2 1006.8 687.0C1006.6 679.8 1003.9 669.6 1002.0 663.0C1000.1 656.4 996.6 649.8 995.5 647.2L995.5 647.2C998.4 644.2 1007.1 633.7 1012.6 629.0C1018.1 624.3 1024.0 626.0 1028.7 619.0C1033.4 612.0 1039.1 593.5 1040.8 586.8C1042.5 580.1 1039.1 580.1 1038.8 578.7Z" fill="#CCFF99" stroke="#18B050" stroke-width="0.9" /><path d="M1352.2 599.0C1356.2 598.0 1368.2 597.4 1376.3 593.0C1384.3 588.6 1395.5 578.0 1400.5 572.8C1405.5 567.6 1404.7 565.2 1406.0 562.0C1407.3 558.8 1407.8 555.0 1408.1 553.6L1408.1 553.6C1410.2 555.8 1415.8 563.5 1420.6 566.7C1425.4 569.9 1432.3 573.1 1436.7 572.8C1441.1 572.5 1442.1 567.4 1446.8 564.7C1451.5 562.0 1460.1 559.8 1465.0 556.7C1469.9 553.6 1473.2 548.9 1476.0 546.0C1478.8 543.1 1481.0 540.6 1482.0 539.5L1482.0 539.5C1483.7 541.8 1487.8 547.6 1492.0 553.0C1496.2 558.4 1501.5 568.5 1507.2 571.8C1512.9 575.0 1519.6 572.4 1526.0 572.5C1532.4 572.6 1542.2 572.2 1545.5 572.2L1545.5 572.2C1545.7 575.0 1544.2 582.4 1546.5 588.9C1548.8 595.4 1554.7 605.3 1559.6 611.0C1564.5 616.7 1570.6 619.6 1576.0 623.0C1581.4 626.4 1589.2 630.1 1591.8 631.5L1591.8 631.5C1591.0 634.6 1588.0 643.5 1587.0 650.0C1586.0 656.5 1584.9 662.9 1585.7 670.3C1586.5 677.7 1588.9 688.4 1591.8 694.4C1594.7 700.4 1601.1 704.5 1602.9 706.5L1602.9 706.5C1599.4 708.9 1586.4 713.9 1581.7 720.6C1577.0 727.3 1575.7 739.9 1574.7 746.8C1573.8 753.7 1575.5 757.6 1576.0 762.0C1576.5 766.4 1577.4 771.2 1577.7 773.0L1577.7 773.0C1573.3 775.0 1558.5 779.3 1551.5 785.0C1544.5 790.7 1539.3 802.4 1535.4 807.2C1531.5 812.0 1530.3 812.0 1528.0 814.0C1525.7 816.0 1522.4 818.4 1521.3 819.3L1521.3 819.3C1518.8 818.5 1511.0 815.7 1506.0 814.5C1501.0 813.3 1498.5 811.4 1491.0 812.2C1483.5 813.0 1467.6 816.6 1460.9 819.3C1454.2 822.0 1452.5 826.8 1450.8 828.3L1450.8 828.3C1448.1 825.4 1441.4 816.4 1434.7 811.2C1428.0 806.0 1417.0 799.5 1410.5 797.0C1404.0 794.5 1400.3 796.0 1396.0 796.0C1391.7 796.0 1386.3 796.8 1384.4 797.0L1384.4 797.0C1384.1 794.2 1385.4 787.0 1382.4 780.0C1379.4 773.0 1371.3 760.5 1366.2 754.8C1361.1 749.1 1356.5 748.3 1352.0 746.0C1347.5 743.7 1341.2 741.7 1339.0 740.8L1339.0 740.8C1340.0 735.8 1344.2 720.6 1345.1 710.5C1345.9 700.4 1345.4 687.2 1344.1 680.3C1342.8 673.4 1339.3 672.5 1337.0 669.0C1334.7 665.5 1331.5 660.7 1330.4 659.0L1330.4 659.0C1332.8 655.4 1340.9 644.2 1345.0 637.2C1349.1 630.2 1353.7 622.0 1355.2 617.0C1356.7 612.0 1354.5 610.0 1354.0 607.0C1353.5 604.0 1352.5 600.3 1352.2 599.0Z" fill="url(#gM1)" stroke="#C81010" stroke-width="0.9" /><path d="M750.5 829.2L726.4 865.2L744.5 865.2C745.8 866.9 748.2 871.2 752.1 875.6C756.0 880.0 762.8 887.0 768.1 891.7C773.4 896.4 778.8 900.1 784.1 903.7C789.5 907.3 794.9 910.4 800.2 913.3C805.6 916.2 810.9 918.8 816.2 921.3C821.5 923.8 826.9 926.4 832.2 928.6C837.5 930.8 842.9 932.7 848.2 934.6C853.6 936.5 858.9 938.5 864.3 940.3C869.6 942.1 875.0 943.9 880.3 945.4C885.6 946.9 890.9 948.1 896.3 949.4C901.6 950.6 907.0 951.8 912.4 952.9C917.8 954.0 923.1 955.1 928.4 956.1C933.7 957.1 939.0 957.9 944.4 958.7C949.8 959.5 954.6 960.2 960.5 960.9C966.4 961.6 971.4 961.9 980.0 963.0C988.6 964.1 1001.4 966.2 1012.1 967.3C1022.8 968.4 1033.4 968.9 1044.1 969.4C1054.8 969.9 1065.5 970.0 1076.2 970.2C1086.9 970.4 1100.2 970.4 1108.2 970.5C1116.2 970.6 1116.3 970.6 1124.3 970.6C1132.3 970.6 1145.6 970.5 1156.3 970.2C1167.0 969.9 1177.7 969.5 1188.4 969.0C1199.1 968.5 1211.9 967.4 1220.5 966.9C1229.1 966.4 1233.0 966.6 1240.0 966.0C1247.0 965.4 1253.6 964.6 1262.2 963.3C1270.8 962.0 1281.9 960.2 1291.8 958.3C1301.7 956.4 1311.5 954.1 1321.4 951.7C1331.3 949.3 1341.1 946.7 1351.0 943.9C1360.9 941.1 1371.3 937.8 1380.6 934.7C1389.8 931.6 1397.9 928.8 1406.5 925.4C1415.1 922.0 1424.3 918.0 1432.3 914.3C1440.3 910.6 1447.7 907.1 1454.5 903.2C1461.3 899.4 1467.5 895.2 1473.0 891.2C1478.5 887.2 1483.5 883.2 1487.8 879.2C1492.1 875.2 1495.8 871.2 1498.9 867.2C1502.0 863.2 1504.4 859.3 1506.3 855.1C1508.2 850.9 1509.5 846.6 1510.4 842.2C1511.3 837.8 1511.3 831.1 1511.5 828.9L1475.3 828.9C1475.1 830.8 1474.8 836.5 1474.0 840.3C1473.2 844.0 1472.1 847.5 1470.3 851.4C1468.5 855.3 1465.8 859.6 1462.9 863.5C1460.0 867.4 1456.6 871.1 1452.7 874.6C1448.8 878.1 1444.3 881.3 1439.7 884.7C1435.1 888.1 1430.4 891.5 1424.9 894.9C1419.4 898.3 1413.3 901.5 1406.5 905.1C1399.7 908.7 1392.3 912.5 1384.3 916.2C1376.3 919.9 1367.0 923.9 1358.4 927.3C1349.8 930.7 1341.1 933.6 1332.5 936.5C1323.9 939.4 1315.8 942.1 1306.6 944.8C1297.3 947.5 1286.2 950.5 1277.0 952.8C1267.8 955.1 1257.3 957.4 1251.1 958.7C1244.9 960.0 1245.1 960.1 1240.0 960.8C1234.9 961.5 1229.1 962.1 1220.5 963.0C1211.9 963.9 1199.1 965.2 1188.4 966.2C1177.7 967.2 1167.0 968.1 1156.3 968.8C1145.6 969.4 1132.3 969.9 1124.3 970.1C1116.3 970.3 1116.2 970.1 1108.2 969.9C1100.2 969.7 1086.9 969.5 1076.2 969.1C1065.5 968.7 1054.8 968.3 1044.1 967.5C1033.4 966.7 1022.8 965.7 1012.1 964.1C1001.4 962.5 988.6 959.4 980.0 957.7C971.4 956.1 966.4 955.4 960.5 954.2C954.6 953.0 949.8 951.9 944.4 950.7C939.0 949.5 933.7 948.3 928.4 947.0C923.1 945.7 917.8 944.3 912.4 942.7C907.0 941.1 901.6 939.2 896.3 937.4C890.9 935.6 885.6 933.9 880.3 931.8C875.0 929.7 869.6 927.4 864.3 925.0C858.9 922.6 853.6 920.0 848.2 917.3C842.9 914.5 837.5 911.7 832.2 908.5C826.9 905.3 821.5 901.8 816.2 898.1C810.9 894.4 805.0 890.1 800.2 886.1C795.4 882.1 790.6 877.5 787.3 874.0C783.9 870.5 781.3 866.7 780.1 865.2L797.8 865.2Z" fill="url(#gBig)" stroke="none" stroke-width="1" /><text x="984.5" y="864.2" class="s" font-size="30.4" font-weight="bold" fill="#C00000" textLength="273.6" lengthAdjust="spacingAndGlyphs" >Naltriben-induced</text><text x="955.2" y="909" class="s" font-size="30.4" font-weight="bold" fill="#C00000" textLength="332.6" lengthAdjust="spacingAndGlyphs" >macrophage plasticity</text><text x="960.4" y="950.5" class="s" font-size="30.4" font-weight="bold" fill="#C00000" textLength="322.9" lengthAdjust="spacingAndGlyphs" >that promotes tumor</text><text x="939.4" y="680.5" class="s" font-size="26.8" font-weight="bold" fill="#C00000" textLength="48.2" lengthAdjust="spacingAndGlyphs" >+IL4</text><path d="M990.8 697.5H952.9V687.3L926.3 700.9L952.9 715V707.2H990.8Z" fill="#000" stroke="none" stroke-width="1" /><text x="1259.2" y="685.6" class="s" font-size="24.4" font-weight="bold" fill="#C00000" textLength="65.6" lengthAdjust="spacingAndGlyphs" >+IFNγ</text><path d="M1266 700.6H1311.7V691.5L1338.6 705.2L1311.7 718.4V709.8H1266Z" fill="#000" stroke="none" stroke-width="1" /><ellipse cx="802" cy="727.2" rx="79.8" ry="38.6" fill="#3B0B6B" transform="rotate(-3 802 727.2)"/><path d="M781.0 694.2 C753.3 696.3 731.6 708.8 730.6 728.9 C730.1 737.5 735.2 743.2 743.7 748.0 C742.2 740.4 739.1 732.7 739.6 726.9 C741.1 711.5 758.3 701.1 781.0 694.2 Z" fill="#CC99FF" stroke="none" stroke-width="1" /><path d="M853.8 735.3H742.7V722.4H749.5" fill="none" stroke="#FFE699" stroke-width="2" /><path d="M748.3 719.3L753.5 722.4L748.3 725.5Z" fill="#FFE699" stroke="none" stroke-width="1" /><text x="756.8" y="731.9" class="s" font-size="18.6" fill="#FFC000" textLength="135.9" lengthAdjust="spacingAndGlyphs" >Anti-inflammatory</text><text x="794" y="753" class="s" font-size="18.6" fill="#FFC000" textLength="42.3" lengthAdjust="spacingAndGlyphs" >genes</text><ellipse cx="1081.8" cy="723.8" rx="53" ry="27.4" fill="#3B0B6B" transform="rotate(-3 1081.8 723.8)"/><path d="M1069.0 700.3 C1049.2 701.6 1034.0 709.4 1033.0 722.0 C1032.5 729.9 1036.3 735.1 1042.5 739.5 C1041.0 732.5 1038.6 725.5 1039.1 720.0 C1040.6 711.1 1052.8 704.6 1069.0 700.3 Z" fill="#CC99FF" stroke="none" stroke-width="1" /><path d="M1116.8 727.7H1055.4V711.5H1066.6" fill="none" stroke="#FFE699" stroke-width="2" /><path d="M1065.4 708.4L1070.6 711.5L1065.4 714.6Z" fill="#FFE699" stroke="none" stroke-width="1" /><text x="1070.9" y="715.6" class="s" font-size="14.6" fill="#FFC000" textLength="40.8" lengthAdjust="spacingAndGlyphs" >mRNA</text><ellipse cx="1468" cy="728.7" rx="83.8" ry="35.6" fill="#3B0B6B" transform="rotate(-2 1468 728.7)"/><path d="M1447.8 698.0 C1417.9 699.8 1394.4 710.9 1393.4 728.7 C1392.9 737.3 1398.3 743.0 1407.5 747.8 C1405.7 740.2 1402.4 732.5 1402.9 726.7 C1404.4 713.4 1423.3 704.1 1447.8 698.0 Z" fill="#CC99FF" stroke="none" stroke-width="1" /><path d="M1521.3 735.1H1405.5V723.6H1412.8" fill="none" stroke="#FFE699" stroke-width="2" /><path d="M1411.6 720.5L1416.8 723.6L1411.6 726.7Z" fill="#FFE699" stroke="none" stroke-width="1" /><text x="1415.6" y="730" class="s" font-size="18.6" fill="#FFC000" textLength="131.4" lengthAdjust="spacingAndGlyphs" >pro-Inflammatory</text><text x="1449.4" y="751.8" class="s" font-size="18.6" fill="#FFC000" textLength="42.3" lengthAdjust="spacingAndGlyphs" >genes</text></g>
<g id="pg2"><circle cx="801" cy="478.5" r="1.15" fill="#C00000" stroke="none" stroke-width="0" /><circle cx="812.5" cy="479" r="1.15" fill="#C00000" stroke="none" stroke-width="0" /><circle cx="817" cy="483" r="1.15" fill="#C00000" stroke="none" stroke-width="0" /><circle cx="799" cy="487" r="1.15" fill="#C00000" stroke="none" stroke-width="0" /><circle cx="808.5" cy="485" r="1.15" fill="#C00000" stroke="none" stroke-width="0" /><circle cx="828.5" cy="486.5" r="1.15" fill="#C00000" stroke="none" stroke-width="0" /><circle cx="802.5" cy="492" r="1.15" fill="#C00000" stroke="none" stroke-width="0" /><circle cx="811" cy="490.5" r="1.15" fill="#C00000" stroke="none" stroke-width="0" /><circle cx="820.5" cy="491" r="1.15" fill="#C00000" stroke="none" stroke-width="0" /><circle cx="827.5" cy="494.5" r="1.15" fill="#C00000" stroke="none" stroke-width="0" /><circle cx="787.5" cy="496.5" r="1.15" fill="#C00000" stroke="none" stroke-width="0" /><circle cx="798" cy="498" r="1.15" fill="#C00000" stroke="none" stroke-width="0" /><circle cx="811" cy="499" r="1.15" fill="#C00000" stroke="none" stroke-width="0" /><circle cx="820.5" cy="499.5" r="1.15" fill="#C00000" stroke="none" stroke-width="0" /><circle cx="804" cy="503" r="1.15" fill="#C00000" stroke="none" stroke-width="0" /><circle cx="791.5" cy="506.5" r="1.15" fill="#C00000" stroke="none" stroke-width="0" /><circle cx="814" cy="507.5" r="1.15" fill="#C00000" stroke="none" stroke-width="0" /><circle cx="828.5" cy="508" r="1.15" fill="#C00000" stroke="none" stroke-width="0" /><circle cx="801.5" cy="512.5" r="1.15" fill="#C00000" stroke="none" stroke-width="0" /><path d="M800.5 562 C794 560.5 792.5 566 795.5 571.5 C797.5 574.5 800 574.5 802 573.5 M799 564 C803 571 810 573.5 818 573.5 M832 572.5 C838 574 843 571 848 571.5" fill="none" stroke="#2F5597" stroke-width="1.4" /><path d="M825.5 524.2 C822.5 517.6 810.8 516.5 805.4 522.5 C800.7 528.5 802.6 541.6 807.3 552.5 C811.5 563.4 816.2 573.2 822.3 573.2 C826.0 573.2 825.5 567.8 825.5 524.2 Z" fill="#C5E0B4" stroke="#F08030" stroke-width="0.7" /><path d="M813.1 519.8 C819.0 529.6 813.1 543.2 816.2 552.5 C818.5 561.2 819.0 567.8 820.9 572.1" fill="none" stroke="#F4A060" stroke-width="0.5" /><path d="M826.5 524.2 C829.5 517.6 841.2 516.5 846.6 522.5 C851.3 528.5 849.4 541.6 844.7 552.5 C840.5 563.4 835.8 573.2 829.7 573.2 C826.0 573.2 826.5 567.8 826.5 524.2 Z" fill="#C5E0B4" stroke="#F08030" stroke-width="0.7" /><path d="M838.9 519.8 C833.0 529.6 838.9 543.2 835.8 552.5 C833.5 561.2 833.0 567.8 831.1 572.1" fill="none" stroke="#F4A060" stroke-width="0.5" /><path d="M817 504.4 C821 506.5 824 512 825.2 523" fill="none" stroke="#000" stroke-width="2.3" stroke-linecap="round"/><path d="M825.8 572.0C826.0 573.3 826.1 577.8 827.0 580.0C827.9 582.2 829.9 584.4 831.0 585.5C832.1 586.6 833.1 586.3 833.5 586.4" fill="none" stroke="#000" stroke-width="2.6" stroke-linecap="round"/><path d="M838.6 588.4L831.7 589.6L834.3 582.9Z" fill="#000" stroke="none" stroke-width="1" /><g transform="translate(858.6 578.6) rotate(25)"><rect x="-12.5" y="-4.6" width="25" height="9.2" fill="#92D050"/><text x="-10.5" y="2.6" class="s" font-size="7.6" font-style="italic" fill="#000" textLength="21" lengthAdjust="spacingAndGlyphs" >Kinase</text></g><text x="860.5" y="545.3" class="s" font-size="23.4" fill="#843C0C" textLength="69.5" lengthAdjust="spacingAndGlyphs" >TRPM7</text><text x="778" y="608.6" class="s" font-size="19.0944" fill="#C5F0C5" textLength="26.52" lengthAdjust="spacingAndGlyphs" >Mg</text><text x="805.132" y="601.256" class="s" font-size="11.8385" fill="#C5F0C5" textLength="12.648" lengthAdjust="spacingAndGlyphs" >2+</text><text x="817.984" y="608.6" class="s" font-size="19.0944" fill="#C5F0C5" textLength="27.744" lengthAdjust="spacingAndGlyphs" >/Ca</text><text x="846.136" y="601.256" class="s" font-size="11.8385" fill="#C5F0C5" textLength="12.648" lengthAdjust="spacingAndGlyphs" >2+</text><text x="709.5" y="623.2" class="s" font-size="16.8" fill="#FFFF00" textLength="19.2" lengthAdjust="spacingAndGlyphs" >ER</text><circle cx="738.5" cy="576" r="1.2" fill="#C00000" stroke="none" stroke-width="0" /><circle cx="802.5" cy="552.5" r="1.2" fill="#C00000" stroke="none" stroke-width="0" /><circle cx="789" cy="583.5" r="1.2" fill="#C00000" stroke="none" stroke-width="0" /><circle cx="810" cy="587.8" r="1.2" fill="#C00000" stroke="none" stroke-width="0" /><circle cx="817.5" cy="587" r="1.2" fill="#C00000" stroke="none" stroke-width="0" /><circle cx="826.2" cy="588.5" r="1.2" fill="#C00000" stroke="none" stroke-width="0" /><circle cx="835.8" cy="592.5" r="1.2" fill="#C00000" stroke="none" stroke-width="0" /><circle cx="845" cy="591" r="1.2" fill="#C00000" stroke="none" stroke-width="0" /><circle cx="872" cy="608" r="1.2" fill="#C00000" stroke="none" stroke-width="0" /><circle cx="823" cy="615.5" r="1.2" fill="#C00000" stroke="none" stroke-width="0" /><circle cx="835" cy="625" r="1.2" fill="#C00000" stroke="none" stroke-width="0" /><circle cx="844.5" cy="615" r="1.2" fill="#C00000" stroke="none" stroke-width="0" /><circle cx="844.5" cy="629.5" r="1.2" fill="#C00000" stroke="none" stroke-width="0" /><circle cx="821.5" cy="627" r="1.2" fill="#C00000" stroke="none" stroke-width="0" /><circle cx="865" cy="647.5" r="1.2" fill="#C00000" stroke="none" stroke-width="0" /><circle cx="822" cy="662" r="1.2" fill="#C00000" stroke="none" stroke-width="0" /><circle cx="843" cy="675.5" r="1.2" fill="#C00000" stroke="none" stroke-width="0" /><circle cx="898.5" cy="642" r="1.2" fill="#C00000" stroke="none" stroke-width="0" /><circle cx="661.5" cy="672" r="1.2" fill="#C00000" stroke="none" stroke-width="0" /><circle cx="708.5" cy="726.5" r="1.2" fill="#C00000" stroke="none" stroke-width="0" /><circle cx="783" cy="705.5" r="1.2" fill="#C00000" stroke="none" stroke-width="0" /><circle cx="814" cy="699.5" r="1.2" fill="#C00000" stroke="none" stroke-width="0" /><circle cx="765" cy="748.5" r="1.2" fill="#C00000" stroke="none" stroke-width="0" /><circle cx="743.5" cy="775.5" r="1.2" fill="#C00000" stroke="none" stroke-width="0" /><circle cx="839" cy="773" r="1.2" fill="#C00000" stroke="none" stroke-width="0" /><path d="M697.3 657.4L698.9 656.5L700.1 654.8L701.3 652.9L702.5 651.1L703.9 649.5L705.4 648.3L707.3 647.0L709.8 645.7L712.6 644.4L715.5 643.2L718.5 642.1L721.5 641.3L724.7 640.6L728.1 640.0L731.7 639.6L735.3 639.3L738.7 639.2L741.7 639.1L744.4 639.2L747.2 639.6L749.9 640.1L752.4 640.6L754.6 640.9L756.5 640.4L756.6 637.7L755.1 636.5L752.9 635.3L750.3 634.1L747.3 633.0L744.0 632.1L740.6 631.7L737.0 631.5L733.1 631.5L729.1 631.6L725.2 632.1L721.3 632.7L717.7 633.6L714.2 634.8L710.7 636.3L707.5 637.9L704.5 639.7L701.9 641.7L699.5 643.9L697.7 646.6L696.5 649.3L695.7 651.8L695.3 654.0L695.3 655.8Z" fill="#FFF4E8" stroke="#FF7410" stroke-width="2.9" stroke-dasharray="0.1 3.1" stroke-linecap="round" stroke-linejoin="round"/><path d="M732.0 653.4L733.9 654.6L736.4 655.0L739.2 655.3L742.3 655.5L745.2 655.7L747.8 655.9L750.1 656.3L752.5 656.7L755.0 657.1L757.4 657.6L759.8 658.0L762.2 658.4L764.5 658.7L766.9 659.0L769.3 659.4L771.6 659.6L773.6 659.5L775.3 658.7L775.4 655.9L774.0 654.8L772.1 653.8L769.9 652.8L767.5 651.8L765.0 651.0L762.7 650.3L760.3 649.7L757.8 649.1L755.1 648.7L752.4 648.3L749.7 648.1L746.8 648.1L743.6 648.3L740.5 648.7L737.4 649.2L734.7 649.9L732.7 650.7Z" fill="#FFF4E8" stroke="#FF7410" stroke-width="2.9" stroke-dasharray="0.1 3.1" stroke-linecap="round" stroke-linejoin="round"/><path d="M691.4 666.4L689.7 668.6L688.8 671.7L688.1 675.5L687.7 679.7L687.5 684.2L687.8 688.5L688.7 693.1L690.0 697.9L691.7 702.7L693.5 707.1L695.2 710.7L697.5 712.9L700.0 711.0L699.8 707.4L699.1 703.0L698.2 698.3L697.2 693.6L696.4 689.3L696.0 685.7L695.7 681.8L695.5 677.8L695.3 673.9L694.9 670.4L694.3 667.5Z" fill="#FFF4E8" stroke="#FF7410" stroke-width="2.9" stroke-dasharray="0.1 3.1" stroke-linecap="round" stroke-linejoin="round"/><path d="M726.0 653.7L723.6 654.0L720.9 655.4L717.8 657.2L714.5 659.6L711.3 662.5L708.6 666.0L706.5 669.6L704.7 673.6L703.2 678.0L701.9 682.5L701.0 687.1L700.6 691.7L700.7 696.6L701.3 701.8L702.4 706.9L703.6 711.5L704.8 715.3L706.5 717.9L709.0 716.3L709.1 712.7L708.8 708.3L708.4 703.5L708.2 698.6L708.2 694.2L708.7 690.4L709.5 686.5L710.6 682.5L711.8 678.6L713.2 674.9L714.7 671.5L716.1 668.7L718.1 666.1L720.5 663.4L723.0 660.9L725.3 658.6L727.0 656.4Z" fill="#FFF4E8" stroke="#FF7410" stroke-width="2.9" stroke-dasharray="0.1 3.1" stroke-linecap="round" stroke-linejoin="round"/><path d="M757.0 665.1L754.6 664.3L751.4 664.1L747.5 664.3L743.3 664.9L739.0 665.9L735.0 667.6L731.5 669.9L728.3 672.6L725.4 675.7L722.7 679.1L720.4 682.6L718.4 686.3L717.0 690.5L716.1 695.0L715.7 699.4L715.6 703.6L715.7 707.0L716.6 709.5L719.4 708.9L720.5 706.0L721.5 702.4L722.4 698.4L723.6 694.5L724.8 691.1L726.4 688.4L728.3 685.5L730.5 682.6L732.9 679.9L735.4 677.4L737.9 675.3L740.2 673.6L743.2 672.3L746.8 671.1L750.4 670.0L753.8 669.1L756.5 668.0Z" fill="#FFF4E8" stroke="#FF7410" stroke-width="2.9" stroke-dasharray="0.1 3.1" stroke-linecap="round" stroke-linejoin="round"/><circle cx="727.5" cy="636.2" r="1.15" fill="#C00000" stroke="none" stroke-width="0" /><circle cx="747.5" cy="637" r="1.15" fill="#C00000" stroke="none" stroke-width="0" /><circle cx="743" cy="652.8" r="1.15" fill="#C00000" stroke="none" stroke-width="0" /><circle cx="768.5" cy="655.5" r="1.15" fill="#C00000" stroke="none" stroke-width="0" /><circle cx="693" cy="673.5" r="1.15" fill="#C00000" stroke="none" stroke-width="0" /><circle cx="718.5" cy="657" r="1.15" fill="#C00000" stroke="none" stroke-width="0" /><circle cx="711.5" cy="665.5" r="1.15" fill="#C00000" stroke="none" stroke-width="0" /><circle cx="704.5" cy="684" r="1.15" fill="#C00000" stroke="none" stroke-width="0" /><circle cx="737" cy="669.5" r="1.15" fill="#C00000" stroke="none" stroke-width="0" /><circle cx="721" cy="685" r="1.15" fill="#C00000" stroke="none" stroke-width="0" /><g transform="rotate(6 808.1 636.2)"><ellipse cx="808.1" cy="636.2" rx="27.8" ry="12.3" fill="#FF6A00" stroke="#FFD9B8" stroke-width="0.8" /><ellipse cx="808.1" cy="636.2" rx="26" ry="10.5" fill="none" stroke="#FFE8D0" stroke-width="0.5" /><path d="M788.2 642.7L790.1 631.4L791.0 642.7ZM794.4 628.4L796.1 641.4L797.2 628.4ZM800.6 644.7L802.5 629.9L803.4 644.7ZM806.8 627.4L808.5 642.0L809.6 627.4ZM813.0 644.7L814.9 629.9L815.8 644.7ZM819.2 628.4L820.9 641.4L822.0 628.4ZM825.4 642.7L827.3 631.4L828.2 642.7Z" fill="#FFFFFF" stroke="none" stroke-width="1" /></g><text x="780.5" y="657.4" class="s" font-size="9.4" fill="#111" textLength="62.5" lengthAdjust="spacingAndGlyphs" >Bioenergetics</text><text x="858" y="670.6" class="s" font-size="17" font-weight="bold" fill="#C00000" textLength="57.8" lengthAdjust="spacingAndGlyphs" >pSTAT6</text><path d="M838.5 613.0C840.9 614.2 848.4 616.2 853.0 620.0C857.6 623.8 863.2 631.4 866.0 636.0C868.8 640.6 869.3 645.4 870.0 647.3" fill="none" stroke="#4472C4" stroke-width="2.2" stroke-linecap="round"/><path d="M871.8 652.5L866.6 648.0L873.0 645.7Z" fill="#4472C4" stroke="none" stroke-width="1" /><path d="M805.0 664.5L805.0 690.0" fill="none" stroke="#4472C4" stroke-width="2.2" stroke-linecap="round"/><path d="M805.0 695.5L801.6 689.5L808.4 689.5Z" fill="#4472C4" stroke="none" stroke-width="1" /><path d="M868.5 678.5L842.0 697.3" fill="none" stroke="#4472C4" stroke-width="2.2" stroke-linecap="round"/><path d="M837.5 700.5L840.4 694.3L844.4 699.8Z" fill="#4472C4" stroke="none" stroke-width="1" /><circle cx="1030.8" cy="538.5" r="1.9" fill="#C0281C" stroke="#A02010" stroke-width="0.4" /><circle cx="1042.8" cy="528" r="1.9" fill="#C0281C" stroke="#A02010" stroke-width="0.4" /><circle cx="1056.8" cy="527" r="1.9" fill="#C0281C" stroke="#A02010" stroke-width="0.4" /><circle cx="1043.5" cy="540.8" r="1.9" fill="#C0281C" stroke="#A02010" stroke-width="0.4" /><circle cx="1057.8" cy="536.2" r="1.9" fill="#C0281C" stroke="#A02010" stroke-width="0.4" /><circle cx="1060.5" cy="542.3" r="1.9" fill="#C0281C" stroke="#A02010" stroke-width="0.4" /><path d="M1057.00 552.06A10.2 10.2 0 0 0 1058.60 571.60L1058.60 579.80A10.2 10.2 0 0 0 1057.00 599.34A3.78 3.78 0 0 1 1064.20 599.34A10.2 10.2 0 0 0 1062.60 579.80L1062.60 571.60A10.2 10.2 0 0 0 1064.20 552.06A3.78 3.78 0 0 1 1057.00 552.06 Z" fill="#FFCCFF" stroke="#14A850" stroke-width="1.9" stroke-linejoin="round"/><path d="M1052.5 545.8 C1056.5 547.5 1058.5 551 1059.6 555.5" fill="none" stroke="#000" stroke-width="2.3" stroke-linecap="round"/><path d="M1061.5 597.5C1061.7 598.8 1061.8 603.0 1062.5 605.0C1063.2 607.0 1065.0 608.8 1065.5 609.5C1066.0 610.2 1065.4 609.4 1065.4 609.4" fill="none" stroke="#000" stroke-width="2.6" stroke-linecap="round"/><path d="M1069.5 612.2L1062.9 612.1L1067.0 606.1Z" fill="#000" stroke="none" stroke-width="1" /><text x="979.4" y="544.5" class="s" font-size="23.4" fill="#00B050" textLength="32.5" lengthAdjust="spacingAndGlyphs" >Mg</text><text x="1012.65" y="535.5" class="s" font-size="14.508" fill="#00B050" textLength="15.5" lengthAdjust="spacingAndGlyphs" >2+</text><text x="958.3" y="574.1" class="s" font-size="23.4" fill="#00B050" textLength="89.5" lengthAdjust="spacingAndGlyphs" >channel?</text><circle cx="1124.5" cy="500.5" r="1.9" fill="#C0281C" stroke="#A02010" stroke-width="0.4" /><circle cx="1130.5" cy="496" r="1.9" fill="#C0281C" stroke="#A02010" stroke-width="0.4" /><circle cx="1144.3" cy="486.8" r="1.9" fill="#C0281C" stroke="#A02010" stroke-width="0.4" /><circle cx="1157.3" cy="498.5" r="1.9" fill="#C0281C" stroke="#A02010" stroke-width="0.4" /><circle cx="1126.8" cy="510.8" r="1.9" fill="#C0281C" stroke="#A02010" stroke-width="0.4" /><circle cx="1146.2" cy="507.8" r="1.9" fill="#C0281C" stroke="#A02010" stroke-width="0.4" /><circle cx="1157.3" cy="508.3" r="1.9" fill="#C0281C" stroke="#A02010" stroke-width="0.4" /><circle cx="1166" cy="513" r="1.9" fill="#C0281C" stroke="#A02010" stroke-width="0.4" /><path d="M1120.5 562.5 C1113.5 561 1112.5 567 1115 572.5 C1117 576.5 1120 577.5 1122.5 576.5 M1119 565 C1123 572 1129 574.5 1137 573.8 M1150.5 573.5 C1156 575.5 1162 574 1167.5 575.5" fill="none" stroke="#2F5597" stroke-width="1.4" /><path d="M1142.0 522.3 C1138.9 515.6 1126.8 514.5 1121.2 520.6 C1116.4 526.8 1118.3 540.2 1123.1 551.4 C1127.5 562.6 1132.3 572.7 1138.6 572.7 C1142.5 572.7 1142.0 567.1 1142.0 522.3 Z" fill="#C5E0B4" stroke="#F08030" stroke-width="0.7" /><path d="M1129.2 517.8 C1135.2 527.9 1129.2 541.9 1132.3 551.4 C1134.8 560.4 1135.2 567.1 1137.2 571.6" fill="none" stroke="#F4A060" stroke-width="0.5" /><path d="M1143.0 522.3 C1146.1 515.6 1158.2 514.5 1163.8 520.6 C1168.6 526.8 1166.7 540.2 1161.9 551.4 C1157.5 562.6 1152.7 572.7 1146.4 572.7 C1142.5 572.7 1143.0 567.1 1143.0 522.3 Z" fill="#C5E0B4" stroke="#F08030" stroke-width="0.7" /><path d="M1155.8 517.8 C1149.8 527.9 1155.8 541.9 1152.7 551.4 C1150.2 560.4 1149.8 567.1 1147.8 571.6" fill="none" stroke="#F4A060" stroke-width="0.5" /><path d="M1135.5 509.8 C1139.5 512 1141.5 516.5 1142.3 525" fill="none" stroke="#000" stroke-width="2.3" stroke-linecap="round"/><path d="M1143.3 571.5C1143.5 572.9 1143.6 577.3 1144.5 580.0C1145.4 582.7 1147.4 586.0 1148.5 587.5C1149.6 589.0 1150.9 588.7 1151.4 588.9" fill="none" stroke="#000" stroke-width="2.6" stroke-linecap="round"/><path d="M1156.3 591.3L1149.3 591.9L1152.5 585.4Z" fill="#000" stroke="none" stroke-width="1" /><g transform="translate(1176 580) rotate(24)"><rect x="-10" y="-4.2" width="20" height="8.4" fill="#FFE600"/><text x="-9" y="2.4" class="s" font-size="7" font-weight="bold" font-style="italic" fill="#000" textLength="18" lengthAdjust="spacingAndGlyphs" >Kinase</text></g><text x="1170" y="558.6" class="s" font-size="22.2" fill="#843C0C" textLength="70.5" lengthAdjust="spacingAndGlyphs" >TRPM7</text><text x="1114.6" y="609" class="s" font-size="19.0944" fill="#C00000" textLength="26.52" lengthAdjust="spacingAndGlyphs" >Mg</text><text x="1141.73" y="601.656" class="s" font-size="11.8385" fill="#C00000" textLength="12.648" lengthAdjust="spacingAndGlyphs" >2+</text><text x="1154.58" y="609" class="s" font-size="19.0944" fill="#C00000" textLength="27.744" lengthAdjust="spacingAndGlyphs" >/Ca</text><text x="1182.74" y="601.656" class="s" font-size="11.8385" fill="#C00000" textLength="12.648" lengthAdjust="spacingAndGlyphs" >2+</text><text x="1050.5" y="639.1" class="s" font-size="18.72" fill="#C00000" textLength="26" lengthAdjust="spacingAndGlyphs" >Mg</text><text x="1077.1" y="631.9" class="s" font-size="11.6064" fill="#C00000" textLength="12.4" lengthAdjust="spacingAndGlyphs" >2+</text><circle cx="1049" cy="605.5" r="1.9" fill="#C0281C" stroke="#A02010" stroke-width="0.4" /><circle cx="1081" cy="604.5" r="1.9" fill="#C0281C" stroke="#A02010" stroke-width="0.4" /><circle cx="1043.5" cy="621.8" r="1.9" fill="#C0281C" stroke="#A02010" stroke-width="0.4" /><circle cx="1061" cy="619.5" r="1.9" fill="#C0281C" stroke="#A02010" stroke-width="0.4" /><circle cx="1084.5" cy="616.5" r="1.9" fill="#C0281C" stroke="#A02010" stroke-width="0.4" /><circle cx="1077.5" cy="638.5" r="1.9" fill="#C0281C" stroke="#A02010" stroke-width="0.4" /><circle cx="1028.5" cy="659.2" r="1.9" fill="#C0281C" stroke="#A02010" stroke-width="0.4" /><circle cx="1115.5" cy="615.5" r="1.9" fill="#C0281C" stroke="#A02010" stroke-width="0.4" /><circle cx="1137.3" cy="616.5" r="1.9" fill="#C0281C" stroke="#A02010" stroke-width="0.4" /><circle cx="1145.6" cy="617.5" r="1.9" fill="#C0281C" stroke="#A02010" stroke-width="0.4" /><circle cx="1160" cy="613" r="1.9" fill="#C0281C" stroke="#A02010" stroke-width="0.4" /><circle cx="1126" cy="623.5" r="1.9" fill="#C0281C" stroke="#A02010" stroke-width="0.4" /><circle cx="1149.5" cy="624.5" r="1.9" fill="#C0281C" stroke="#A02010" stroke-width="0.4" /><circle cx="1212.8" cy="597" r="1.9" fill="#C0281C" stroke="#A02010" stroke-width="0.4" /><circle cx="1247" cy="667.2" r="1.9" fill="#C0281C" stroke="#A02010" stroke-width="0.4" /><circle cx="1233" cy="698" r="1.9" fill="#C0281C" stroke="#A02010" stroke-width="0.4" /><circle cx="1108.5" cy="767" r="1.9" fill="#C0281C" stroke="#A02010" stroke-width="0.4" /><circle cx="1161.5" cy="771" r="1.9" fill="#C0281C" stroke="#A02010" stroke-width="0.4" /><circle cx="1027.8" cy="659" r="1.9" fill="#C0281C" stroke="#A02010" stroke-width="0.4" /><path d="M1102.4 634.9L1105.4 650.0L1117.5 644.0L1113.8 655.1L1134.7 654.3L1116.2 660.7L1126.5 665.5L1112.3 666.9L1120.0 678.4L1106.6 672.1L1104.5 685.4L1098.8 671.5L1090.0 676.0L1091.6 670.3L1076.7 681.0L1089.1 668.3L1080.5 668.0L1086.2 661.9L1065.5 656.7L1086.6 656.0L1082.0 645.0L1096.2 650.3Z" fill="#C9E2BD" stroke="#6F7F6F" stroke-width="0.8" /><text x="1093.5" y="666.8" class="s" font-size="12.6" fill="#111" textLength="14.6" lengthAdjust="spacingAndGlyphs" >ER</text><ellipse cx="1182.7" cy="627.6" rx="10.6" ry="5.8" fill="#F8B8CC" stroke="#3a3a5a" stroke-width="0.6" /><text x="1175.8" y="630.5" class="s" font-size="8" fill="#203060" textLength="13.8" lengthAdjust="spacingAndGlyphs" >eIF2</text><circle cx="1185.8" cy="617.6" r="2.5" fill="none" stroke="#203060" stroke-width="0.5" /><text x="1184.3" y="619.6" class="s" font-size="4.6" font-weight="bold" fill="#203060" textLength="3" lengthAdjust="spacingAndGlyphs" >P</text><text x="1197.2" y="649.8" class="s" font-size="10" fill="#111" textLength="29.2" lengthAdjust="spacingAndGlyphs" >mTOR</text><path d="M1055.7 649.5C1055.8 652.1 1055.3 659.9 1056.0 665.0C1056.7 670.1 1058.5 676.0 1060.0 680.0C1061.5 684.0 1064.4 687.6 1065.3 689.2" fill="none" stroke="#4472C4" stroke-width="2.1" stroke-linecap="round"/><path d="M1067.8 693.5L1062.3 690.3L1067.8 687.1Z" fill="#4472C4" stroke="none" stroke-width="1" /><path d="M1146.4 625.5C1146.2 629.6 1146.6 641.8 1145.0 650.0C1143.4 658.2 1139.8 668.7 1137.0 675.0C1134.2 681.3 1129.6 685.7 1128.1 687.9" fill="none" stroke="#4472C4" stroke-width="2.1" stroke-linecap="round"/><path d="M1125.3 692.0L1125.8 685.7L1131.1 689.3Z" fill="#4472C4" stroke="none" stroke-width="1" /><path d="M1155.4 611.5C1155.5 614.9 1154.9 625.6 1156.0 632.0C1157.1 638.4 1160.1 645.2 1162.0 650.0C1163.9 654.8 1166.4 658.8 1167.3 660.5" fill="none" stroke="#4472C4" stroke-width="2.1" stroke-linecap="round"/><path d="M1169.5 665.0L1164.2 661.5L1169.9 658.6Z" fill="#4472C4" stroke="none" stroke-width="1" /><path d="M1177.5 607.5C1177.9 608.4 1179.5 611.5 1180.0 613.0C1180.5 614.5 1180.3 615.9 1180.4 616.4" fill="none" stroke="#4472C4" stroke-width="2" stroke-linecap="round"/><path d="M1180.8 620.5L1177.5 616.2L1183.1 615.6Z" fill="#4472C4" stroke="none" stroke-width="1" /><path d="M1190.5 634.0L1194.9 639.3" fill="none" stroke="#4472C4" stroke-width="2" stroke-linecap="round"/><path d="M1197.5 642.5L1192.4 640.7L1196.7 637.2Z" fill="#4472C4" stroke="none" stroke-width="1" /><path d="M1207.5 653.2L1203.0 662.0" fill="none" stroke="#4472C4" stroke-width="2" stroke-linecap="round"/><path d="M1201.0 666.0L1200.6 660.2L1205.9 662.9Z" fill="#4472C4" stroke="none" stroke-width="1" /><path d="M1200.4 701.8L1191.5 708.9" fill="none" stroke="#4472C4" stroke-width="1.6" stroke-linecap="round"/><path d="M1188.3 711.5L1190.3 706.6L1193.5 710.7Z" fill="#4472C4" stroke="none" stroke-width="1" /><path d="M1139.3 722.5L1157.4 725.6" fill="none" stroke="#4472C4" stroke-width="1.6" stroke-linecap="round"/><path d="M1161.4 726.3L1156.4 728.1L1157.3 723.0Z" fill="#4472C4" stroke="none" stroke-width="1" /><ellipse cx="1181.3" cy="678.6" rx="25.8" ry="10.5" fill="#FF6A00" stroke="#FFD9B8" stroke-width="0.8" /><ellipse cx="1181.3" cy="678.6" rx="24" ry="8.7" fill="none" stroke="#FFE8D0" stroke-width="0.5" /><path d="M1162.8 684.2L1164.7 674.5L1165.6 684.2ZM1168.5 671.9L1170.2 683.1L1171.3 671.9ZM1174.3 685.9L1176.2 673.3L1177.1 685.9ZM1180.0 671.1L1181.7 683.6L1182.8 671.1ZM1185.7 685.9L1187.6 673.3L1188.5 685.9ZM1191.5 671.9L1193.2 683.1L1194.3 671.9ZM1197.2 684.2L1199.1 674.5L1200.0 684.2Z" fill="#FFFFFF" stroke="none" stroke-width="1" /><text x="1153.8" y="697.3" class="s" font-size="9.4" fill="#111" textLength="62.2" lengthAdjust="spacingAndGlyphs" >Bioenergetics</text><text x="1170" y="726.7" class="s" font-size="14.2" fill="#111" textLength="82.2" lengthAdjust="spacingAndGlyphs" >Proliferation</text><text x="1181.4" y="746.7" class="s" font-size="14.2" fill="#111" textLength="58.8" lengthAdjust="spacingAndGlyphs" >/viability</text><circle cx="1452.5" cy="485.2" r="1.15" fill="#C00000" stroke="none" stroke-width="0" /><circle cx="1464.5" cy="485" r="1.15" fill="#C00000" stroke="none" stroke-width="0" /><circle cx="1469" cy="489.5" r="1.15" fill="#C00000" stroke="none" stroke-width="0" /><circle cx="1450.5" cy="492.5" r="1.15" fill="#C00000" stroke="none" stroke-width="0" /><circle cx="1460" cy="491.5" r="1.15" fill="#C00000" stroke="none" stroke-width="0" /><circle cx="1481" cy="492.2" r="1.15" fill="#C00000" stroke="none" stroke-width="0" /><circle cx="1454.5" cy="498" r="1.15" fill="#C00000" stroke="none" stroke-width="0" /><circle cx="1462.5" cy="496.5" r="1.15" fill="#C00000" stroke="none" stroke-width="0" /><circle cx="1472.5" cy="497" r="1.15" fill="#C00000" stroke="none" stroke-width="0" /><circle cx="1480" cy="500.5" r="1.15" fill="#C00000" stroke="none" stroke-width="0" /><circle cx="1438.5" cy="502" r="1.15" fill="#C00000" stroke="none" stroke-width="0" /><circle cx="1449" cy="503.5" r="1.15" fill="#C00000" stroke="none" stroke-width="0" /><circle cx="1473" cy="504" r="1.15" fill="#C00000" stroke="none" stroke-width="0" /><circle cx="1443" cy="511.5" r="1.15" fill="#C00000" stroke="none" stroke-width="0" /><circle cx="1455.5" cy="508" r="1.15" fill="#C00000" stroke="none" stroke-width="0" /><circle cx="1465" cy="505.5" r="1.15" fill="#C00000" stroke="none" stroke-width="0" /><circle cx="1453" cy="516.5" r="1.15" fill="#C00000" stroke="none" stroke-width="0" /><circle cx="1454" cy="553.8" r="1.15" fill="#C00000" stroke="none" stroke-width="0" /><path d="M1472.80 512.16A12 12 0 0 0 1474.60 535.16L1474.60 543.84A12 12 0 0 0 1472.80 566.84A4.41 4.41 0 0 1 1481.20 566.84A12 12 0 0 0 1479.40 543.84L1479.40 535.16A12 12 0 0 0 1481.20 512.16A4.41 4.41 0 0 1 1472.80 512.16 Z" fill="#FFCCFF" stroke="#14A850" stroke-width="1.9" stroke-linejoin="round"/><path d="M1466.5 501.5 C1470.5 503.5 1472.8 508 1473.8 515" fill="none" stroke="#000" stroke-width="2.3" stroke-linecap="round"/><path d="M1477.0 565.0C1477.1 565.9 1476.9 568.9 1477.5 570.5C1478.1 572.1 1479.8 573.8 1480.5 574.5C1481.2 575.2 1481.5 574.8 1481.8 574.9" fill="none" stroke="#000" stroke-width="2.6" stroke-linecap="round"/><path d="M1486.5 576.5L1480.1 578.2L1482.4 571.3Z" fill="#000" stroke="none" stroke-width="1" /><text x="1515.3" y="516.4" class="s" font-size="23.4" fill="#00B050" textLength="32.5" lengthAdjust="spacingAndGlyphs" >Mg</text><text x="1548.55" y="507.4" class="s" font-size="14.508" fill="#00B050" textLength="15.5" lengthAdjust="spacingAndGlyphs" >2+</text><text x="1494.1" y="546.2" class="s" font-size="23.4" fill="#00B050" textLength="89.2" lengthAdjust="spacingAndGlyphs" >channel?</text><text x="1484" y="603" class="s" font-size="18.5328" fill="#FFFF00" textLength="25.74" lengthAdjust="spacingAndGlyphs" >Mg</text><text x="1510.33" y="595.872" class="s" font-size="11.4903" fill="#FFFF00" textLength="12.276" lengthAdjust="spacingAndGlyphs" >2+</text><text x="1375.3" y="630.8" class="s" font-size="16.8" fill="#FFFF00" textLength="18.7" lengthAdjust="spacingAndGlyphs" >ER</text><circle cx="1402" cy="587.5" r="1.2" fill="#C00000" stroke="none" stroke-width="0" /><circle cx="1439.8" cy="582.5" r="1.2" fill="#C00000" stroke="none" stroke-width="0" /><circle cx="1462" cy="587" r="1.2" fill="#C00000" stroke="none" stroke-width="0" /><circle cx="1469.5" cy="586" r="1.2" fill="#C00000" stroke="none" stroke-width="0" /><circle cx="1478.8" cy="587.2" r="1.2" fill="#C00000" stroke="none" stroke-width="0" /><circle cx="1495.5" cy="584.5" r="1.2" fill="#C00000" stroke="none" stroke-width="0" /><circle cx="1495" cy="568.5" r="1.2" fill="#C00000" stroke="none" stroke-width="0" /><circle cx="1454" cy="603.8" r="1.2" fill="#C00000" stroke="none" stroke-width="0" /><circle cx="1475" cy="613.5" r="1.2" fill="#C00000" stroke="none" stroke-width="0" /><circle cx="1474" cy="625.5" r="1.2" fill="#C00000" stroke="none" stroke-width="0" /><circle cx="1486" cy="621" r="1.2" fill="#C00000" stroke="none" stroke-width="0" /><circle cx="1496" cy="611" r="1.2" fill="#C00000" stroke="none" stroke-width="0" /><circle cx="1497.5" cy="626.5" r="1.2" fill="#C00000" stroke="none" stroke-width="0" /><circle cx="1520" cy="619.8" r="1.2" fill="#C00000" stroke="none" stroke-width="0" /><circle cx="1526.5" cy="606" r="1.2" fill="#C00000" stroke="none" stroke-width="0" /><circle cx="1541.5" cy="612.5" r="1.2" fill="#C00000" stroke="none" stroke-width="0" /><circle cx="1486" cy="647.5" r="1.2" fill="#C00000" stroke="none" stroke-width="0" /><circle cx="1553.5" cy="648.5" r="1.2" fill="#C00000" stroke="none" stroke-width="0" /><circle cx="1510.5" cy="680.5" r="1.2" fill="#C00000" stroke="none" stroke-width="0" /><circle cx="1370.5" cy="727.5" r="1.2" fill="#C00000" stroke="none" stroke-width="0" /><circle cx="1448" cy="708.5" r="1.2" fill="#C00000" stroke="none" stroke-width="0" /><circle cx="1480" cy="703.5" r="1.2" fill="#C00000" stroke="none" stroke-width="0" /><circle cx="1429" cy="748.5" r="1.2" fill="#C00000" stroke="none" stroke-width="0" /><circle cx="1406.5" cy="773.2" r="1.2" fill="#C00000" stroke="none" stroke-width="0" /><circle cx="1506" cy="771" r="1.2" fill="#C00000" stroke="none" stroke-width="0" /><path d="M1363.2 657.1L1365.1 656.3L1366.7 654.7L1368.4 652.9L1370.3 651.0L1372.2 649.3L1374.1 648.0L1376.4 646.7L1379.2 645.4L1382.1 644.2L1385.2 643.0L1388.2 642.1L1391.2 641.4L1394.2 641.0L1397.4 640.7L1400.8 640.6L1404.1 640.7L1407.4 640.9L1410.4 641.1L1413.2 641.5L1416.1 642.1L1419.0 642.9L1421.7 643.7L1424.1 644.2L1426.2 643.9L1426.4 641.2L1424.7 639.8L1422.4 638.4L1419.7 636.9L1416.6 635.5L1413.3 634.3L1410.0 633.6L1406.5 633.0L1402.9 632.6L1399.1 632.5L1395.2 632.5L1391.5 632.9L1387.8 633.6L1384.2 634.6L1380.6 635.9L1377.2 637.5L1374.1 639.2L1371.2 641.1L1368.6 643.1L1366.3 645.7L1364.5 648.3L1363.1 650.8L1362.1 653.1L1361.6 655.0Z" fill="#FFF4E8" stroke="#FF7410" stroke-width="2.9" stroke-dasharray="0.1 3.1" stroke-linecap="round" stroke-linejoin="round"/><path d="M1400.0 655.2L1401.7 656.5L1403.9 657.0L1406.5 657.4L1409.3 657.7L1412.1 658.1L1414.6 658.4L1417.1 658.9L1419.7 659.4L1422.4 659.9L1425.0 660.4L1427.6 660.9L1430.0 661.3L1432.4 661.8L1434.8 662.2L1437.2 662.7L1439.5 663.0L1441.5 663.1L1443.2 662.4L1443.5 659.6L1442.2 658.4L1440.3 657.3L1438.1 656.1L1435.7 655.1L1433.2 654.1L1430.7 653.3L1428.1 652.6L1425.4 651.9L1422.5 651.4L1419.7 650.9L1416.8 650.7L1413.9 650.5L1410.9 650.6L1407.9 650.9L1405.1 651.3L1402.6 651.8L1400.7 652.5Z" fill="#FFF4E8" stroke="#FF7410" stroke-width="2.9" stroke-dasharray="0.1 3.1" stroke-linecap="round" stroke-linejoin="round"/><path d="M1357.1 663.4L1355.2 665.6L1354.0 668.8L1352.9 672.8L1351.9 677.1L1351.2 681.6L1350.8 685.8L1350.8 690.0L1351.0 694.4L1351.5 698.8L1352.2 702.8L1353.0 706.2L1354.7 708.5L1357.6 707.3L1358.3 704.3L1358.6 700.6L1358.8 696.4L1359.0 692.1L1359.1 688.1L1359.3 684.4L1359.6 680.3L1359.9 676.0L1360.2 671.8L1360.2 668.0L1359.8 664.9Z" fill="#FFF4E8" stroke="#FF7410" stroke-width="2.9" stroke-dasharray="0.1 3.1" stroke-linecap="round" stroke-linejoin="round"/><path d="M1393.9 653.6L1391.5 653.6L1388.6 654.5L1385.2 656.0L1381.6 657.9L1378.0 660.4L1374.9 663.6L1372.3 667.3L1370.1 671.3L1368.2 675.7L1366.6 680.2L1365.2 684.7L1364.2 689.0L1363.4 693.6L1363.0 698.4L1362.9 703.1L1363.1 707.3L1363.4 710.9L1364.5 713.5L1367.3 712.6L1368.2 709.5L1368.9 705.7L1369.6 701.4L1370.4 697.0L1371.3 692.9L1372.4 689.1L1373.8 685.0L1375.3 680.8L1376.9 676.8L1378.6 673.0L1380.3 669.8L1382.0 667.2L1384.3 664.8L1387.0 662.5L1389.9 660.4L1392.5 658.4L1394.5 656.4Z" fill="#FFF4E8" stroke="#FF7410" stroke-width="2.9" stroke-dasharray="0.1 3.1" stroke-linecap="round" stroke-linejoin="round"/><path d="M1423.3 666.4L1420.9 665.4L1417.7 665.1L1413.9 665.1L1409.7 665.4L1405.4 666.1L1401.3 667.4L1397.7 669.3L1394.3 671.7L1391.0 674.3L1388.0 677.3L1385.3 680.4L1382.8 683.7L1380.6 687.5L1378.8 691.7L1377.3 696.0L1376.1 700.0L1375.4 703.4L1375.7 706.1L1378.6 706.2L1380.3 703.6L1382.2 700.2L1384.1 696.5L1386.1 692.9L1388.2 689.7L1390.3 687.0L1392.7 684.4L1395.3 681.8L1398.0 679.4L1400.7 677.2L1403.4 675.3L1406.0 673.9L1409.2 672.7L1412.8 671.8L1416.5 671.0L1419.9 670.2L1422.6 669.2Z" fill="#FFF4E8" stroke="#FF7410" stroke-width="2.9" stroke-dasharray="0.1 3.1" stroke-linecap="round" stroke-linejoin="round"/><circle cx="1398" cy="637.5" r="1.15" fill="#C00000" stroke="none" stroke-width="0" /><circle cx="1417.5" cy="640" r="1.15" fill="#C00000" stroke="none" stroke-width="0" /><circle cx="1411" cy="654.5" r="1.15" fill="#C00000" stroke="none" stroke-width="0" /><circle cx="1436" cy="659" r="1.15" fill="#C00000" stroke="none" stroke-width="0" /><circle cx="1357" cy="670.5" r="1.15" fill="#C00000" stroke="none" stroke-width="0" /><circle cx="1385.5" cy="657" r="1.15" fill="#C00000" stroke="none" stroke-width="0" /><circle cx="1378" cy="664.5" r="1.15" fill="#C00000" stroke="none" stroke-width="0" /><circle cx="1372.5" cy="670" r="1.15" fill="#C00000" stroke="none" stroke-width="0" /><circle cx="1367.5" cy="681.5" r="1.15" fill="#C00000" stroke="none" stroke-width="0" /><circle cx="1402" cy="669.8" r="1.15" fill="#C00000" stroke="none" stroke-width="0" /><circle cx="1384.5" cy="683.5" r="1.15" fill="#C00000" stroke="none" stroke-width="0" /><path d="M1505.2 608.0C1505.3 610.3 1504.7 616.7 1506.0 622.0C1507.3 627.3 1508.4 634.4 1513.0 640.0C1517.6 645.6 1530.4 653.2 1533.8 655.9" fill="none" stroke="#FF0000" stroke-width="2.6" stroke-linecap="round"/><path d="M1538.6 659.5L1531.1 658.6L1535.7 652.5Z" fill="#FF0000" stroke="none" stroke-width="1" /><text x="1522.9" y="675.3" class="s" font-size="15.6" font-weight="bold" fill="#0000C0" textLength="51.8" lengthAdjust="spacingAndGlyphs" >pSTAT1</text><text x="1530" y="696.5" class="s" font-size="15.6" font-weight="bold" fill="#0000C0" textLength="37.6" lengthAdjust="spacingAndGlyphs" >NFkB</text><path d="M1536.4 697.5L1518.6 712.1" fill="none" stroke="#FF0000" stroke-width="2" stroke-linecap="round"/><path d="M1514.3 715.6L1516.8 709.2L1521.1 714.4Z" fill="#FF0000" stroke="none" stroke-width="1" /></g>
</svg>
</body></html>
